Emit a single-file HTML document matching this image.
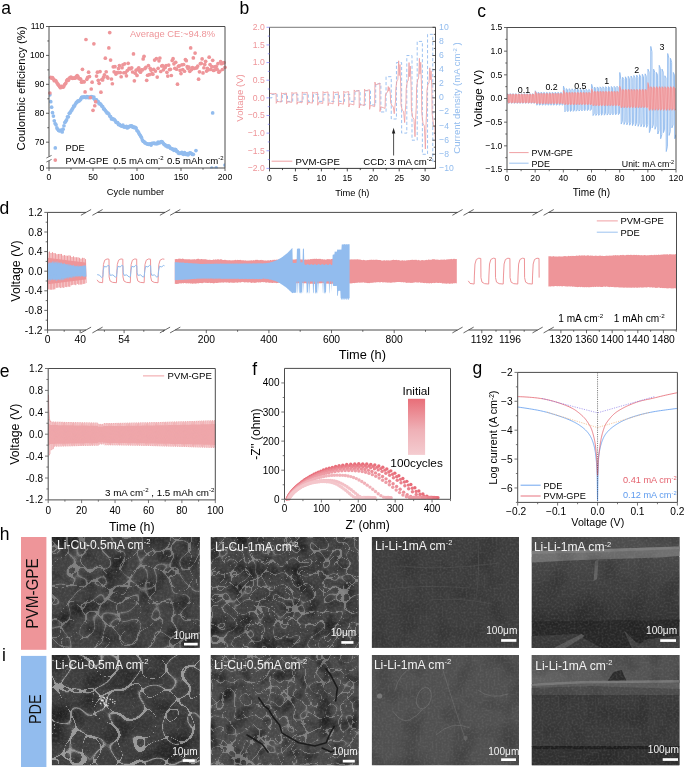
<!DOCTYPE html>
<html lang="en"><head><meta charset="utf-8"><title>Figure</title>
<style>
html,body{margin:0;padding:0;background:#fff;}
body{width:685px;height:767px;overflow:hidden;}
svg{display:block;font-family:"Liberation Sans",Arial,Helvetica,sans-serif;}
</style></head><body>
<svg width="685" height="767" viewBox="0 0 685 767">
<rect width="685" height="767" fill="#fff"/>
<defs></defs>
<clipPath id="ca"><rect x="49.0" y="26.5" width="176.0" height="142.0"/></clipPath>
<g fill="#92bcee" clip-path="url(#ca)">
<circle cx="49.88" cy="94.82" r="1.85"/>
<circle cx="50.76" cy="101.68" r="1.85"/>
<circle cx="51.64" cy="107.17" r="1.85"/>
<circle cx="52.52" cy="112.68" r="1.85"/>
<circle cx="53.4" cy="116.08" r="1.85"/>
<circle cx="54.28" cy="120.76" r="1.85"/>
<circle cx="55.16" cy="123.55" r="1.85"/>
<circle cx="56.04" cy="124.81" r="1.85"/>
<circle cx="56.92" cy="127.93" r="1.85"/>
<circle cx="57.8" cy="129.3" r="1.85"/>
<circle cx="58.68" cy="130.44" r="1.85"/>
<circle cx="59.56" cy="130.8" r="1.85"/>
<circle cx="60.44" cy="130.53" r="1.85"/>
<circle cx="61.32" cy="130.12" r="1.85"/>
<circle cx="62.2" cy="131.95" r="1.85"/>
<circle cx="63.08" cy="129.15" r="1.85"/>
<circle cx="63.96" cy="125.73" r="1.85"/>
<circle cx="64.84" cy="122.48" r="1.85"/>
<circle cx="65.72" cy="121.37" r="1.85"/>
<circle cx="66.6" cy="119.87" r="1.85"/>
<circle cx="67.48" cy="116.84" r="1.85"/>
<circle cx="68.36" cy="116.86" r="1.85"/>
<circle cx="69.24" cy="113.36" r="1.85"/>
<circle cx="70.12" cy="112.65" r="1.85"/>
<circle cx="71" cy="111.09" r="1.85"/>
<circle cx="71.88" cy="109.9" r="1.85"/>
<circle cx="72.76" cy="108.28" r="1.85"/>
<circle cx="73.64" cy="106.01" r="1.85"/>
<circle cx="74.52" cy="106.06" r="1.85"/>
<circle cx="75.4" cy="104.01" r="1.85"/>
<circle cx="76.28" cy="102.65" r="1.85"/>
<circle cx="77.16" cy="101.95" r="1.85"/>
<circle cx="78.04" cy="100.82" r="1.85"/>
<circle cx="78.92" cy="101.03" r="1.85"/>
<circle cx="79.8" cy="100.27" r="1.85"/>
<circle cx="80.68" cy="99.2" r="1.85"/>
<circle cx="81.56" cy="97.47" r="1.85"/>
<circle cx="82.44" cy="97.21" r="1.85"/>
<circle cx="83.32" cy="97.47" r="1.85"/>
<circle cx="84.2" cy="96.94" r="1.85"/>
<circle cx="85.08" cy="97.23" r="1.85"/>
<circle cx="85.96" cy="97.57" r="1.85"/>
<circle cx="86.84" cy="96.59" r="1.85"/>
<circle cx="87.72" cy="96.81" r="1.85"/>
<circle cx="88.6" cy="97.75" r="1.85"/>
<circle cx="89.48" cy="97.11" r="1.85"/>
<circle cx="90.36" cy="97.23" r="1.85"/>
<circle cx="91.24" cy="96.55" r="1.85"/>
<circle cx="92.12" cy="96.87" r="1.85"/>
<circle cx="93" cy="97.78" r="1.85"/>
<circle cx="93.88" cy="97.1" r="1.85"/>
<circle cx="94.76" cy="99.57" r="1.85"/>
<circle cx="95.64" cy="99.69" r="1.85"/>
<circle cx="96.52" cy="99.73" r="1.85"/>
<circle cx="97.4" cy="101.67" r="1.85"/>
<circle cx="98.28" cy="101.71" r="1.85"/>
<circle cx="99.16" cy="103.75" r="1.85"/>
<circle cx="100.04" cy="103.6" r="1.85"/>
<circle cx="100.92" cy="104.53" r="1.85"/>
<circle cx="101.8" cy="106.04" r="1.85"/>
<circle cx="102.68" cy="106.56" r="1.85"/>
<circle cx="103.56" cy="108.82" r="1.85"/>
<circle cx="104.44" cy="109.17" r="1.85"/>
<circle cx="105.32" cy="110.5" r="1.85"/>
<circle cx="106.2" cy="111.65" r="1.85"/>
<circle cx="107.08" cy="112.94" r="1.85"/>
<circle cx="107.96" cy="113.19" r="1.85"/>
<circle cx="108.84" cy="114.01" r="1.85"/>
<circle cx="109.72" cy="116" r="1.85"/>
<circle cx="110.6" cy="116.65" r="1.85"/>
<circle cx="111.48" cy="118.9" r="1.85"/>
<circle cx="112.36" cy="118.64" r="1.85"/>
<circle cx="113.24" cy="119.4" r="1.85"/>
<circle cx="114.12" cy="119.35" r="1.85"/>
<circle cx="115" cy="120.34" r="1.85"/>
<circle cx="115.88" cy="122.08" r="1.85"/>
<circle cx="116.76" cy="122.53" r="1.85"/>
<circle cx="117.64" cy="122.61" r="1.85"/>
<circle cx="118.52" cy="124.57" r="1.85"/>
<circle cx="119.4" cy="124.33" r="1.85"/>
<circle cx="120.28" cy="125.28" r="1.85"/>
<circle cx="121.16" cy="125.75" r="1.85"/>
<circle cx="122.04" cy="126.23" r="1.85"/>
<circle cx="122.92" cy="125.15" r="1.85"/>
<circle cx="123.8" cy="126.81" r="1.85"/>
<circle cx="124.68" cy="126.93" r="1.85"/>
<circle cx="125.56" cy="127" r="1.85"/>
<circle cx="126.44" cy="126.39" r="1.85"/>
<circle cx="127.32" cy="127.92" r="1.85"/>
<circle cx="128.2" cy="127.1" r="1.85"/>
<circle cx="129.08" cy="126.82" r="1.85"/>
<circle cx="129.96" cy="126.08" r="1.85"/>
<circle cx="130.84" cy="126.13" r="1.85"/>
<circle cx="131.72" cy="125.97" r="1.85"/>
<circle cx="132.6" cy="127.08" r="1.85"/>
<circle cx="133.48" cy="126.73" r="1.85"/>
<circle cx="134.36" cy="127.66" r="1.85"/>
<circle cx="135.24" cy="127.4" r="1.85"/>
<circle cx="136.12" cy="128.07" r="1.85"/>
<circle cx="137" cy="130.51" r="1.85"/>
<circle cx="137.88" cy="131.27" r="1.85"/>
<circle cx="138.76" cy="132.89" r="1.85"/>
<circle cx="139.64" cy="134.62" r="1.85"/>
<circle cx="140.52" cy="135.85" r="1.85"/>
<circle cx="141.4" cy="137.37" r="1.85"/>
<circle cx="142.28" cy="139.77" r="1.85"/>
<circle cx="143.16" cy="141.33" r="1.85"/>
<circle cx="144.04" cy="141.53" r="1.85"/>
<circle cx="144.92" cy="142.68" r="1.85"/>
<circle cx="145.8" cy="143.32" r="1.85"/>
<circle cx="146.68" cy="143.58" r="1.85"/>
<circle cx="147.56" cy="144.04" r="1.85"/>
<circle cx="148.44" cy="144.33" r="1.85"/>
<circle cx="149.32" cy="144.06" r="1.85"/>
<circle cx="150.2" cy="143.88" r="1.85"/>
<circle cx="151.08" cy="145.08" r="1.85"/>
<circle cx="151.96" cy="143.3" r="1.85"/>
<circle cx="152.84" cy="143.48" r="1.85"/>
<circle cx="153.72" cy="143.22" r="1.85"/>
<circle cx="154.6" cy="143.31" r="1.85"/>
<circle cx="155.48" cy="143.77" r="1.85"/>
<circle cx="156.36" cy="143.4" r="1.85"/>
<circle cx="157.24" cy="143.63" r="1.85"/>
<circle cx="158.12" cy="142.2" r="1.85"/>
<circle cx="159" cy="142.99" r="1.85"/>
<circle cx="159.88" cy="142.62" r="1.85"/>
<circle cx="160.76" cy="141.97" r="1.85"/>
<circle cx="161.64" cy="141.71" r="1.85"/>
<circle cx="162.52" cy="142.16" r="1.85"/>
<circle cx="163.4" cy="143.55" r="1.85"/>
<circle cx="164.28" cy="144.46" r="1.85"/>
<circle cx="165.16" cy="144.97" r="1.85"/>
<circle cx="166.04" cy="145.88" r="1.85"/>
<circle cx="166.92" cy="145.84" r="1.85"/>
<circle cx="167.8" cy="147.02" r="1.85"/>
<circle cx="168.68" cy="145.8" r="1.85"/>
<circle cx="169.56" cy="146.82" r="1.85"/>
<circle cx="170.44" cy="148.26" r="1.85"/>
<circle cx="171.32" cy="148.55" r="1.85"/>
<circle cx="172.2" cy="148.85" r="1.85"/>
<circle cx="173.08" cy="149.32" r="1.85"/>
<circle cx="173.96" cy="150.32" r="1.85"/>
<circle cx="174.84" cy="149.35" r="1.85"/>
<circle cx="175.72" cy="149.57" r="1.85"/>
<circle cx="176.6" cy="151.14" r="1.85"/>
<circle cx="177.48" cy="151.61" r="1.85"/>
<circle cx="178.36" cy="152.92" r="1.85"/>
<circle cx="179.24" cy="153.4" r="1.85"/>
<circle cx="180.12" cy="153.05" r="1.85"/>
<circle cx="181" cy="153.36" r="1.85"/>
<circle cx="181.88" cy="152.36" r="1.85"/>
<circle cx="182.76" cy="153.85" r="1.85"/>
<circle cx="183.64" cy="154.28" r="1.85"/>
<circle cx="184.52" cy="152.55" r="1.85"/>
<circle cx="185.4" cy="153.55" r="1.85"/>
<circle cx="186.28" cy="154.46" r="1.85"/>
<circle cx="187.16" cy="153.7" r="1.85"/>
<circle cx="188.04" cy="154.78" r="1.85"/>
<circle cx="188.92" cy="153.8" r="1.85"/>
<circle cx="189.8" cy="152.92" r="1.85"/>
<circle cx="190.68" cy="153.19" r="1.85"/>
<circle cx="191.56" cy="153.57" r="1.85"/>
<circle cx="192.44" cy="154.48" r="1.85"/>
<circle cx="193.32" cy="154.31" r="1.85"/>
<circle cx="195.96" cy="150.57" r="1.85"/>
<circle cx="212.68" cy="112.97" r="1.85"/>
<circle cx="211.8" cy="168" r="1.85"/>
<circle cx="216.2" cy="167.9" r="1.85"/>
<circle cx="225" cy="165" r="1.85"/>
</g>
<g fill="#ee9599">
<circle cx="49.88" cy="93.02" r="1.85"/>
<circle cx="50.76" cy="77.34" r="1.85"/>
<circle cx="51.64" cy="78.17" r="1.85"/>
<circle cx="52.52" cy="77.6" r="1.85"/>
<circle cx="53.4" cy="79.05" r="1.85"/>
<circle cx="54.28" cy="80.66" r="1.85"/>
<circle cx="55.16" cy="80.26" r="1.85"/>
<circle cx="56.04" cy="81.06" r="1.85"/>
<circle cx="56.92" cy="82.74" r="1.85"/>
<circle cx="57.8" cy="84.03" r="1.85"/>
<circle cx="58.68" cy="85.15" r="1.85"/>
<circle cx="59.56" cy="86.54" r="1.85"/>
<circle cx="60.44" cy="87.66" r="1.85"/>
<circle cx="61.32" cy="86.46" r="1.85"/>
<circle cx="62.2" cy="86.57" r="1.85"/>
<circle cx="63.08" cy="87.15" r="1.85"/>
<circle cx="63.96" cy="86.07" r="1.85"/>
<circle cx="64.84" cy="84.25" r="1.85"/>
<circle cx="65.72" cy="83.23" r="1.85"/>
<circle cx="66.6" cy="80.89" r="1.85"/>
<circle cx="67.48" cy="79.5" r="1.85"/>
<circle cx="68.36" cy="80.35" r="1.85"/>
<circle cx="69.24" cy="78.3" r="1.85"/>
<circle cx="70.12" cy="77.53" r="1.85"/>
<circle cx="71" cy="77" r="1.85"/>
<circle cx="71.88" cy="78.08" r="1.85"/>
<circle cx="72.76" cy="78.35" r="1.85"/>
<circle cx="73.64" cy="78.19" r="1.85"/>
<circle cx="74.52" cy="78.13" r="1.85"/>
<circle cx="75.4" cy="77.96" r="1.85"/>
<circle cx="76.28" cy="76.61" r="1.85"/>
<circle cx="77.16" cy="75.66" r="1.85"/>
<circle cx="78.04" cy="76.63" r="1.85"/>
<circle cx="78.92" cy="78.47" r="1.85"/>
<circle cx="79.8" cy="78.76" r="1.85"/>
<circle cx="80.68" cy="79.14" r="1.85"/>
<circle cx="81.56" cy="82.14" r="1.85"/>
<circle cx="82.44" cy="69.3" r="1.85"/>
<circle cx="83.32" cy="81.64" r="1.85"/>
<circle cx="84.2" cy="81.82" r="1.85"/>
<circle cx="85.08" cy="91.9" r="1.85"/>
<circle cx="85.96" cy="39.51" r="1.85"/>
<circle cx="86.84" cy="79.36" r="1.85"/>
<circle cx="87.72" cy="77.29" r="1.85"/>
<circle cx="88.6" cy="72.19" r="1.85"/>
<circle cx="89.48" cy="76.6" r="1.85"/>
<circle cx="90.36" cy="97.55" r="1.85"/>
<circle cx="91.24" cy="88.99" r="1.85"/>
<circle cx="92.12" cy="82.22" r="1.85"/>
<circle cx="93" cy="110.37" r="1.85"/>
<circle cx="93.88" cy="43.85" r="1.85"/>
<circle cx="94.76" cy="105.74" r="1.85"/>
<circle cx="95.64" cy="101.69" r="1.85"/>
<circle cx="96.52" cy="76.08" r="1.85"/>
<circle cx="97.4" cy="72.21" r="1.85"/>
<circle cx="98.28" cy="80.32" r="1.85"/>
<circle cx="99.16" cy="83.29" r="1.85"/>
<circle cx="100.04" cy="71.54" r="1.85"/>
<circle cx="100.92" cy="92.21" r="1.85"/>
<circle cx="101.8" cy="79.58" r="1.85"/>
<circle cx="102.68" cy="79.91" r="1.85"/>
<circle cx="103.56" cy="77.14" r="1.85"/>
<circle cx="104.44" cy="74.78" r="1.85"/>
<circle cx="105.32" cy="58.17" r="1.85"/>
<circle cx="106.2" cy="71.76" r="1.85"/>
<circle cx="107.08" cy="76.94" r="1.85"/>
<circle cx="107.96" cy="78.12" r="1.85"/>
<circle cx="108.84" cy="47.9" r="1.85"/>
<circle cx="109.72" cy="32.57" r="1.85"/>
<circle cx="110.6" cy="60.05" r="1.85"/>
<circle cx="111.48" cy="78.99" r="1.85"/>
<circle cx="112.36" cy="83.76" r="1.85"/>
<circle cx="113.24" cy="66.83" r="1.85"/>
<circle cx="114.12" cy="71.83" r="1.85"/>
<circle cx="115" cy="66.67" r="1.85"/>
<circle cx="115.88" cy="74.1" r="1.85"/>
<circle cx="116.76" cy="72.51" r="1.85"/>
<circle cx="117.64" cy="72.71" r="1.85"/>
<circle cx="118.52" cy="68.61" r="1.85"/>
<circle cx="119.4" cy="65.54" r="1.85"/>
<circle cx="120.28" cy="72.56" r="1.85"/>
<circle cx="121.16" cy="76.76" r="1.85"/>
<circle cx="122.04" cy="67.77" r="1.85"/>
<circle cx="122.92" cy="64.86" r="1.85"/>
<circle cx="123.8" cy="72.77" r="1.85"/>
<circle cx="124.68" cy="63.81" r="1.85"/>
<circle cx="125.56" cy="72.58" r="1.85"/>
<circle cx="126.44" cy="75.86" r="1.85"/>
<circle cx="127.32" cy="70.56" r="1.85"/>
<circle cx="128.2" cy="63.28" r="1.85"/>
<circle cx="129.08" cy="68.39" r="1.85"/>
<circle cx="129.96" cy="68.81" r="1.85"/>
<circle cx="130.84" cy="68.49" r="1.85"/>
<circle cx="131.72" cy="67.84" r="1.85"/>
<circle cx="132.6" cy="72.02" r="1.85"/>
<circle cx="133.48" cy="53.97" r="1.85"/>
<circle cx="134.36" cy="80.87" r="1.85"/>
<circle cx="135.24" cy="73.16" r="1.85"/>
<circle cx="136.12" cy="70.2" r="1.85"/>
<circle cx="137" cy="75.38" r="1.85"/>
<circle cx="137.88" cy="69.22" r="1.85"/>
<circle cx="138.76" cy="67.83" r="1.85"/>
<circle cx="139.64" cy="70.91" r="1.85"/>
<circle cx="140.52" cy="72.21" r="1.85"/>
<circle cx="141.4" cy="69.86" r="1.85"/>
<circle cx="142.28" cy="69.89" r="1.85"/>
<circle cx="143.16" cy="58.96" r="1.85"/>
<circle cx="144.04" cy="56.29" r="1.85"/>
<circle cx="144.92" cy="68.58" r="1.85"/>
<circle cx="145.8" cy="67.46" r="1.85"/>
<circle cx="146.68" cy="80.3" r="1.85"/>
<circle cx="147.56" cy="75.26" r="1.85"/>
<circle cx="148.44" cy="65.51" r="1.85"/>
<circle cx="149.32" cy="74.71" r="1.85"/>
<circle cx="150.2" cy="68.34" r="1.85"/>
<circle cx="151.08" cy="70.21" r="1.85"/>
<circle cx="151.96" cy="73.71" r="1.85"/>
<circle cx="152.84" cy="74.17" r="1.85"/>
<circle cx="153.72" cy="69.32" r="1.85"/>
<circle cx="154.6" cy="60.05" r="1.85"/>
<circle cx="155.48" cy="71.04" r="1.85"/>
<circle cx="156.36" cy="58.59" r="1.85"/>
<circle cx="157.24" cy="77.12" r="1.85"/>
<circle cx="158.12" cy="68.34" r="1.85"/>
<circle cx="159" cy="60.87" r="1.85"/>
<circle cx="159.88" cy="58.01" r="1.85"/>
<circle cx="160.76" cy="71.52" r="1.85"/>
<circle cx="161.64" cy="66" r="1.85"/>
<circle cx="162.52" cy="65.68" r="1.85"/>
<circle cx="163.4" cy="69.78" r="1.85"/>
<circle cx="164.28" cy="67" r="1.85"/>
<circle cx="165.16" cy="67.61" r="1.85"/>
<circle cx="166.04" cy="65.58" r="1.85"/>
<circle cx="166.92" cy="72.36" r="1.85"/>
<circle cx="167.8" cy="76.09" r="1.85"/>
<circle cx="168.68" cy="65.11" r="1.85"/>
<circle cx="169.56" cy="69.55" r="1.85"/>
<circle cx="170.44" cy="69.32" r="1.85"/>
<circle cx="171.32" cy="75.48" r="1.85"/>
<circle cx="172.2" cy="60.48" r="1.85"/>
<circle cx="173.08" cy="58.66" r="1.85"/>
<circle cx="173.96" cy="63.78" r="1.85"/>
<circle cx="174.84" cy="68.35" r="1.85"/>
<circle cx="175.72" cy="62.27" r="1.85"/>
<circle cx="176.6" cy="69.19" r="1.85"/>
<circle cx="177.48" cy="84.17" r="1.85"/>
<circle cx="178.36" cy="66.23" r="1.85"/>
<circle cx="179.24" cy="65.95" r="1.85"/>
<circle cx="180.12" cy="70.4" r="1.85"/>
<circle cx="181" cy="73.58" r="1.85"/>
<circle cx="181.88" cy="64.81" r="1.85"/>
<circle cx="182.76" cy="69.49" r="1.85"/>
<circle cx="183.64" cy="64.49" r="1.85"/>
<circle cx="184.52" cy="71.24" r="1.85"/>
<circle cx="185.4" cy="59.58" r="1.85"/>
<circle cx="186.28" cy="60.64" r="1.85"/>
<circle cx="187.16" cy="66.71" r="1.85"/>
<circle cx="188.04" cy="68.54" r="1.85"/>
<circle cx="188.92" cy="67.18" r="1.85"/>
<circle cx="189.8" cy="71.33" r="1.85"/>
<circle cx="190.68" cy="47.9" r="1.85"/>
<circle cx="191.56" cy="69.56" r="1.85"/>
<circle cx="192.44" cy="67.72" r="1.85"/>
<circle cx="193.32" cy="57.93" r="1.85"/>
<circle cx="194.2" cy="68.47" r="1.85"/>
<circle cx="195.08" cy="53.11" r="1.85"/>
<circle cx="195.96" cy="68.02" r="1.85"/>
<circle cx="196.84" cy="67.72" r="1.85"/>
<circle cx="197.72" cy="66.01" r="1.85"/>
<circle cx="198.6" cy="79.13" r="1.85"/>
<circle cx="199.48" cy="71.86" r="1.85"/>
<circle cx="200.36" cy="63.61" r="1.85"/>
<circle cx="201.24" cy="63.38" r="1.85"/>
<circle cx="202.12" cy="58.94" r="1.85"/>
<circle cx="203" cy="72.93" r="1.85"/>
<circle cx="203.88" cy="67.74" r="1.85"/>
<circle cx="204.76" cy="64.45" r="1.85"/>
<circle cx="205.64" cy="61.32" r="1.85"/>
<circle cx="206.52" cy="71.04" r="1.85"/>
<circle cx="207.4" cy="68.3" r="1.85"/>
<circle cx="208.28" cy="69.83" r="1.85"/>
<circle cx="209.16" cy="57.16" r="1.85"/>
<circle cx="210.04" cy="64.6" r="1.85"/>
<circle cx="210.92" cy="69.47" r="1.85"/>
<circle cx="211.8" cy="66.6" r="1.85"/>
<circle cx="212.68" cy="60.35" r="1.85"/>
<circle cx="213.56" cy="70.51" r="1.85"/>
<circle cx="214.44" cy="66.83" r="1.85"/>
<circle cx="215.32" cy="69.74" r="1.85"/>
<circle cx="216.2" cy="66.3" r="1.85"/>
<circle cx="217.08" cy="69.17" r="1.85"/>
<circle cx="217.96" cy="63.63" r="1.85"/>
<circle cx="218.84" cy="72.15" r="1.85"/>
<circle cx="219.72" cy="71.27" r="1.85"/>
<circle cx="220.6" cy="61.66" r="1.85"/>
<circle cx="221.48" cy="63.68" r="1.85"/>
<circle cx="222.36" cy="69.5" r="1.85"/>
<circle cx="223.24" cy="62.94" r="1.85"/>
<circle cx="224.12" cy="62.69" r="1.85"/>
<circle cx="225" cy="67.37" r="1.85"/>
</g>
<line x1="49" y1="26.5" x2="225" y2="26.5" stroke="#4c4c4c" stroke-width="1.0" />
<line x1="225" y1="26.5" x2="225" y2="168" stroke="#4c4c4c" stroke-width="1.0" />
<line x1="49" y1="26.5" x2="49" y2="156.6" stroke="#4c4c4c" stroke-width="1.0" />
<line x1="49" y1="160.8" x2="49" y2="168" stroke="#4c4c4c" stroke-width="1.0" />
<line x1="49" y1="168" x2="225" y2="168" stroke="#4c4c4c" stroke-width="1.0" />
<line x1="46.4" y1="158" x2="51.6" y2="155.4" stroke="#3a3a3a" stroke-width="0.7" />
<line x1="46.4" y1="162" x2="51.6" y2="159.4" stroke="#3a3a3a" stroke-width="0.7" />
<line x1="46" y1="142.18" x2="49" y2="142.18" stroke="#3a3a3a" stroke-width="0.8" />
<text transform="translate(44.4 145.08) scale(0.92 1)" font-size="9.4" text-anchor="end" fill="#000" >70</text>
<line x1="46" y1="113.26" x2="49" y2="113.26" stroke="#3a3a3a" stroke-width="0.8" />
<text transform="translate(44.4 116.16) scale(0.92 1)" font-size="9.4" text-anchor="end" fill="#000" >80</text>
<line x1="46" y1="84.34" x2="49" y2="84.34" stroke="#3a3a3a" stroke-width="0.8" />
<text transform="translate(44.4 87.24) scale(0.92 1)" font-size="9.4" text-anchor="end" fill="#000" >90</text>
<line x1="46" y1="55.42" x2="49" y2="55.42" stroke="#3a3a3a" stroke-width="0.8" />
<text transform="translate(44.4 58.32) scale(0.92 1)" font-size="9.4" text-anchor="end" fill="#000" >100</text>
<line x1="46" y1="26.5" x2="49" y2="26.5" stroke="#3a3a3a" stroke-width="0.8" />
<text transform="translate(44.4 29.4) scale(0.92 1)" font-size="9.4" text-anchor="end" fill="#000" >110</text>
<line x1="47.3" y1="127.72" x2="49" y2="127.72" stroke="#3a3a3a" stroke-width="0.8" />
<line x1="47.3" y1="98.8" x2="49" y2="98.8" stroke="#3a3a3a" stroke-width="0.8" />
<line x1="47.3" y1="69.88" x2="49" y2="69.88" stroke="#3a3a3a" stroke-width="0.8" />
<line x1="47.3" y1="40.96" x2="49" y2="40.96" stroke="#3a3a3a" stroke-width="0.8" />
<line x1="46" y1="168" x2="49" y2="168" stroke="#3a3a3a" stroke-width="0.8" />
<text transform="translate(44.4 170.9) scale(0.92 1)" font-size="9.4" text-anchor="end" fill="#000" >0</text>
<line x1="49" y1="168" x2="49" y2="171" stroke="#3a3a3a" stroke-width="0.8" />
<text transform="translate(49 180) scale(0.92 1)" font-size="9.4" text-anchor="middle" fill="#000" >0</text>
<line x1="93" y1="168" x2="93" y2="171" stroke="#3a3a3a" stroke-width="0.8" />
<text transform="translate(93 180) scale(0.92 1)" font-size="9.4" text-anchor="middle" fill="#000" >50</text>
<line x1="137" y1="168" x2="137" y2="171" stroke="#3a3a3a" stroke-width="0.8" />
<text transform="translate(137 180) scale(0.92 1)" font-size="9.4" text-anchor="middle" fill="#000" >100</text>
<line x1="181" y1="168" x2="181" y2="171" stroke="#3a3a3a" stroke-width="0.8" />
<text transform="translate(181 180) scale(0.92 1)" font-size="9.4" text-anchor="middle" fill="#000" >150</text>
<line x1="225" y1="168" x2="225" y2="171" stroke="#3a3a3a" stroke-width="0.8" />
<text transform="translate(225 180) scale(0.92 1)" font-size="9.4" text-anchor="middle" fill="#000" >200</text>
<line x1="71" y1="168" x2="71" y2="169.7" stroke="#3a3a3a" stroke-width="0.8" />
<line x1="115" y1="168" x2="115" y2="169.7" stroke="#3a3a3a" stroke-width="0.8" />
<line x1="159" y1="168" x2="159" y2="169.7" stroke="#3a3a3a" stroke-width="0.8" />
<line x1="203" y1="168" x2="203" y2="169.7" stroke="#3a3a3a" stroke-width="0.8" />
<text x="135.5" y="194.6" font-size="9.3" text-anchor="middle" fill="#000" >Cycle number</text>
<text x="25" y="88.4" font-size="11.3" text-anchor="middle" fill="#000" transform="rotate(-90 25 88.4)" >Coulombic efficiency (%)</text>
<circle cx="55.3" cy="147.9" r="1.85" fill="#92bcee"/>
<circle cx="55.3" cy="160.1" r="1.85" fill="#ee9599"/>
<text transform="translate(65.5 151.3) scale(0.95 1)" font-size="9.8" text-anchor="start" fill="#000" >PDE</text>
<text transform="translate(65.5 163.6) scale(0.95 1)" font-size="9.8" text-anchor="start" fill="#000" >PVM-GPE</text>
<text x="113" y="163.6" font-size="9.6" text-anchor="start" fill="#000" >0.5 mA cm<tspan dy="-3.46" font-size="5.95">-2</tspan><tspan dy="3.46" font-size="9.6">​</tspan></text>
<text x="167" y="163.6" font-size="9.6" text-anchor="start" fill="#000" >0.5 mAh cm<tspan dy="-3.46" font-size="5.95">-2</tspan><tspan dy="3.46" font-size="9.6">​</tspan></text>
<text x="130" y="37.2" font-size="9.4" text-anchor="start" fill="#ee9599" >Average CE:~94.8%</text>
<text x="1.3" y="13.8" font-size="17.5" text-anchor="start" fill="#000" >a</text>
<clipPath id="cb"><rect x="269.5" y="27.3" width="166.0" height="141.1"/></clipPath>
<polyline points="269.5,97.85 271.94,97.85 271.94,94.32 277.13,94.32 277.13,101.38 282.31,101.38 282.31,94.32 287.5,94.32 287.5,101.38 292.69,101.38 292.69,94.32 297.88,94.32 297.88,101.38 303.06,101.38 303.06,94.32 308.25,94.32 308.25,101.38 313.44,101.38 313.44,94.32 318.63,94.32 318.63,101.38 323.81,101.38 323.81,94.32 329,94.32 329,101.38 334.19,101.38 334.19,94.32 339.38,94.32 339.38,101.38 344.56,101.38 344.56,94.32 349.75,94.32 349.75,101.38 354.94,101.38 354.94,90.79 360.13,90.79 360.13,104.91 365.31,104.91 365.31,90.79 370.5,90.79 370.5,104.91 375.69,104.91 375.69,83.74 380.88,83.74 380.88,111.96 386.06,111.96 386.06,76.69 391.25,76.69 391.25,119.01 396.44,119.01 396.44,62.57 401.63,62.57 401.63,133.12 406.81,133.12 406.81,55.52 412,55.52 412,140.18 417.19,140.18 417.19,41.41 422.38,41.41 422.38,154.29 427.56,154.29 427.56,34.35 432.75,34.35 432.75,161.34 437.94,161.34" fill="none" stroke="#8bb7ee" stroke-width="0.85" stroke-linejoin="round" stroke-dasharray="3.2 2.1" clip-path="url(#cb)"/>
<polyline points="269.5,93.97 271.16,93.11 271.99,93.96 274.17,93.74 276.09,93.4 276.24,103.35 276.97,101.45 279.36,101.74 281.28,102.08 281.54,92.71 282.37,93.63 284.54,93.4 286.46,93.03 286.62,103.81 287.35,101.75 289.73,102.07 291.65,102.44 291.91,92.32 292.74,93.31 294.92,93.06 296.84,92.66 296.99,104.27 297.72,102.05 300.11,102.39 302.03,102.79 302.28,91.92 303.12,92.98 305.29,92.72 307.21,92.29 307.37,104.73 308.1,102.35 310.48,102.72 312.4,103.14 312.66,91.92 313.49,92.98 315.67,92.72 317.59,92.29 317.74,105.19 318.47,102.65 320.86,103.04 322.78,103.49 323.04,91.53 323.87,92.66 326.04,92.37 327.96,91.92 328.12,105.65 328.85,102.95 331.23,103.37 333.15,103.85 333.41,91.53 334.24,92.66 336.42,92.37 338.34,91.92 338.49,106.11 339.22,103.25 341.61,103.69 343.53,104.2 343.78,91.13 344.62,92.33 346.79,92.03 348.71,91.55 348.87,107.02 349.6,103.85 351.98,104.34 353.9,104.91 354.16,89.95 354.99,91.36 357.17,91.01 359.09,90.44 359.24,107.94 359.97,104.45 362.36,104.99 364.28,105.61 364.53,89.16 365.37,90.71 367.54,90.32 369.46,89.7 369.62,109.32 370.35,105.35 372.73,105.96 374.65,106.67 374.91,82.04 375.74,84.87 377.92,84.16 379.84,83.03 379.99,111.61 380.72,106.85 383.11,107.59 385.03,108.43 385.44,95.03 386.48,92.77 387.52,92.21 388.29,86.56 388.81,91.08 389.59,87.69 390.37,94.46 390.63,102.61 391.93,105.79 393.22,106.58 394.26,113.73 394.78,107.38 395.56,101.03 395.82,88.59 396.85,81.18 397.89,79.33 398.67,60.81 399.19,75.62 399.97,64.51 400.74,86.74 401,105.26 402.3,110.2 403.6,111.43 404.63,122.55 405.15,112.67 405.93,102.79 406.19,89.03 407.23,81.97 408.27,80.21 409.04,62.57 409.56,76.68 410.34,66.1 411.12,87.27 411.38,109.49 412.68,117.25 413.97,119.19 415.01,136.66 415.53,121.13 416.31,105.61 416.57,87.97 417.6,80.07 418.64,78.09 419.42,58.34 419.94,74.14 420.72,62.29 421.49,86 421.75,113.2 423.05,123.43 424.35,125.99 425.38,149.01 425.9,128.54 426.68,108.08 426.94,90.35 427.98,84.36 429.02,82.86 429.79,67.86 430.31,79.86 431.09,70.86 431.87,88.85 432.13,113.73 433.43,124.31 434.72,126.96 435.76,150.77 436.28,129.6 437.06,108.43" fill="none" stroke="#efa0a4" stroke-width="0.85" stroke-linejoin="round" clip-path="url(#cb)"/>
<line x1="269.5" y1="27.3" x2="435.5" y2="27.3" stroke="#555" stroke-width="0.8" />
<line x1="269.5" y1="27.3" x2="269.5" y2="168.4" stroke="#222" stroke-width="0.9" />
<line x1="269.5" y1="168.4" x2="435.5" y2="168.4" stroke="#222" stroke-width="0.9" />
<line x1="435.5" y1="27.3" x2="435.5" y2="168.4" stroke="#333" stroke-width="0.9" />
<line x1="266.5" y1="27.29" x2="269.5" y2="27.29" stroke="#8a8aff" stroke-width="0.8" />
<text transform="translate(264.7 30.09) scale(0.92 1)" font-size="9.4" text-anchor="end" fill="#ee9599" >2.0</text>
<line x1="266.5" y1="44.93" x2="269.5" y2="44.93" stroke="#8a8aff" stroke-width="0.8" />
<text transform="translate(264.7 47.73) scale(0.92 1)" font-size="9.4" text-anchor="end" fill="#ee9599" >1.5</text>
<line x1="266.5" y1="62.57" x2="269.5" y2="62.57" stroke="#8a8aff" stroke-width="0.8" />
<text transform="translate(264.7 65.37) scale(0.92 1)" font-size="9.4" text-anchor="end" fill="#ee9599" >1.0</text>
<line x1="266.5" y1="80.21" x2="269.5" y2="80.21" stroke="#8a8aff" stroke-width="0.8" />
<text transform="translate(264.7 83.01) scale(0.92 1)" font-size="9.4" text-anchor="end" fill="#ee9599" >0.5</text>
<line x1="266.5" y1="97.85" x2="269.5" y2="97.85" stroke="#8a8aff" stroke-width="0.8" />
<text transform="translate(264.7 100.65) scale(0.92 1)" font-size="9.4" text-anchor="end" fill="#ee9599" >0.0</text>
<line x1="266.5" y1="115.49" x2="269.5" y2="115.49" stroke="#8a8aff" stroke-width="0.8" />
<text transform="translate(264.7 118.29) scale(0.92 1)" font-size="9.4" text-anchor="end" fill="#ee9599" >−0.5</text>
<line x1="266.5" y1="133.13" x2="269.5" y2="133.13" stroke="#8a8aff" stroke-width="0.8" />
<text transform="translate(264.7 135.93) scale(0.92 1)" font-size="9.4" text-anchor="end" fill="#ee9599" >−1.0</text>
<line x1="266.5" y1="150.77" x2="269.5" y2="150.77" stroke="#8a8aff" stroke-width="0.8" />
<text transform="translate(264.7 153.57) scale(0.92 1)" font-size="9.4" text-anchor="end" fill="#ee9599" >−1.5</text>
<line x1="266.5" y1="168.41" x2="269.5" y2="168.41" stroke="#8a8aff" stroke-width="0.8" />
<text transform="translate(264.7 171.21) scale(0.92 1)" font-size="9.4" text-anchor="end" fill="#ee9599" >−2.0</text>
<line x1="267.8" y1="36.11" x2="269.5" y2="36.11" stroke="#8a8aff" stroke-width="0.8" />
<line x1="267.8" y1="53.75" x2="269.5" y2="53.75" stroke="#8a8aff" stroke-width="0.8" />
<line x1="267.8" y1="71.39" x2="269.5" y2="71.39" stroke="#8a8aff" stroke-width="0.8" />
<line x1="267.8" y1="89.03" x2="269.5" y2="89.03" stroke="#8a8aff" stroke-width="0.8" />
<line x1="267.8" y1="106.67" x2="269.5" y2="106.67" stroke="#8a8aff" stroke-width="0.8" />
<line x1="267.8" y1="124.31" x2="269.5" y2="124.31" stroke="#8a8aff" stroke-width="0.8" />
<line x1="267.8" y1="141.95" x2="269.5" y2="141.95" stroke="#8a8aff" stroke-width="0.8" />
<line x1="267.8" y1="159.59" x2="269.5" y2="159.59" stroke="#8a8aff" stroke-width="0.8" />
<line x1="432.5" y1="27.3" x2="435.5" y2="27.3" stroke="#333" stroke-width="0.8" />
<text transform="translate(439.1 29.8) scale(0.92 1)" font-size="9.4" text-anchor="start" fill="#92bcee" >10</text>
<line x1="432.5" y1="41.41" x2="435.5" y2="41.41" stroke="#333" stroke-width="0.8" />
<text transform="translate(439.1 43.91) scale(0.92 1)" font-size="9.4" text-anchor="start" fill="#92bcee" >8</text>
<line x1="432.5" y1="55.52" x2="435.5" y2="55.52" stroke="#333" stroke-width="0.8" />
<text transform="translate(439.1 58.02) scale(0.92 1)" font-size="9.4" text-anchor="start" fill="#92bcee" >6</text>
<line x1="432.5" y1="69.63" x2="435.5" y2="69.63" stroke="#333" stroke-width="0.8" />
<text transform="translate(439.1 72.13) scale(0.92 1)" font-size="9.4" text-anchor="start" fill="#92bcee" >4</text>
<line x1="432.5" y1="83.74" x2="435.5" y2="83.74" stroke="#333" stroke-width="0.8" />
<text transform="translate(439.1 86.24) scale(0.92 1)" font-size="9.4" text-anchor="start" fill="#92bcee" >2</text>
<line x1="432.5" y1="97.85" x2="435.5" y2="97.85" stroke="#333" stroke-width="0.8" />
<text transform="translate(439.1 100.35) scale(0.92 1)" font-size="9.4" text-anchor="start" fill="#92bcee" >0</text>
<line x1="432.5" y1="111.96" x2="435.5" y2="111.96" stroke="#333" stroke-width="0.8" />
<text transform="translate(439.1 114.46) scale(0.92 1)" font-size="9.4" text-anchor="start" fill="#92bcee" >−2</text>
<line x1="432.5" y1="126.07" x2="435.5" y2="126.07" stroke="#333" stroke-width="0.8" />
<text transform="translate(439.1 128.57) scale(0.92 1)" font-size="9.4" text-anchor="start" fill="#92bcee" >−4</text>
<line x1="432.5" y1="140.18" x2="435.5" y2="140.18" stroke="#333" stroke-width="0.8" />
<text transform="translate(439.1 142.68) scale(0.92 1)" font-size="9.4" text-anchor="start" fill="#92bcee" >−6</text>
<line x1="432.5" y1="154.29" x2="435.5" y2="154.29" stroke="#333" stroke-width="0.8" />
<text transform="translate(439.1 156.79) scale(0.92 1)" font-size="9.4" text-anchor="start" fill="#92bcee" >−8</text>
<line x1="432.5" y1="168.4" x2="435.5" y2="168.4" stroke="#333" stroke-width="0.8" />
<text transform="translate(439.1 170.9) scale(0.92 1)" font-size="9.4" text-anchor="start" fill="#92bcee" >−10</text>
<line x1="433.8" y1="34.35" x2="435.5" y2="34.35" stroke="#333" stroke-width="0.8" />
<line x1="433.8" y1="48.46" x2="435.5" y2="48.46" stroke="#333" stroke-width="0.8" />
<line x1="433.8" y1="62.57" x2="435.5" y2="62.57" stroke="#333" stroke-width="0.8" />
<line x1="433.8" y1="76.69" x2="435.5" y2="76.69" stroke="#333" stroke-width="0.8" />
<line x1="433.8" y1="90.79" x2="435.5" y2="90.79" stroke="#333" stroke-width="0.8" />
<line x1="433.8" y1="104.91" x2="435.5" y2="104.91" stroke="#333" stroke-width="0.8" />
<line x1="433.8" y1="119.01" x2="435.5" y2="119.01" stroke="#333" stroke-width="0.8" />
<line x1="433.8" y1="133.12" x2="435.5" y2="133.12" stroke="#333" stroke-width="0.8" />
<line x1="433.8" y1="147.23" x2="435.5" y2="147.23" stroke="#333" stroke-width="0.8" />
<line x1="433.8" y1="161.34" x2="435.5" y2="161.34" stroke="#333" stroke-width="0.8" />
<line x1="269.5" y1="168.4" x2="269.5" y2="171.4" stroke="#222" stroke-width="0.8" />
<text transform="translate(269.5 180.7) scale(0.92 1)" font-size="9.4" text-anchor="middle" fill="#000" >0</text>
<line x1="295.44" y1="168.4" x2="295.44" y2="171.4" stroke="#222" stroke-width="0.8" />
<text transform="translate(295.44 180.7) scale(0.92 1)" font-size="9.4" text-anchor="middle" fill="#000" >5</text>
<line x1="321.38" y1="168.4" x2="321.38" y2="171.4" stroke="#222" stroke-width="0.8" />
<text transform="translate(321.38 180.7) scale(0.92 1)" font-size="9.4" text-anchor="middle" fill="#000" >10</text>
<line x1="347.31" y1="168.4" x2="347.31" y2="171.4" stroke="#222" stroke-width="0.8" />
<text transform="translate(347.31 180.7) scale(0.92 1)" font-size="9.4" text-anchor="middle" fill="#000" >15</text>
<line x1="373.25" y1="168.4" x2="373.25" y2="171.4" stroke="#222" stroke-width="0.8" />
<text transform="translate(373.25 180.7) scale(0.92 1)" font-size="9.4" text-anchor="middle" fill="#000" >20</text>
<line x1="399.19" y1="168.4" x2="399.19" y2="171.4" stroke="#222" stroke-width="0.8" />
<text transform="translate(399.19 180.7) scale(0.92 1)" font-size="9.4" text-anchor="middle" fill="#000" >25</text>
<line x1="425.12" y1="168.4" x2="425.12" y2="171.4" stroke="#222" stroke-width="0.8" />
<text transform="translate(425.12 180.7) scale(0.92 1)" font-size="9.4" text-anchor="middle" fill="#000" >30</text>
<line x1="282.47" y1="168.4" x2="282.47" y2="170.1" stroke="#222" stroke-width="0.8" />
<line x1="308.41" y1="168.4" x2="308.41" y2="170.1" stroke="#222" stroke-width="0.8" />
<line x1="334.34" y1="168.4" x2="334.34" y2="170.1" stroke="#222" stroke-width="0.8" />
<line x1="360.28" y1="168.4" x2="360.28" y2="170.1" stroke="#222" stroke-width="0.8" />
<line x1="386.22" y1="168.4" x2="386.22" y2="170.1" stroke="#222" stroke-width="0.8" />
<line x1="412.16" y1="168.4" x2="412.16" y2="170.1" stroke="#222" stroke-width="0.8" />
<text x="352.3" y="195.5" font-size="9.3" text-anchor="middle" fill="#000" >Time (h)</text>
<text x="242.8" y="98" font-size="9.6" text-anchor="middle" fill="#ee9599" transform="rotate(-90 242.8 98)" >Voltage (V)</text>
<text x="460.2" y="98" font-size="9.6" text-anchor="middle" fill="#92bcee" transform="rotate(-90 460.2 98)" >Current density (mA cm<tspan dy="-3.46" font-size="5.95">-2</tspan><tspan dy="3.46" font-size="9.6">​</tspan> )</text>
<line x1="271.6" y1="161.2" x2="292.3" y2="161.2" stroke="#ee9599" stroke-width="0.9" />
<text x="295.6" y="164.6" font-size="9.6" text-anchor="start" fill="#000" >PVM-GPE</text>
<text x="363.3" y="164.6" font-size="9.6" text-anchor="start" fill="#000" >CCD: 3 mA cm<tspan dy="-3.46" font-size="5.95">-2</tspan><tspan dy="3.46" font-size="9.6">​</tspan></text>
<line x1="393.6" y1="155.5" x2="393.6" y2="132" stroke="#222" stroke-width="0.8" />
<polygon points="393.6,127.8 391.9,133.6 395.3,133.6" fill="#222" />
<text x="239.4" y="13.8" font-size="17.5" text-anchor="start" fill="#000" >b</text>
<clipPath id="cc"><rect x="507.0" y="27.5" width="169.0" height="142.0"/></clipPath>
<polyline points="507.14,93.77 508.27,94.24 508.55,103.23 509.68,102.76 509.96,93.77 511.08,94.24 511.37,103.23 512.49,102.76 512.77,93.77 513.9,94.24 514.18,103.23 515.31,102.76 515.59,93.77 516.72,94.24 517,103.23 518.13,102.76 518.41,93.77 519.53,94.24 519.82,103.23 520.94,102.76 521.22,93.77 522.35,94.24 522.63,103.23 523.76,102.76 524.04,93.77 525.17,94.24 525.45,103.23 526.58,102.76 526.86,93.77 527.98,94.24 528.27,103.23 529.39,102.76 529.67,93.77 530.8,94.24 531.08,103.23 532.21,102.76 532.49,93.77 533.62,94.24 533.9,103.23 535.03,102.76 535.31,90.81 536.43,92.96 536.72,105.13 537.84,104.46 538.12,92.35 539.25,92.96 539.53,105.13 540.66,104.46 540.94,92.35 542.07,92.96 542.35,105.13 543.48,104.46 543.76,92.35 544.88,92.96 545.17,105.13 546.29,104.46 546.57,92.35 547.7,92.96 547.98,105.13 549.11,104.46 549.39,92.35 550.52,92.96 550.8,105.13 551.93,104.46 552.21,92.35 553.33,92.96 553.62,105.13 554.74,104.46 555.02,92.35 556.15,92.96 556.43,105.13 557.56,104.46 557.84,92.35 558.97,92.96 559.25,105.13 560.38,104.46 560.66,92.35 561.78,92.96 562.07,105.13 563.19,104.46 563.47,86.08 564.6,89.55 564.88,111.75 566.01,110.43 566.29,88.66 567.42,89.64 567.7,111.61 568.83,110.3 569.11,88.75 570.23,89.73 570.52,111.47 571.64,110.17 571.92,88.84 573.05,89.81 573.33,111.33 574.46,110.04 574.74,88.94 575.87,89.9 576.15,111.18 577.28,109.92 577.56,89.03 578.68,89.98 578.97,111.04 580.09,109.79 580.37,89.13 581.5,90.07 581.78,110.9 582.91,109.66 583.19,89.22 584.32,90.15 584.6,110.76 585.73,109.53 586.01,89.32 587.13,90.24 587.42,110.62 588.54,109.4 588.82,89.41 589.95,90.32 590.23,110.47 591.36,109.28 591.64,84.3 592.77,88.28 593.05,115.54 594.18,113.83 594.46,87.05 595.58,88.19 595.87,115.44 596.99,113.75 597.27,86.95 598.4,88.11 598.68,115.35 599.81,113.66 600.09,86.86 601.22,88.02 601.5,115.25 602.63,113.58 602.91,86.76 604.03,87.94 604.32,115.16 605.44,113.49 605.72,86.67 606.85,87.85 607.13,115.07 608.26,113.41 608.54,86.57 609.67,87.77 609.95,114.97 611.08,113.32 611.36,86.48 612.48,87.68 612.77,114.88 613.89,113.24 614.17,86.38 615.3,87.6 615.58,114.78 616.71,113.15 616.99,86.29 618.12,87.51 618.4,114.69 619.53,113.07 619.81,72.47 620.93,79.76 621.22,124.06 622.34,121.5 622.62,77.25 623.75,79.37 624.03,124.44 625.16,121.84 625.44,76.82 626.57,78.99 626.85,124.82 627.98,122.18 628.26,76.4 629.38,78.61 629.67,125.19 630.79,122.52 631.07,75.97 632.2,78.22 632.48,125.57 633.61,122.87 633.89,75.54 635.02,77.84 635.3,125.95 636.43,123.21 636.71,75.12 637.83,77.46 638.12,126.33 639.24,123.55 639.52,74.69 640.65,77.07 640.93,126.71 642.06,123.89 642.34,74.27 643.47,76.69 643.75,127.09 644.88,124.23 645.16,73.84 646.28,76.31 646.57,127.47 647.69,124.57 647.97,69.16 649.1,72.09 649.38,132.58 650.51,129.17 650.79,46.44 651.92,51.64 652.2,127.84 653.33,124.91 653.61,69.16 654.73,72.09 655.02,129.26 656.14,126.19 656.42,72.47 657.55,75.07 657.83,134 658.96,130.45 659.24,65.37 660.37,68.68 660.65,138.73 661.78,134.71 662.06,69.16 663.18,72.09 663.47,132.58 664.59,129.17 664.87,75.78 666,78.05 666.28,151.51 667.41,146.21 667.69,53.54 668.82,58.03 669.1,135.42 670.23,131.73 670.51,58.27 671.63,62.29 671.92,127.84 673.04,124.91 673.32,72.47 674.45,75.07 674.73,138.73 675.86,134.71" fill="none" stroke="#92bcee" stroke-width="0.95" stroke-linejoin="round" clip-path="url(#cc)"/>
<polygon points="507,94.75 507.7,94.75 508.41,94.75 509.11,94.75 509.82,94.75 510.52,94.75 511.23,94.75 511.93,94.75 512.63,94.75 513.34,94.75 514.04,94.75 514.75,94.75 515.45,94.75 516.15,94.75 516.86,94.75 517.56,94.75 518.27,94.75 518.97,94.75 519.67,94.75 520.38,94.75 521.08,94.75 521.79,94.75 522.49,94.75 523.2,94.75 523.9,94.75 524.6,94.75 525.31,94.75 526.01,94.75 526.72,94.75 527.42,94.75 528.12,94.75 528.83,94.75 529.53,94.75 530.24,94.75 530.94,94.75 531.65,94.75 532.35,94.75 533.05,94.75 533.76,94.75 534.46,94.75 535.17,94.13 535.87,94.13 536.58,94.13 537.28,94.13 537.98,94.13 538.69,94.13 539.39,94.13 540.1,94.13 540.8,94.13 541.5,94.13 542.21,94.13 542.91,94.13 543.62,94.13 544.32,94.13 545.02,94.13 545.73,94.13 546.43,94.13 547.14,94.13 547.84,94.13 548.55,94.13 549.25,94.13 549.95,94.13 550.66,94.13 551.36,94.13 552.07,94.13 552.77,94.13 553.48,94.13 554.18,94.13 554.88,94.13 555.59,94.13 556.29,94.13 557,94.13 557.7,94.13 558.4,94.13 559.11,94.13 559.81,94.13 560.52,94.13 561.22,94.13 561.92,94.13 562.63,94.13 563.33,93.29 564.04,93.29 564.74,93.29 565.45,93.29 566.15,93.29 566.85,93.29 567.56,93.29 568.26,93.29 568.97,93.29 569.67,93.29 570.38,93.29 571.08,93.29 571.78,93.29 572.49,93.29 573.19,93.29 573.9,93.29 574.6,93.29 575.3,93.29 576.01,93.29 576.71,93.29 577.42,93.29 578.12,93.29 578.83,93.29 579.53,93.29 580.23,93.29 580.94,93.29 581.64,93.29 582.35,93.29 583.05,93.29 583.75,93.29 584.46,93.29 585.16,93.29 585.87,93.29 586.57,93.29 587.27,93.29 587.98,93.29 588.68,93.29 589.39,93.29 590.09,93.29 590.8,93.29 591.5,92.25 592.2,92.25 592.91,92.25 593.61,92.25 594.32,92.25 595.02,92.25 595.73,92.25 596.43,92.25 597.13,92.25 597.84,92.25 598.54,92.25 599.25,92.25 599.95,92.25 600.65,92.25 601.36,92.25 602.06,92.25 602.77,92.25 603.47,92.25 604.17,92.25 604.88,92.25 605.58,92.25 606.29,92.25 606.99,92.25 607.7,92.25 608.4,92.25 609.1,92.25 609.81,92.25 610.51,92.25 611.22,92.25 611.92,92.25 612.62,92.25 613.33,92.25 614.03,92.25 614.74,92.25 615.44,92.25 616.15,92.25 616.85,92.25 617.55,92.25 618.26,92.25 618.96,92.25 619.67,90.59 620.37,90.59 621.08,90.59 621.78,90.59 622.48,90.59 623.19,90.59 623.89,90.59 624.6,90.59 625.3,90.59 626,90.59 626.71,90.59 627.41,90.59 628.12,90.59 628.82,90.59 629.52,90.59 630.23,90.59 630.93,90.59 631.64,90.59 632.34,90.59 633.05,90.59 633.75,90.59 634.45,90.59 635.16,90.59 635.86,90.59 636.57,90.59 637.27,90.59 637.98,90.59 638.68,90.59 639.38,90.59 640.09,90.59 640.79,90.59 641.5,90.59 642.2,90.59 642.9,90.59 643.61,90.59 644.31,90.59 645.02,90.59 645.72,90.59 646.42,90.59 647.13,90.59 647.83,88.3 648.54,88.3 649.24,88.3 649.95,88.3 650.65,88.3 651.35,88.3 652.06,88.3 652.76,88.3 653.47,88.3 654.17,88.3 654.88,88.3 655.58,88.3 656.28,88.3 656.99,88.3 657.69,88.3 658.4,88.3 659.1,88.3 659.8,88.3 660.51,88.3 661.21,88.3 661.92,88.3 662.62,88.3 663.33,88.3 664.03,88.3 664.73,88.3 665.44,88.3 666.14,88.3 666.85,88.3 667.55,88.3 668.25,88.3 668.96,88.3 669.66,88.3 670.37,88.3 671.07,88.3 671.77,88.3 672.48,88.3 673.18,88.3 673.89,88.3 674.59,88.3 675.3,88.3 676,88.3 676,108.7 675.3,108.7 674.59,108.7 673.89,108.7 673.18,108.7 672.48,108.7 671.77,108.7 671.07,108.7 670.37,108.7 669.66,108.7 668.96,108.7 668.25,108.7 667.55,108.7 666.85,108.7 666.14,108.7 665.44,108.7 664.73,108.7 664.03,108.7 663.33,108.7 662.62,108.7 661.92,108.7 661.21,108.7 660.51,108.7 659.8,108.7 659.1,108.7 658.4,108.7 657.69,108.7 656.99,108.7 656.28,108.7 655.58,108.7 654.88,108.7 654.17,108.7 653.47,108.7 652.76,108.7 652.06,108.7 651.35,108.7 650.65,108.7 649.95,108.7 649.24,108.7 648.54,108.7 647.83,108.7 647.13,106.41 646.42,106.41 645.72,106.41 645.02,106.41 644.31,106.41 643.61,106.41 642.9,106.41 642.2,106.41 641.5,106.41 640.79,106.41 640.09,106.41 639.38,106.41 638.68,106.41 637.98,106.41 637.27,106.41 636.57,106.41 635.86,106.41 635.16,106.41 634.45,106.41 633.75,106.41 633.05,106.41 632.34,106.41 631.64,106.41 630.93,106.41 630.23,106.41 629.52,106.41 628.82,106.41 628.12,106.41 627.41,106.41 626.71,106.41 626,106.41 625.3,106.41 624.6,106.41 623.89,106.41 623.19,106.41 622.48,106.41 621.78,106.41 621.08,106.41 620.37,106.41 619.67,106.41 618.96,104.75 618.26,104.75 617.55,104.75 616.85,104.75 616.15,104.75 615.44,104.75 614.74,104.75 614.03,104.75 613.33,104.75 612.62,104.75 611.92,104.75 611.22,104.75 610.51,104.75 609.81,104.75 609.1,104.75 608.4,104.75 607.7,104.75 606.99,104.75 606.29,104.75 605.58,104.75 604.88,104.75 604.17,104.75 603.47,104.75 602.77,104.75 602.06,104.75 601.36,104.75 600.65,104.75 599.95,104.75 599.25,104.75 598.54,104.75 597.84,104.75 597.13,104.75 596.43,104.75 595.73,104.75 595.02,104.75 594.32,104.75 593.61,104.75 592.91,104.75 592.2,104.75 591.5,104.75 590.8,103.71 590.09,103.71 589.39,103.71 588.68,103.71 587.98,103.71 587.27,103.71 586.57,103.71 585.87,103.71 585.16,103.71 584.46,103.71 583.75,103.71 583.05,103.71 582.35,103.71 581.64,103.71 580.94,103.71 580.23,103.71 579.53,103.71 578.83,103.71 578.12,103.71 577.42,103.71 576.71,103.71 576.01,103.71 575.3,103.71 574.6,103.71 573.9,103.71 573.19,103.71 572.49,103.71 571.78,103.71 571.08,103.71 570.38,103.71 569.67,103.71 568.97,103.71 568.26,103.71 567.56,103.71 566.85,103.71 566.15,103.71 565.45,103.71 564.74,103.71 564.04,103.71 563.33,103.71 562.63,102.87 561.92,102.87 561.22,102.87 560.52,102.87 559.81,102.87 559.11,102.87 558.4,102.87 557.7,102.87 557,102.87 556.29,102.87 555.59,102.87 554.88,102.87 554.18,102.87 553.48,102.87 552.77,102.87 552.07,102.87 551.36,102.87 550.66,102.87 549.95,102.87 549.25,102.87 548.55,102.87 547.84,102.87 547.14,102.87 546.43,102.87 545.73,102.87 545.02,102.87 544.32,102.87 543.62,102.87 542.91,102.87 542.21,102.87 541.5,102.87 540.8,102.87 540.1,102.87 539.39,102.87 538.69,102.87 537.98,102.87 537.28,102.87 536.58,102.87 535.87,102.87 535.17,102.87 534.46,102.25 533.76,102.25 533.05,102.25 532.35,102.25 531.65,102.25 530.94,102.25 530.24,102.25 529.53,102.25 528.83,102.25 528.12,102.25 527.42,102.25 526.72,102.25 526.01,102.25 525.31,102.25 524.6,102.25 523.9,102.25 523.2,102.25 522.49,102.25 521.79,102.25 521.08,102.25 520.38,102.25 519.67,102.25 518.97,102.25 518.27,102.25 517.56,102.25 516.86,102.25 516.15,102.25 515.45,102.25 514.75,102.25 514.04,102.25 513.34,102.25 512.63,102.25 511.93,102.25 511.23,102.25 510.52,102.25 509.82,102.25 509.11,102.25 508.41,102.25 507.7,102.25 507,102.25" fill="#f6c6c9" clip-path="url(#cc)"/>
<polyline points="507.14,94.24 508.27,94.67 508.55,102.76 509.68,102.33 509.96,94.24 511.08,94.67 511.37,102.76 512.49,102.33 512.77,94.24 513.9,94.67 514.18,102.76 515.31,102.33 515.59,94.24 516.72,94.67 517,102.76 518.13,102.33 518.41,94.24 519.53,94.67 519.82,102.76 520.94,102.33 521.22,94.24 522.35,94.67 522.63,102.76 523.76,102.33 524.04,94.24 525.17,94.67 525.45,102.76 526.58,102.33 526.86,94.24 527.98,94.67 528.27,102.76 529.39,102.33 529.67,94.24 530.8,94.67 531.08,102.76 532.21,102.33 532.49,94.24 533.62,94.67 533.9,102.76 535.03,102.33 535.31,91.79 536.43,94.03 536.72,103.47 537.84,102.97 538.12,93.53 539.25,94.03 539.53,103.47 540.66,102.97 540.94,93.53 542.07,94.03 542.35,103.47 543.48,102.97 543.76,93.53 544.88,94.03 545.17,103.47 546.29,102.97 546.57,93.53 547.7,94.03 547.98,103.47 549.11,102.97 549.39,93.53 550.52,94.03 550.8,103.47 551.93,102.97 552.21,93.53 553.33,94.03 553.62,103.47 554.74,102.97 555.02,93.53 556.15,94.03 556.43,103.47 557.56,102.97 557.84,93.53 558.97,94.03 559.25,103.47 560.38,102.97 560.66,93.53 561.78,94.03 562.07,103.47 563.19,102.97 563.47,90.51 564.6,93.18 564.88,104.42 566.01,103.82 566.29,92.58 567.42,93.18 567.7,104.42 568.83,103.82 569.11,92.58 570.23,93.18 570.52,104.42 571.64,103.82 571.92,92.58 573.05,93.18 573.33,104.42 574.46,103.82 574.74,92.58 575.87,93.18 576.15,104.42 577.28,103.82 577.56,92.58 578.68,93.18 578.97,104.42 580.09,103.82 580.37,92.58 581.5,93.18 581.78,104.42 582.91,103.82 583.19,92.58 584.32,93.18 584.6,104.42 585.73,103.82 586.01,92.58 587.13,93.18 587.42,104.42 588.54,103.82 588.82,92.58 589.95,93.18 590.23,104.42 591.36,103.82 591.64,88.92 592.77,92.11 593.05,105.6 594.18,104.89 594.46,91.4 595.58,92.11 595.87,105.6 596.99,104.89 597.27,91.4 598.4,92.11 598.68,105.6 599.81,104.89 600.09,91.4 601.22,92.11 601.5,105.6 602.63,104.89 602.91,91.4 604.03,92.11 604.32,105.6 605.44,104.89 605.72,91.4 606.85,92.11 607.13,105.6 608.26,104.89 608.54,91.4 609.67,92.11 609.95,105.6 611.08,104.89 611.36,91.4 612.48,92.11 612.77,105.6 613.89,104.89 614.17,91.4 615.3,92.11 615.58,105.6 616.71,104.89 616.99,91.4 618.12,92.11 618.4,105.6 619.53,104.89 619.81,86.36 620.93,90.41 621.22,107.49 622.34,106.59 622.62,89.51 623.75,90.41 624.03,107.49 625.16,106.59 625.44,89.51 626.57,90.41 626.85,107.49 627.98,106.59 628.26,89.51 629.38,90.41 629.67,107.49 630.79,106.59 631.07,89.51 632.2,90.41 632.48,107.49 633.61,106.59 633.89,89.51 635.02,90.41 635.3,107.49 636.43,106.59 636.71,89.51 637.83,90.41 638.12,107.49 639.24,106.59 639.52,89.51 640.65,90.41 640.93,107.49 642.06,106.59 642.34,89.51 643.47,90.41 643.75,107.49 644.88,106.59 645.16,89.51 646.28,90.41 646.57,107.49 647.69,106.59 647.97,82.85 649.1,88.06 649.38,110.1 650.51,108.94 650.79,86.9 651.92,88.06 652.2,110.1 653.33,108.94 653.61,86.9 654.73,88.06 655.02,110.1 656.14,108.94 656.42,86.9 657.55,88.06 657.83,110.1 658.96,108.94 659.24,86.9 660.37,88.06 660.65,110.1 661.78,108.94 662.06,86.9 663.18,88.06 663.47,110.1 664.59,108.94 664.87,86.9 666,88.06 666.28,110.1 667.41,108.94 667.69,86.9 668.82,88.06 669.1,110.1 670.23,108.94 670.51,86.9 671.63,88.06 671.92,110.1 673.04,108.94 673.32,86.9 674.45,88.06 674.73,110.1 675.86,108.94" fill="none" stroke="#ee9599" stroke-width="1.05" stroke-linejoin="round" clip-path="url(#cc)"/>
<line x1="507" y1="27.5" x2="676" y2="27.5" stroke="#4c4c4c" stroke-width="1.0" />
<line x1="676" y1="27.5" x2="676" y2="169.5" stroke="#4c4c4c" stroke-width="1.0" />
<line x1="507" y1="27.5" x2="507" y2="169.5" stroke="#4c4c4c" stroke-width="1.0" />
<line x1="507" y1="169.5" x2="676" y2="169.5" stroke="#4c4c4c" stroke-width="1.0" />
<line x1="504" y1="27.5" x2="507" y2="27.5" stroke="#444" stroke-width="0.8" />
<text transform="translate(502.4 30.2) scale(0.93 1)" font-size="9.3" text-anchor="end" fill="#000" >1.5</text>
<line x1="504" y1="51.17" x2="507" y2="51.17" stroke="#444" stroke-width="0.8" />
<text transform="translate(502.4 53.87) scale(0.93 1)" font-size="9.3" text-anchor="end" fill="#000" >1.0</text>
<line x1="504" y1="74.84" x2="507" y2="74.84" stroke="#444" stroke-width="0.8" />
<text transform="translate(502.4 77.54) scale(0.93 1)" font-size="9.3" text-anchor="end" fill="#000" >0.5</text>
<line x1="504" y1="98.5" x2="507" y2="98.5" stroke="#444" stroke-width="0.8" />
<text transform="translate(502.4 101.2) scale(0.93 1)" font-size="9.3" text-anchor="end" fill="#000" >0.0</text>
<line x1="504" y1="122.16" x2="507" y2="122.16" stroke="#444" stroke-width="0.8" />
<text transform="translate(502.4 124.86) scale(0.93 1)" font-size="9.3" text-anchor="end" fill="#000" >−0.5</text>
<line x1="504" y1="145.83" x2="507" y2="145.83" stroke="#444" stroke-width="0.8" />
<text transform="translate(502.4 148.53) scale(0.93 1)" font-size="9.3" text-anchor="end" fill="#000" >−1.0</text>
<line x1="504" y1="169.5" x2="507" y2="169.5" stroke="#444" stroke-width="0.8" />
<text transform="translate(502.4 172.19) scale(0.93 1)" font-size="9.3" text-anchor="end" fill="#000" >−1.5</text>
<line x1="505.3" y1="39.34" x2="507" y2="39.34" stroke="#444" stroke-width="0.8" />
<line x1="505.3" y1="63" x2="507" y2="63" stroke="#444" stroke-width="0.8" />
<line x1="505.3" y1="86.67" x2="507" y2="86.67" stroke="#444" stroke-width="0.8" />
<line x1="505.3" y1="110.33" x2="507" y2="110.33" stroke="#444" stroke-width="0.8" />
<line x1="505.3" y1="134" x2="507" y2="134" stroke="#444" stroke-width="0.8" />
<line x1="505.3" y1="157.66" x2="507" y2="157.66" stroke="#444" stroke-width="0.8" />
<line x1="507" y1="169.5" x2="507" y2="172.5" stroke="#444" stroke-width="0.8" />
<text transform="translate(507 181) scale(0.93 1)" font-size="9.3" text-anchor="middle" fill="#000" >0</text>
<line x1="535.17" y1="169.5" x2="535.17" y2="172.5" stroke="#444" stroke-width="0.8" />
<text transform="translate(535.17 181) scale(0.93 1)" font-size="9.3" text-anchor="middle" fill="#000" >20</text>
<line x1="563.33" y1="169.5" x2="563.33" y2="172.5" stroke="#444" stroke-width="0.8" />
<text transform="translate(563.33 181) scale(0.93 1)" font-size="9.3" text-anchor="middle" fill="#000" >40</text>
<line x1="591.5" y1="169.5" x2="591.5" y2="172.5" stroke="#444" stroke-width="0.8" />
<text transform="translate(591.5 181) scale(0.93 1)" font-size="9.3" text-anchor="middle" fill="#000" >60</text>
<line x1="619.67" y1="169.5" x2="619.67" y2="172.5" stroke="#444" stroke-width="0.8" />
<text transform="translate(619.67 181) scale(0.93 1)" font-size="9.3" text-anchor="middle" fill="#000" >80</text>
<line x1="647.83" y1="169.5" x2="647.83" y2="172.5" stroke="#444" stroke-width="0.8" />
<text transform="translate(647.83 181) scale(0.93 1)" font-size="9.3" text-anchor="middle" fill="#000" >100</text>
<line x1="676" y1="169.5" x2="676" y2="172.5" stroke="#444" stroke-width="0.8" />
<text transform="translate(676 181) scale(0.93 1)" font-size="9.3" text-anchor="middle" fill="#000" >120</text>
<line x1="521.08" y1="169.5" x2="521.08" y2="171.2" stroke="#444" stroke-width="0.8" />
<line x1="549.25" y1="169.5" x2="549.25" y2="171.2" stroke="#444" stroke-width="0.8" />
<line x1="577.42" y1="169.5" x2="577.42" y2="171.2" stroke="#444" stroke-width="0.8" />
<line x1="605.58" y1="169.5" x2="605.58" y2="171.2" stroke="#444" stroke-width="0.8" />
<line x1="633.75" y1="169.5" x2="633.75" y2="171.2" stroke="#444" stroke-width="0.8" />
<line x1="661.92" y1="169.5" x2="661.92" y2="171.2" stroke="#444" stroke-width="0.8" />
<text x="591.4" y="195.9" font-size="10.1" text-anchor="middle" fill="#000" >Time (h)</text>
<text x="482.4" y="98.2" font-size="11.5" text-anchor="middle" fill="#000" transform="rotate(-90 482.4 98.2)" >Voltage (V)</text>
<text x="524" y="92.8" font-size="8.9" text-anchor="middle" fill="#000" >0.1</text>
<text x="551.6" y="90.2" font-size="8.9" text-anchor="middle" fill="#000" >0.2</text>
<text x="580.3" y="89" font-size="8.9" text-anchor="middle" fill="#000" >0.5</text>
<text x="606.7" y="83.8" font-size="8.9" text-anchor="middle" fill="#000" >1</text>
<text x="636.8" y="73" font-size="8.9" text-anchor="middle" fill="#000" >2</text>
<text x="662" y="49.6" font-size="8.9" text-anchor="middle" fill="#000" >3</text>
<line x1="509.2" y1="152.6" x2="528.6" y2="152.6" stroke="#ee9599" stroke-width="0.9" />
<line x1="509.2" y1="163.2" x2="528.6" y2="163.2" stroke="#92bcee" stroke-width="0.9" />
<text transform="translate(531.6 155.9) scale(0.94 1)" font-size="9.5" text-anchor="start" fill="#000" >PVM-GPE</text>
<text transform="translate(531.6 166.6) scale(0.94 1)" font-size="9.5" text-anchor="start" fill="#000" >PDE</text>
<text x="621.8" y="166.8" font-size="8.8" text-anchor="start" fill="#000" >Unit: mA cm<tspan dy="-3.17" font-size="5.46">-2</tspan><tspan dy="3.17" font-size="8.8">​</tspan></text>
<text x="477.3" y="17.1" font-size="17.5" text-anchor="start" fill="#000" >c</text>
<clipPath id="cd"><rect x="47.5" y="212.4" width="629.0" height="117.6"/></clipPath>
<polygon points="48,257.82 48.5,257.89 49,257.95 49.5,258.01 50,258.08 50.5,258.14 51,258.2 51.5,258.27 52,258.33 52.5,258.39 53,258.45 53.5,258.52 54,258.58 54.5,258.64 55,258.71 55.5,258.77 56,258.83 56.5,258.9 57,258.96 57.5,259.02 58,259.09 58.5,259.15 59,259.21 59.5,259.28 60,259.34 60.5,259.4 61,259.47 61.5,259.53 62,259.59 62.5,259.66 63,259.72 63.5,259.78 64,259.84 64.5,259.91 65,259.97 65.5,260.03 66,260.1 66.5,260.16 67,260.22 67.5,260.29 68,260.35 68.5,260.41 69,260.48 69.5,260.54 70,260.6 70.5,260.67 71,260.73 71.5,260.79 72,260.86 72.5,260.92 73,260.98 73.5,261.05 74,261.11 74.5,261.17 75,261.23 75.5,261.3 76,261.36 76.5,261.42 77,261.49 77.5,261.55 78,261.61 78.5,261.68 79,261.74 79.5,261.8 80,261.87 80.5,261.93 81,261.99 81.5,262.06 82,262.12 82.5,262.18 83,262.25 83.5,262.31 84,262.37 84.5,262.44 85,262.5 85.5,262.56 86,262.62 86,279.43 85.5,279.5 85,279.56 84.5,279.62 84,279.68 83.5,279.75 83,279.81 82.5,279.87 82,279.94 81.5,280 81,280.06 80.5,280.13 80,280.19 79.5,280.25 79,280.32 78.5,280.38 78,280.44 77.5,280.51 77,280.57 76.5,280.63 76,280.7 75.5,280.76 75,280.82 74.5,280.89 74,280.95 73.5,281.01 73,281.07 72.5,281.14 72,281.2 71.5,281.26 71,281.33 70.5,281.39 70,281.45 69.5,281.52 69,281.58 68.5,281.64 68,281.71 67.5,281.77 67,281.83 66.5,281.9 66,281.96 65.5,282.02 65,282.09 64.5,282.15 64,282.21 63.5,282.28 63,282.34 62.5,282.4 62,282.46 61.5,282.53 61,282.59 60.5,282.65 60,282.72 59.5,282.78 59,282.84 58.5,282.91 58,282.97 57.5,283.03 57,283.1 56.5,283.16 56,283.22 55.5,283.29 55,283.35 54.5,283.41 54,283.48 53.5,283.54 53,283.6 52.5,283.67 52,283.73 51.5,283.79 51,283.85 50.5,283.92 50,283.98 49.5,284.04 49,284.11 48.5,284.17 48,284.23" fill="#ee9599" />
<polyline points="48,252.15 48.75,289.35 49.5,251.67 50.25,289.62 51,252.97 51.75,289.7 52.5,252.25 53.25,289.43 54,253.05 54.75,289.26 55.5,253.41 56.25,287.8 57,254.25 57.75,287.72 58.5,253.97 59.25,287.36 60,253.96 60.75,288.05 61.5,253.94 62.25,287.4 63,255.5 63.75,287.84 64.5,255.08 65.25,286.91 66,255.63 66.75,287.1 67.5,255.84 68.25,286.57 69,255.38 69.75,286.76 70.5,255.78 71.25,285.26 72,256.98 72.75,284.86 73.5,256.38 74.25,284.63 75,257.27 75.75,285.13 76.5,257.39 77.25,283.94 78,257.37 78.75,284.61 79.5,257.88 80.25,284.46 81,258.71 81.75,284.45 82.5,257.83 83.25,283.91 84,257.95 84.75,283.69 85.5,259.2 86.25,283.03" fill="none" stroke="#ee9599" stroke-width="0.75" stroke-linejoin="round" />
<polygon points="48,263.85 48.5,263.65 49,263.15 49.5,263.16 50,263.17 50.5,263.27 51,263 51.5,262.95 52,263.22 52.5,263.05 53,263.56 53.5,263 54,263.21 54.5,262.96 55,263.04 55.5,263.33 56,263.52 56.5,262.85 57,263.5 57.5,263.26 58,263.4 58.5,263.48 59,263.18 59.5,263.05 60,263.68 60.5,263.43 61,263.79 61.5,263.67 62,263.88 62.5,264.15 63,264.25 63.5,264.31 64,263.87 64.5,264.3 65,264.62 65.5,264.2 66,264.24 66.5,264.78 67,265.14 67.5,265.21 68,265.4 68.5,265.32 69,265.62 69.5,265.61 70,265.7 70.5,265.56 71,265.41 71.5,265.61 72,265.96 72.5,266.04 73,266.04 73.5,266.22 74,266.32 74.5,266.59 75,266.48 75.5,265.98 76,266.68 76.5,266.42 77,266.35 77.5,266.18 78,266.7 78.5,266.66 79,266.68 79.5,266.56 80,266.51 80.5,266.09 81,266.15 81.5,266.1 82,266.74 82.5,266.69 83,266.12 83.5,265.93 84,266.22 84.5,266.08 85,266.5 85.5,266.14 86,265.67 86,276.14 85.5,276.07 85,275.93 84.5,276.44 84,276.51 83.5,276.43 83,276.09 82.5,275.93 82,275.69 81.5,275.83 81,275.86 80.5,275.75 80,275.97 79.5,275.88 79,276.28 78.5,275.69 78,276.13 77.5,275.6 77,275.84 76.5,276.13 76,276.3 75.5,276.24 75,275.99 74.5,275.99 74,276.51 73.5,276.61 73,276.33 72.5,276.36 72,276.59 71.5,276.81 71,276.61 70.5,277.17 70,277.04 69.5,277.02 69,276.74 68.5,277.09 68,277.02 67.5,277.45 67,277.75 66.5,277.86 66,277.41 65.5,277.72 65,278.15 64.5,278.48 64,278.21 63.5,278.18 63,278.48 62.5,278.7 62,278.47 61.5,278.35 61,278.98 60.5,279.21 60,279.04 59.5,279.04 59,278.89 58.5,279.32 58,278.89 57.5,278.97 57,279.19 56.5,279.45 56,278.86 55.5,279.39 55,278.99 54.5,279.45 54,279.45 53.5,279.01 53,279.36 52.5,278.82 52,279.15 51.5,279.35 51,279.29 50.5,279.1 50,278.86 49.5,278.59 49,279.17 48.5,278.93 48,279.02" fill="#92bcee" />
<polyline points="48,262 48.75,280.29 49.5,262.74 50.25,280.53 51,262.25 51.75,279.86 52.5,261.66 53.25,280.14 54,261.47 54.75,280.01 55.5,262.12 56.25,280.76 57,261.58 57.75,280.15 58.5,262.59 59.25,280.1 60,262.45 60.75,280.19 61.5,262.75 62.25,280.13 63,263.39 63.75,279.71 64.5,263.4 65.25,278.69 66,264.01 66.75,278.3 67.5,264.32 68.25,278.51 69,264.1 69.75,277.67 70.5,264.84 71.25,278.06 72,265.12 72.75,277.43 73.5,264.95 74.25,277.34 75,265.7 75.75,276.44 76.5,266.17 77.25,276.78 78,265.47 78.75,276.37 79.5,266.22 80.25,277.09 81,266.14 81.75,276.28 82.5,265.83 83.25,276.56 84,265.06 84.75,277.11 85.5,265.51 86.25,276.67" fill="none" stroke="#92bcee" stroke-width="0.6" stroke-linejoin="round" />
<polyline points="97.08,279.84 98.75,282.14 102.62,282.71 102.9,274.65 103.45,264.46 104.7,260.18 107.06,258.95 108.99,259.19 109.13,276.96 110.1,280.99 112.59,282.37 116.47,282.71 116.75,274.65 117.3,264.46 118.55,260.18 120.91,258.95 122.84,259.19 122.98,276.96 123.95,280.99 126.44,282.37 130.32,282.71 130.6,274.65 131.15,264.46 132.4,260.18 134.75,258.95 136.69,259.19 136.83,276.96 137.8,280.99 140.29,282.37 144.17,282.71 144.45,274.65 145,264.46 146.25,260.18 148.6,258.95 150.54,259.19 150.68,276.96 151.65,280.99 154.14,282.37 158.02,282.71 158.3,274.65 158.85,264.46 160.1,260.18 162.46,258.95 164.39,259.19" fill="none" stroke="#ee9599" stroke-width="1.0" stroke-linejoin="round" />
<polyline points="97.2,274.63 99.5,275.12 101.6,277.57 102.9,276.59 103.3,270.22 104.1,266.3 106.4,267.03 107.9,265.32 109.1,265.81 109.4,272.67 110.2,275.37 112.9,274.88 115.3,277.08 116.5,276.59 117.15,270.22 117.95,266.3 120.25,267.03 121.75,265.32 122.95,265.81 123.25,272.67 124.05,275.37 126.75,274.88 129.15,277.08 130.35,276.59 131,270.22 131.8,266.3 134.1,267.03 135.6,265.32 136.8,265.81 137.1,272.67 137.9,275.37 140.6,274.88 143,277.08 144.2,276.59 144.85,270.22 145.65,266.3 147.95,267.03 149.45,265.32 150.65,265.81 150.95,272.67 151.75,275.37 154.45,274.88 156.85,277.08 158.05,276.59 158.7,270.22 159.5,266.3 161.8,267.03 163.3,265.32 164.5,265.81" fill="none" stroke="#92bcee" stroke-width="1.0" stroke-linejoin="round" />
<polygon points="174.8,259.09 175.4,259.24 176,258.92 176.6,259.09 177.2,259.07 177.8,259.18 178.4,258.7 179,258.58 179.6,258.73 180.2,258.54 180.8,259.09 181.4,258.98 182,258.87 182.6,258.62 183.2,258.67 183.8,259.05 184.4,259.19 185,259.14 185.6,259.17 186.2,258.97 186.8,259.46 187.4,259.15 188,259.23 188.6,259.21 189.2,259.26 189.8,259.37 190.4,259.54 191,259.54 191.6,259.5 192.2,259.22 192.8,259.6 193.4,259.49 194,259.12 194.6,259.37 195.2,259.43 195.8,259.4 196.4,259.05 197,259.15 197.6,258.74 198.2,258.77 198.8,258.7 199.4,259.13 200,259.25 200.6,259.26 201.2,259.06 201.8,258.98 202.4,259.19 203,259.37 203.6,259.33 204.2,259.28 204.8,259.32 205.4,259.34 206,259.35 206.6,259.52 207.2,259.89 207.8,259.52 208.4,259.88 209,259.74 209.6,259.87 210.2,259.66 210.8,259.97 211.4,259.93 212,259.91 212.6,259.93 213.2,259.47 213.8,259.61 214.4,259.71 215,259.63 215.6,259.24 216.2,259.49 216.8,259.63 217.4,259.27 218,259.35 218.6,259.15 219.2,259.69 219.8,259.49 220.4,259.32 221,259.35 221.6,259.36 222.2,259.93 222.8,259.85 223.4,260.02 224,260.05 224.6,259.66 225.2,259.96 225.8,259.82 226.4,260.21 227,259.97 227.6,260.25 228.2,260.39 228.8,260.11 229.4,260.02 230,260.51 230.6,260.21 231.2,260.17 231.8,260.38 232.4,260.25 233,260.35 233.6,260.26 234.2,260.19 234.8,259.94 235.4,259.87 236,260.1 236.6,260.18 237.2,259.98 237.8,259.76 238.4,260.05 239,259.99 239.6,260.07 240.2,259.76 240.8,259.94 241.4,260.28 242,260.31 242.6,260.19 243.2,260.17 243.8,260.18 244.4,260.56 245,260.58 245.6,260.31 246.2,260.53 246.8,260.64 247.4,260.65 248,260.29 248.6,260.67 249.2,260.51 249.8,260.61 250.4,260.55 251,260.25 251.6,260.13 252.2,260.45 252.8,260.49 253.4,260.12 254,260.37 254.6,260.43 255.2,259.86 255.8,260.1 256.4,259.83 257,260.04 257.6,259.75 258.2,259.99 258.8,260.17 259.4,260.27 260,259.98 260.6,259.96 261.2,259.84 261.8,260.36 262.4,260.1 263,260.3 263.6,260.27 264.2,260.53 264.8,260.49 265.4,260.38 266,260.17 266.6,260.67 267.2,260.46 267.8,260.27 268.4,260.16 269,260.59 269.6,260.59 270.2,260.07 270.8,259.99 271.4,260.22 272,260.41 272.6,259.83 273.2,260.08 273.8,259.71 274.4,259.81 275,259.63 275.6,259.97 276.2,259.56 276.8,259.86 277.4,259.73 278,259.46 278.6,259.47 279.2,259.86 279.8,259.86 280.4,259.78 281,259.74 281.6,259.86 282.2,260.06 282.8,260.03 283.4,259.79 284,259.72 284.6,260.26 285.2,259.97 285.8,259.88 286.4,260.31 287,259.83 287.6,260.24 288.2,259.93 288.8,259.92 289.4,259.83 290,259.96 290.6,259.83 291.2,259.67 291.8,259.69 292.4,259.48 293,259.54 293.6,259.47 294.2,259.65 294.8,259.25 295.4,259.28 296,259.39 296.6,259.05 297.2,259.02 297.8,259.21 298.4,259.37 299,259.22 299.6,259.46 300.2,259.48 300.8,259.34 301.4,259.58 302,259.41 302.6,259.42 303.2,259.73 303.8,259.42 304.4,259.78 305,259.42 305.6,259.41 306.2,259.57 306.8,259.83 307.4,259.55 308,259.6 308.6,259.22 309.2,259.66 309.8,259.18 310.4,259.04 311,259.13 311.6,259.02 312.2,259.32 312.8,258.79 313.4,259.02 314,258.69 314.6,258.67 315.2,259.08 315.8,258.69 316.4,258.59 317,259.1 317.6,258.94 318.2,258.72 318.8,259.1 319.4,258.71 320,259.12 320.6,258.85 321.2,259.3 321.8,259.14 322.4,258.95 323,259.42 323.6,259.43 324.2,259.33 324.8,259.47 325.4,259.65 326,259.58 326.6,259.59 327.2,259.12 327.8,259.25 328.4,259.1 329,259.49 329.6,259.08 330.2,259.42 330.8,259.13 331.4,259.01 332,259.12 332.6,258.77 333.2,258.92 333.8,258.87 334.4,258.66 335,259.1 335.6,258.58 336.2,258.79 336.8,258.95 337.4,258.74 338,259.09 338.6,258.71 339.2,259.01 339.8,259.2 340.4,259.02 341,259.28 341.6,259.5 342.2,259.23 342.8,259.7 343.4,259.3 344,259.68 344.6,259.49 345.2,259.31 345.8,259.56 346.4,259.52 347,259.72 347.6,259.89 348.2,259.85 348.8,259.75 349.4,259.44 350,259.5 350.6,259.41 351.2,259.15 351.8,259.55 352.4,259.46 353,259.18 353.6,259.53 354.2,259.53 354.8,259.32 355.4,259.47 356,259.35 356.6,259.45 357.2,259.28 357.8,259.33 358.4,259.61 359,259.43 359.6,259.59 360.2,259.86 360.8,259.46 361.4,259.94 362,260.06 362.6,260.15 363.2,259.89 363.8,259.8 364.4,259.88 365,260.13 365.6,260.23 366.2,260.38 366.8,260 367.4,260.03 368,260.13 368.6,259.92 369.2,260 369.8,259.67 370.4,259.74 371,259.99 371.6,259.56 372.2,260.04 372.8,259.72 373.4,259.78 374,259.87 374.6,259.97 375.2,259.56 375.8,260.04 376.4,259.75 377,259.57 377.6,260.09 378.2,260.11 378.8,259.93 379.4,260.06 380,260.05 380.6,260.01 381.2,260.45 381.8,260.43 382.4,260.49 383,260.68 383.6,260.22 384.2,260.3 384.8,260.35 385.4,260.77 386,260.27 386.6,260.3 387.2,260.44 387.8,260.24 388.4,260.36 389,260.45 389.6,260.47 390.2,260.34 390.8,260.41 391.4,260.19 392,259.9 392.6,259.9 393.2,259.79 393.8,259.85 394.4,260.11 395,259.95 395.6,260.04 396.2,259.86 396.8,260.05 397.4,260.24 398,260.07 398.6,259.93 399.2,260.43 399.8,260.09 400.4,260.66 401,260.56 401.6,260.62 402.2,260.35 402.8,260.26 403.4,260.39 404,260.64 404.6,260.31 405.2,260.62 405.8,260.64 406.4,260.21 407,260.33 407.6,260.23 408.2,260.19 408.8,259.94 409.4,260.18 410,259.9 410.6,259.92 411.2,259.77 411.8,259.97 412.4,259.76 413,259.82 413.6,259.95 414.2,260 414.8,259.76 415.4,260.09 416,259.62 416.6,260.1 417.2,260.2 417.8,260.2 418.4,259.76 419,260.15 419.6,260.31 420.2,260.41 420.8,260.44 421.4,260.09 422,260.14 422.6,260.12 423.2,260.09 423.8,260.48 424.4,260.14 425,260.24 425.6,259.93 426.2,259.88 426.8,259.78 427.4,260.2 428,259.66 428.6,259.56 429.2,259.47 429.8,259.89 430.4,259.77 431,259.77 431.6,259.76 432.2,259.24 432.8,259.23 433.4,259.32 434,259.19 434.6,259.31 435.2,259.52 435.8,259.65 436.4,259.68 437,259.33 437.6,259.69 438.2,259.67 438.8,259.65 439.4,259.92 440,259.82 440.6,259.84 441.2,259.61 441.8,259.82 442.4,259.86 443,259.47 443.6,259.72 444.2,259.49 444.8,259.59 445.4,259.89 446,259.61 446.6,259.53 447.2,259.27 447.8,259.45 448.4,259.17 449,259.2 449.6,259.33 450.2,258.89 450.8,259.29 451.4,258.82 452,259.17 452.6,259.25 453.2,259.12 453.8,258.8 454.4,258.68 455,259.28 455.6,259.02 456.2,259.06 456.8,258.93 456.8,283.42 456.2,283.25 455.6,283.36 455,283.11 454.4,283.48 453.8,283.12 453.2,283.56 452.6,283.65 452,283.41 451.4,283.58 450.8,283.85 450.2,283.57 449.6,283.92 449,283.52 448.4,283.58 447.8,283.52 447.2,283.6 446.6,283.73 446,283.67 445.4,283.62 444.8,283.27 444.2,283.69 443.6,283.15 443,283.59 442.4,283.41 441.8,283.31 441.2,282.87 440.6,283.05 440,283.07 439.4,282.73 438.8,283.08 438.2,282.93 437.6,282.88 437,282.75 436.4,282.76 435.8,282.84 435.2,283.04 434.6,283.09 434,283.23 433.4,282.87 432.8,283.02 432.2,283.01 431.6,283.38 431,283.25 430.4,283.08 429.8,283.21 429.2,283.48 428.6,283.28 428,283.01 427.4,283.36 426.8,283.35 426.2,283.24 425.6,282.95 425,282.8 424.4,283.14 423.8,283.07 423.2,282.94 422.6,282.83 422,282.64 421.4,282.79 420.8,282.64 420.2,282.68 419.6,282.18 419,282.3 418.4,282.65 417.8,282.14 417.2,282.65 416.6,282.5 416,282.18 415.4,282.32 414.8,282.4 414.2,282.61 413.6,282.8 413,282.58 412.4,282.94 411.8,282.92 411.2,282.84 410.6,283.07 410,282.87 409.4,282.64 408.8,282.7 408.2,282.79 407.6,282.69 407,282.75 406.4,282.89 405.8,282.57 405.2,282.62 404.6,282.36 404,282.2 403.4,282.42 402.8,282.27 402.2,282.11 401.6,282.26 401,282.33 400.4,282.01 399.8,281.89 399.2,281.94 398.6,281.99 398,281.91 397.4,282.03 396.8,282.09 396.2,282.24 395.6,282.37 395,282.23 394.4,282.6 393.8,282.47 393.2,282.31 392.6,282.4 392,282.49 391.4,282.76 390.8,282.68 390.2,282.69 389.6,282.6 389,282.72 388.4,282.56 387.8,282.39 387.2,282.79 386.6,282.48 386,282.36 385.4,282.54 384.8,282.43 384.2,282.1 383.6,282.6 383,282.25 382.4,282.44 381.8,282.04 381.2,281.92 380.6,282.16 380,282.4 379.4,282.13 378.8,282.17 378.2,282.09 377.6,282.25 377,282.23 376.4,282.17 375.8,282.41 375.2,282.55 374.6,282.3 374,282.8 373.4,282.58 372.8,282.81 372.2,282.65 371.6,283.07 371,282.6 370.4,283 369.8,283.19 369.2,283.07 368.6,282.99 368,283.2 367.4,282.93 366.8,282.9 366.2,282.7 365.6,282.86 365,282.87 364.4,282.85 363.8,282.51 363.2,282.36 362.6,282.57 362,282.73 361.4,282.38 360.8,282.62 360.2,282.74 359.6,282.81 359,282.46 358.4,282.48 357.8,282.63 357.2,282.79 356.6,282.8 356,283.07 355.4,282.7 354.8,283.14 354.2,283.04 353.6,283 353,283.06 352.4,283.32 351.8,283.46 351.2,283.35 350.6,283.62 350,283.21 349.4,283.5 348.8,283.19 348.2,283.52 347.6,283.43 347,283.46 346.4,283.32 345.8,283.42 345.2,283.49 344.6,283.02 344,283.24 343.4,283.23 342.8,283.17 342.2,283.05 341.6,283.07 341,282.95 340.4,282.95 339.8,283.15 339.2,282.85 338.6,282.93 338,283.45 337.4,283.06 336.8,283.07 336.2,283.21 335.6,283.66 335,283.32 334.4,283.49 333.8,283.91 333.2,283.97 332.6,283.45 332,283.66 331.4,283.92 330.8,284.01 330.2,283.99 329.6,283.92 329,283.58 328.4,283.8 327.8,283.87 327.2,283.38 326.6,283.4 326,283.71 325.4,283.23 324.8,283.35 324.2,283.2 323.6,283.23 323,283.06 322.4,283.1 321.8,283.06 321.2,283.43 320.6,283.15 320,283.26 319.4,283.16 318.8,283.38 318.2,283.16 317.6,283.4 317,283.62 316.4,283.7 315.8,283.8 315.2,283.65 314.6,283.95 314,283.75 313.4,283.97 312.8,283.79 312.2,283.8 311.6,283.78 311,283.58 310.4,284.06 309.8,283.54 309.2,283.72 308.6,283.61 308,283.49 307.4,283.33 306.8,283.54 306.2,283.45 305.6,283.07 305,283.53 304.4,283.14 303.8,283.09 303.2,283.41 302.6,283.04 302,282.97 301.4,282.82 300.8,283.17 300.2,282.8 299.6,283.1 299,283.14 298.4,282.93 297.8,283.48 297.2,283.12 296.6,283.22 296,283.43 295.4,283.16 294.8,283.49 294.2,283.45 293.6,283.44 293,283.3 292.4,283.63 291.8,283.49 291.2,283.47 290.6,283.36 290,283.15 289.4,283.41 288.8,283.04 288.2,283.22 287.6,283.09 287,283.15 286.4,282.94 285.8,282.6 285.2,282.72 284.6,282.59 284,282.81 283.4,282.78 282.8,282.76 282.2,282.57 281.6,282.53 281,282.45 280.4,282.9 279.8,282.52 279.2,282.45 278.6,282.69 278,283.02 277.4,282.91 276.8,283.13 276.2,283.06 275.6,282.67 275,282.88 274.4,282.87 273.8,282.81 273.2,282.74 272.6,282.91 272,282.89 271.4,282.85 270.8,282.77 270.2,282.78 269.6,282.68 269,282.89 268.4,282.56 267.8,282.61 267.2,282.37 266.6,282.69 266,282.58 265.4,282.61 264.8,282.13 264.2,282 263.6,282.13 263,282.28 262.4,282 261.8,282.03 261.2,282.18 260.6,282.38 260,282.39 259.4,282.36 258.8,282.46 258.2,282.45 257.6,282.37 257,282.25 256.4,282.81 255.8,282.55 255.2,282.9 254.6,282.88 254,282.49 253.4,282.64 252.8,282.43 252.2,282.7 251.6,282.93 251,282.67 250.4,282.51 249.8,282.26 249.2,282.18 248.6,282.42 248,282.4 247.4,282.53 246.8,282.16 246.2,282.37 245.6,282.36 245,282.41 244.4,282.39 243.8,281.98 243.2,282.31 242.6,281.83 242,282.37 241.4,281.94 240.8,282.42 240.2,282.53 239.6,282.18 239,282.52 238.4,282.29 237.8,282.67 237.2,282.82 236.6,282.45 236,282.53 235.4,282.49 234.8,282.6 234.2,283.01 233.6,282.7 233,282.66 232.4,282.8 231.8,282.5 231.2,282.87 230.6,282.42 230,282.53 229.4,282.9 228.8,282.85 228.2,282.44 227.6,282.29 227,282.69 226.4,282.52 225.8,282.25 225.2,282.57 224.6,282.15 224,282.38 223.4,282.64 222.8,282.49 222.2,282.41 221.6,282.53 221,282.45 220.4,282.82 219.8,282.51 219.2,282.83 218.6,282.74 218,282.82 217.4,283.01 216.8,283.09 216.2,282.91 215.6,282.86 215,282.99 214.4,283.15 213.8,283.32 213.2,283.46 212.6,282.92 212,283.06 211.4,282.96 210.8,283.22 210.2,283.03 209.6,282.77 209,282.81 208.4,282.91 207.8,283.04 207.2,282.94 206.6,282.64 206,282.92 205.4,282.73 204.8,282.78 204.2,282.62 203.6,282.7 203,283.04 202.4,283.25 201.8,283.15 201.2,283.11 200.6,283.08 200,283.02 199.4,283.04 198.8,283.61 198.2,283.21 197.6,283.29 197,283.31 196.4,283.53 195.8,283.74 195.2,283.43 194.6,283.47 194,283.55 193.4,283.41 192.8,283.73 192.2,283.85 191.6,283.54 191,283.36 190.4,283.67 189.8,283.29 189.2,283.14 188.6,283.5 188,283.24 187.4,283.16 186.8,283.26 186.2,283.39 185.6,283.35 185,283.06 184.4,283.04 183.8,283.26 183.2,283.51 182.6,283.12 182,283.19 181.4,283.56 180.8,283.42 180.2,283.29 179.6,283.35 179,283.63 178.4,283.71 177.8,283.69 177.2,283.96 176.6,283.99 176,284.02 175.4,283.72 174.8,283.92" fill="#ee9599" />
<polygon points="174.8,262.11 175.15,262.2 175.5,262.18 175.85,262.34 176.2,262.41 176.55,262.06 176.9,262.33 177.25,262.46 177.6,262.27 177.95,262.24 178.3,262.51 178.65,262.36 179,262.48 179.35,262.44 179.7,262.66 180.05,262.68 180.4,262.32 180.75,262.4 181.1,262.57 181.45,262.56 181.8,262.7 182.15,262.53 182.5,262.69 182.85,262.51 183.2,262.6 183.55,262.61 183.9,262.57 184.25,262.87 184.6,262.98 184.95,262.94 185.3,262.97 185.65,263.04 186,263.07 186.35,262.9 186.7,262.8 187.05,262.99 187.4,262.82 187.75,262.86 188.1,263.21 188.45,263.03 188.8,263.13 189.15,263.26 189.5,262.96 189.85,263.25 190.2,263.16 190.55,263.15 190.9,263.05 191.25,263.19 191.6,263.32 191.95,263.32 192.3,263.46 192.65,263.17 193,263.18 193.35,263.51 193.7,263.6 194.05,263.54 194.4,263.53 194.75,263.33 195.1,263.36 195.45,263.41 195.8,263.74 196.15,263.48 196.5,263.53 196.85,263.58 197.2,263.47 197.55,263.86 197.9,263.85 198.25,263.63 198.6,263.58 198.95,263.71 199.3,263.88 199.65,263.79 200,263.75 200.35,264 200.7,263.91 201.05,263.94 201.4,263.99 201.75,263.84 202.1,263.96 202.45,263.93 202.8,263.97 203.15,263.76 203.5,264.01 203.85,263.73 204.2,263.94 204.55,264 204.9,263.64 205.25,263.92 205.6,263.64 205.95,263.66 206.3,263.65 206.65,263.94 207,263.82 207.35,263.95 207.7,263.62 208.05,263.65 208.4,263.73 208.75,263.8 209.1,263.84 209.45,263.65 209.8,263.78 210.15,263.72 210.5,263.91 210.85,263.87 211.2,263.94 211.55,263.67 211.9,263.74 212.25,263.89 212.6,263.61 212.95,263.84 213.3,263.78 213.65,263.88 214,263.83 214.35,263.6 214.7,263.8 215.05,263.86 215.4,263.73 215.75,263.8 216.1,263.56 216.45,263.87 216.8,263.53 217.15,263.89 217.5,263.56 217.85,263.64 218.2,263.82 218.55,263.71 218.9,263.78 219.25,263.79 219.6,263.81 219.95,263.75 220.3,263.5 220.65,263.49 221,263.52 221.35,263.84 221.7,263.76 222.05,263.52 222.4,263.85 222.75,263.58 223.1,263.75 223.45,263.48 223.8,263.85 224.15,263.54 224.5,263.72 224.85,263.79 225.2,263.85 225.55,263.52 225.9,263.63 226.25,263.77 226.6,263.67 226.95,263.48 227.3,263.74 227.65,263.6 228,263.77 228.35,263.75 228.7,263.52 229.05,263.54 229.4,263.74 229.75,263.78 230.1,263.77 230.45,263.57 230.8,263.61 231.15,263.69 231.5,263.72 231.85,263.55 232.2,263.51 232.55,263.47 232.9,263.56 233.25,263.7 233.6,263.75 233.95,263.49 234.3,263.61 234.65,263.49 235,263.75 235.35,263.45 235.7,263.63 236.05,263.43 236.4,263.42 236.75,263.56 237.1,263.75 237.45,263.39 237.8,263.56 238.15,263.4 238.5,263.64 238.85,263.67 239.2,263.41 239.55,263.59 239.9,263.67 240.25,263.58 240.6,263.49 240.95,263.72 241.3,263.52 241.65,263.54 242,263.51 242.35,263.66 242.7,263.43 243.05,263.39 243.4,263.36 243.75,263.57 244.1,263.42 244.45,263.55 244.8,263.4 245.15,263.67 245.5,263.34 245.85,263.31 246.2,263.49 246.55,263.48 246.9,263.47 247.25,263.46 247.6,263.66 247.95,263.29 248.3,263.58 248.65,263.59 249,263.62 249.35,263.56 249.7,263.33 250.05,263.64 250.4,263.61 250.75,263.37 251.1,263.57 251.45,263.63 251.8,263.4 252.15,263.41 252.5,263.43 252.85,263.35 253.2,263.59 253.55,263.28 253.9,263.34 254.25,263.6 254.6,263.57 254.95,263.42 255.3,263.41 255.65,263.5 256,263.56 256.35,263.44 256.7,263.54 257.05,263.36 257.4,263.25 257.75,263.53 258.1,263.36 258.45,263.29 258.8,263.52 259.15,263.25 259.5,263.21 259.85,263.42 260.2,263.41 260.55,263.24 260.9,263.36 261.25,263.41 261.6,263.19 261.95,263.25 262.3,263.42 262.65,263.46 263,263.42 263.35,263.37 263.7,263.14 264.05,263.2 264.4,263.14 264.75,263.16 265.1,263.12 265.45,263.41 265.8,263.19 266.15,262.99 266.5,262.96 266.85,263.18 267.2,263.07 267.55,262.94 267.9,262.99 268.25,262.87 268.6,262.99 268.95,262.78 269.3,262.68 269.65,262.8 270,262.68 270.35,262.27 270.7,262.26 271.05,262.11 271.4,262.13 271.75,261.96 272.1,261.83 272.45,261.72 272.8,261.95 273.15,261.59 273.5,261.62 273.85,261.33 274.2,261.36 274.55,261.12 274.9,260.83 275.25,260.81 275.6,260.81 275.95,260.55 276.3,260.42 276.65,260.06 277,260.15 277.35,259.97 277.7,259.66 278.05,259.69 278.4,259.32 278.75,258.99 279.1,258.96 279.45,258.86 279.8,258.58 280.15,258.34 280.5,258.28 280.85,258.07 281.2,257.84 281.55,257.55 281.9,257.27 282.25,257.07 282.6,256.85 282.95,256.66 283.3,256.22 283.65,255.85 284,255.67 284.35,255.42 284.7,255.11 285.05,255.01 285.4,254.52 285.75,254.33 286.1,254 286.45,253.68 286.8,253.43 287.15,253.18 287.5,252.89 287.85,252.57 288.2,252.13 288.55,251.85 288.9,251.43 289.25,251.31 289.6,250.83 289.95,250.28 290.3,250.16 290.65,249.67 291,249.33 291.35,249.04 291.7,248.38 292.05,248.26 292.4,247.69 292.75,263 293.1,263.04 293.45,262.72 293.8,262.89 294.15,263.04 294.5,262.91 294.85,262.89 295.2,262.78 295.55,263.02 295.9,262.98 296.25,262.69 296.6,262.78 296.95,248.8 297.3,248.72 297.65,248.72 298,248.59 298.35,248.61 298.7,248.52 299.05,248.53 299.4,248.65 299.75,248.57 300.1,248.56 300.45,262.28 300.8,262.39 301.15,262.27 301.5,262.3 301.85,262.22 302.2,262.53 302.55,262.23 302.9,248.85 303.25,248.56 303.6,248.63 303.95,248.66 304.3,263.98 304.65,264.34 305,264.68 305.35,264.8 305.7,264.91 306.05,265 306.4,264.92 306.75,264.62 307.1,264.34 307.45,264.05 307.8,264.18 308.15,264.28 308.5,264.47 308.85,264.82 309.2,265.07 309.55,264.96 309.9,264.85 310.25,264.76 310.6,264.49 310.95,264.35 311.3,264.18 311.65,264.28 312,264.31 312.35,264.59 312.7,265.05 313.05,264.89 313.4,265.12 313.75,264.76 314.1,264.5 314.45,264.17 314.8,264.27 315.15,264.13 315.5,264.05 315.85,264.65 316.2,264.92 316.55,264.95 316.9,265.08 317.25,264.84 317.6,264.68 317.95,264.49 318.3,264.05 318.65,264.1 319,264.12 319.35,264.24 319.7,264.63 320.05,264.91 320.4,265 320.75,265.12 321.1,264.75 321.45,264.6 321.8,264.37 322.15,264.33 322.5,264.14 322.85,264.23 323.2,264.4 323.55,264.68 323.9,264.8 324.25,264.89 324.6,265.03 324.95,264.85 325.3,264.49 325.65,264.08 326,264.18 326.35,264.11 326.7,264.16 327.05,264.68 327.4,264.9 327.75,264.84 328.1,264.94 328.45,264.94 328.8,264.86 329.15,264.26 329.5,264.11 329.85,263.97 330.2,263.98 330.55,264.24 330.9,264.71 331.25,265.06 331.6,265.15 331.95,265.03 332.3,264.85 332.65,254.66 333,254.66 333.35,254.49 333.7,254.5 334.05,254.6 334.4,254.35 334.75,251.55 335.1,251.78 335.45,251.63 335.8,251.49 336.15,251.68 336.5,251.53 336.85,251.79 337.2,249.72 337.55,249.51 337.9,249.61 338.25,249.57 338.6,249.76 338.95,249.64 339.3,249.62 339.65,249.73 340,249.58 340.35,249.63 340.7,249.45 341.05,249.61 341.4,249.67 341.75,244.4 342.1,244.38 342.45,244.15 342.8,244.4 343.15,244.41 343.5,244.38 343.85,244.24 344.2,244.12 344.55,244.21 344.9,244.13 345.25,244.42 345.6,244.44 345.95,244.14 346.3,244.32 346.65,244.17 347,244.31 347.35,244.38 347.7,244.34 348.05,244.41 348.4,244.09 348.75,244.22 349.1,244.31 349.45,244.27 349.6,244.29 349.6,298.84 349.45,298.18 349.1,298.2 348.75,298.85 348.4,299.95 348.05,299.97 347.7,299.32 347.35,298.51 347,298.07 346.65,298.91 346.3,300.01 345.95,299.86 345.6,299.08 345.25,298.4 344.9,298.21 344.55,298.89 344.2,299.95 343.85,299.83 343.5,299.29 343.15,298.35 342.8,298.17 342.45,299.19 342.1,300.03 341.75,299.85 341.4,299.18 341.05,298.19 340.7,298.37 340.35,290.93 340,290.86 339.65,290.92 339.3,290.62 338.95,290.88 338.6,290.78 338.25,290.95 337.9,295.69 337.55,295.74 337.2,295.74 336.85,286.07 336.5,286.05 336.15,285.77 335.8,285.96 335.45,286 335.1,286.02 334.75,285.98 334.4,286 334.05,286.08 333.7,285.84 333.35,285.96 333,286.03 332.65,281.41 332.3,281.65 331.95,281.58 331.6,281.36 331.25,292.33 330.9,281.51 330.55,281.36 330.2,281.37 329.85,281.62 329.5,293.76 329.15,292.25 328.8,281.54 328.45,281.31 328.1,281.6 327.75,281.31 327.4,281.49 327.05,281.6 326.7,281.51 326.35,281.63 326,293.14 325.65,293.62 325.3,291.87 324.95,292.22 324.6,293.73 324.25,293.04 323.9,281.45 323.55,281.6 323.2,293.53 322.85,292.41 322.5,281.48 322.15,281.47 321.8,281.58 321.45,281.38 321.1,281.54 320.75,281.43 320.4,281.46 320.05,281.56 319.7,281.53 319.35,281.65 319,281.62 318.65,292.19 318.3,281.56 317.95,281.43 317.6,281.64 317.25,292.98 316.9,293.7 316.55,292.2 316.2,292.15 315.85,293.74 315.5,293.23 315.15,291.92 314.8,281.64 314.45,281.41 314.1,281.58 313.75,291.93 313.4,293.2 313.05,293.31 312.7,281.34 312.35,281.35 312,281.63 311.65,281.58 311.3,281.67 310.95,281.42 310.6,281.43 310.25,281.55 309.9,281.52 309.55,293.55 309.2,293.01 308.85,281.59 308.5,281.35 308.15,293.78 307.8,292.35 307.45,292.05 307.1,293.57 306.75,293.19 306.4,281.4 306.05,281.41 305.7,281.67 305.35,281.67 305,281.62 304.65,281.61 304.3,281.57 303.95,281.54 303.6,281.67 303.25,293.72 302.9,281.44 302.55,281.62 302.2,292.73 301.85,293.67 301.5,292.24 301.15,292.07 300.8,293.5 300.45,293.22 300.1,291.91 299.75,292.75 299.4,293.61 299.05,281.38 298.7,281.57 298.35,281.67 298,293.38 297.65,291.97 297.3,281.67 296.95,281.59 296.6,281.64 296.25,292.65 295.9,292.87 295.55,292.6 295.2,292.66 294.85,292.92 294.5,292.68 294.15,292.8 293.8,292.66 293.45,292.63 293.1,292.85 292.75,292.92 292.4,293.26 292.05,293.09 291.7,292.53 291.35,292.26 291,291.89 290.65,291.5 290.3,291.23 289.95,290.96 289.6,290.78 289.25,290.2 288.9,289.98 288.55,289.62 288.2,289.14 287.85,289.15 287.5,288.59 287.15,288.57 286.8,288.02 286.45,287.69 286.1,287.61 285.75,287.22 285.4,286.78 285.05,286.64 284.7,286.41 284.35,286.26 284,286.08 283.65,285.71 283.3,285.44 282.95,285.28 282.6,285 282.25,284.84 281.9,284.39 281.55,284.18 281.2,284.13 280.85,283.92 280.5,283.6 280.15,283.42 279.8,283.03 279.45,283.07 279.1,282.9 278.75,282.48 278.4,282.59 278.05,282.25 277.7,282.17 277.35,281.81 277,281.76 276.65,281.51 276.3,281.59 275.95,281.25 275.6,281.13 275.25,281.04 274.9,280.79 274.55,280.63 274.2,280.78 273.85,280.59 273.5,280.45 273.15,280.39 272.8,280.34 272.45,280.15 272.1,280.08 271.75,279.78 271.4,279.79 271.05,279.83 270.7,279.66 270.35,279.52 270,279.49 269.65,279.49 269.3,279.46 268.95,279.42 268.6,278.97 268.25,279.01 267.9,279.21 267.55,278.91 267.2,278.76 266.85,278.88 266.5,279.02 266.15,278.84 265.8,278.83 265.45,278.89 265.1,278.73 264.75,278.92 264.4,278.54 264.05,278.63 263.7,278.62 263.35,278.49 263,278.6 262.65,278.75 262.3,278.75 261.95,279.18 261.6,279.22 261.25,278.93 260.9,278.9 260.55,279.11 260.2,279.15 259.85,278.97 259.5,278.88 259.15,278.85 258.8,279.14 258.45,278.9 258.1,278.88 257.75,278.91 257.4,279.07 257.05,279.12 256.7,278.87 256.35,279.07 256,279.04 255.65,278.97 255.3,279.04 254.95,278.85 254.6,279.08 254.25,279.16 253.9,278.95 253.55,278.92 253.2,278.85 252.85,278.89 252.5,278.81 252.15,278.79 251.8,278.96 251.45,278.96 251.1,279.09 250.75,279.03 250.4,278.92 250.05,279.11 249.7,278.87 249.35,279.07 249,278.96 248.65,278.75 248.3,279.09 247.95,279.11 247.6,278.95 247.25,279.04 246.9,278.83 246.55,279.11 246.2,278.78 245.85,278.77 245.5,278.8 245.15,278.94 244.8,278.99 244.45,278.84 244.1,278.89 243.75,278.93 243.4,278.96 243.05,278.91 242.7,278.82 242.35,278.76 242,278.72 241.65,279.01 241.3,278.96 240.95,278.9 240.6,278.85 240.25,278.93 239.9,278.98 239.55,279.03 239.2,278.93 238.85,278.87 238.5,278.67 238.15,278.69 237.8,278.71 237.45,278.66 237.1,278.66 236.75,278.79 236.4,278.72 236.05,279.01 235.7,278.76 235.35,278.79 235,278.91 234.65,278.8 234.3,278.64 233.95,278.83 233.6,278.76 233.25,278.89 232.9,278.87 232.55,278.66 232.2,278.99 231.85,278.92 231.5,278.73 231.15,278.82 230.8,278.96 230.45,278.73 230.1,278.84 229.75,278.75 229.4,278.82 229.05,278.77 228.7,278.75 228.35,278.81 228,278.92 227.65,278.89 227.3,278.61 226.95,278.74 226.6,278.91 226.25,278.62 225.9,278.85 225.55,278.91 225.2,278.74 224.85,278.84 224.5,278.75 224.15,278.72 223.8,278.85 223.45,278.71 223.1,278.88 222.75,278.72 222.4,278.69 222.05,278.89 221.7,278.76 221.35,278.89 221,278.74 220.65,278.57 220.3,278.69 219.95,278.62 219.6,278.6 219.25,278.85 218.9,278.51 218.55,278.61 218.2,278.85 217.85,278.56 217.5,278.73 217.15,278.81 216.8,278.5 216.45,278.66 216.1,278.57 215.75,278.82 215.4,278.56 215.05,278.84 214.7,278.77 214.35,278.71 214,278.85 213.65,278.62 213.3,278.77 212.95,278.73 212.6,278.57 212.25,278.68 211.9,278.49 211.55,278.59 211.2,278.49 210.85,278.61 210.5,278.47 210.15,278.48 209.8,278.76 209.45,278.53 209.1,278.68 208.75,278.52 208.4,278.55 208.05,278.49 207.7,278.76 207.35,278.66 207,278.51 206.65,278.43 206.3,278.51 205.95,278.78 205.6,278.55 205.25,278.75 204.9,278.57 204.55,278.47 204.2,278.73 203.85,278.41 203.5,278.51 203.15,278.67 202.8,278.69 202.45,278.59 202.1,278.43 201.75,278.53 201.4,278.71 201.05,278.75 200.7,278.71 200.35,278.43 200,278.67 199.65,278.55 199.3,278.68 198.95,278.55 198.6,278.69 198.25,278.81 197.9,278.55 197.55,278.7 197.2,278.67 196.85,278.64 196.5,278.61 196.15,279 195.8,278.9 195.45,279 195.1,278.88 194.75,278.76 194.4,278.81 194.05,279.14 193.7,279.1 193.35,278.88 193,278.96 192.65,279.09 192.3,279.08 191.95,279.23 191.6,278.99 191.25,279.19 190.9,279.02 190.55,279.15 190.2,279.38 189.85,279.31 189.5,279.38 189.15,279.13 188.8,279.28 188.45,279.51 188.1,279.49 187.75,279.44 187.4,279.42 187.05,279.4 186.7,279.5 186.35,279.54 186,279.7 185.65,279.5 185.3,279.62 184.95,279.76 184.6,279.61 184.25,279.43 183.9,279.82 183.55,279.81 183.2,279.63 182.85,279.81 182.5,279.83 182.15,279.76 181.8,279.88 181.45,279.79 181.1,279.83 180.75,279.68 180.4,279.69 180.05,280.09 179.7,279.91 179.35,279.85 179,279.83 178.65,279.9 178.3,279.97 177.95,280 177.6,280.13 177.25,280.18 176.9,280.01 176.55,280 176.2,280 175.85,280.12 175.5,280.29 175.15,280.14 174.8,280.17" fill="#92bcee" />
<polyline points="468.29,280.83 470.03,283.4 474.11,284.04 474.4,275.05 474.98,264.06 476.29,259.51 478.76,258.21 480.8,258.47 480.95,277.62 481.97,282.11 484.58,283.65 488.66,284.04 488.95,275.05 489.53,264.06 490.84,259.51 493.31,258.21 495.35,258.47 495.5,277.62 496.52,282.11 499.13,283.65 503.21,284.04 503.5,275.05 504.08,264.06 505.39,259.51 507.87,258.21 509.9,258.47 510.05,277.62 511.07,282.11 513.68,283.65 517.76,284.04 518.05,275.05 518.63,264.06 519.94,259.51 522.41,258.21 524.45,258.47 524.6,277.62 525.62,282.11 528.23,283.65 532.31,284.04 532.6,275.05 533.18,264.06 534.49,259.51 536.97,258.21 539,258.47 539.15,277.62" fill="none" stroke="#ee9599" stroke-width="1.0" stroke-linejoin="round" />
<polygon points="548.4,256.19 549,256.13 549.6,256.32 550.2,256.22 550.8,256.32 551.4,256.54 552,256.39 552.6,256.42 553.2,256.04 553.8,256.35 554.4,256.43 555,256.52 555.6,256.53 556.2,256.47 556.8,256.6 557.4,256.68 558,256.18 558.6,256.43 559.2,256.43 559.8,256.35 560.4,256.5 561,256.57 561.6,256.62 562.2,256.47 562.8,256.46 563.4,256.19 564,256.28 564.6,256.03 565.2,256.36 565.8,256 566.4,256.17 567,256.44 567.6,256.35 568.2,256.09 568.8,255.82 569.4,256.16 570,255.88 570.6,256.05 571.2,255.76 571.8,256.19 572.4,255.92 573,255.64 573.6,255.97 574.2,255.95 574.8,256.06 575.4,255.94 576,255.85 576.6,255.57 577.2,255.83 577.8,255.7 578.4,255.79 579,255.53 579.6,255.36 580.2,255.47 580.8,255.72 581.4,255.39 582,255.24 582.6,255.44 583.2,255.74 583.8,255.31 584.4,255.27 585,255.58 585.6,255.7 586.2,255.67 586.8,255.47 587.4,255.28 588,255.43 588.6,255.27 589.2,255.7 589.8,255.64 590.4,255.41 591,255.48 591.6,255.64 592.2,255.5 592.8,255.71 593.4,255.9 594,255.7 594.6,255.94 595.2,255.61 595.8,255.8 596.4,255.72 597,255.68 597.6,255.89 598.2,255.78 598.8,256.06 599.4,255.53 600,255.75 600.6,255.51 601.2,256.06 601.8,255.74 602.4,255.68 603,255.91 603.6,256.04 604.2,256 604.8,256 605.4,255.63 606,256.01 606.6,255.57 607.2,255.79 607.8,255.7 608.4,255.65 609,255.65 609.6,255.57 610.2,255.58 610.8,255.71 611.4,255.44 612,255.69 612.6,255.4 613.2,255.34 613.8,255.3 614.4,255.54 615,255.23 615.6,255.08 616.2,255.35 616.8,255.42 617.4,255.25 618,254.97 618.6,255.41 619.2,255.46 619.8,255.15 620.4,255.02 621,254.92 621.6,255.14 622.2,254.74 622.8,255.17 623.4,254.84 624,255.21 624.6,255.23 625.2,255.15 625.8,255.18 626.4,254.91 627,254.87 627.6,255.09 628.2,254.64 628.8,254.97 629.4,255.1 630,255.09 630.6,254.76 631.2,254.66 631.8,255.11 632.4,255.2 633,254.77 633.6,255.1 634.2,254.68 634.8,254.98 635.4,254.91 636,255.1 636.6,254.85 637.2,255.06 637.8,255.16 638.4,254.84 639,255.32 639.6,254.97 640.2,255.38 640.8,255.05 641.4,255.21 642,254.95 642.6,255.44 643.2,255.15 643.8,255.25 644.4,254.96 645,254.95 645.6,255.14 646.2,255.38 646.8,255.36 647.4,255.36 648,255.25 648.6,255.36 649.2,255.37 649.8,255.03 650.4,255.09 651,255.28 651.6,254.85 652.2,255.29 652.8,255.06 653.4,255.28 654,254.84 654.6,254.81 655.2,255.14 655.8,254.82 656.4,254.75 657,255.04 657.6,254.98 658.2,254.86 658.8,254.58 659.4,254.98 660,254.64 660.6,254.66 661.2,254.71 661.8,254.6 662.4,254.39 663,254.76 663.6,254.33 664.2,254.61 664.8,254.34 665.4,254.26 666,254.64 666.6,254.21 667.2,254.11 667.8,254.5 668.4,254.65 669,254.58 669.6,254.06 670.2,254.62 670.8,254.08 671.4,254.52 672,254.17 672.6,254.54 673.2,254.5 673.8,254.2 674.4,254.55 675,254.41 675.6,254.08 676.2,254.21 676.3,254.11 676.3,287.98 676.2,288.54 675.6,288.43 675,288.11 674.4,288.17 673.8,288.56 673.2,288.29 672.6,288.45 672,288.33 671.4,288.52 670.8,288.56 670.2,287.98 669.6,288.36 669,288.02 668.4,288.45 667.8,288.22 667.2,288.41 666.6,288.21 666,288.34 665.4,288.01 664.8,288.3 664.2,287.93 663.6,288.04 663,288.24 662.4,288.06 661.8,287.95 661.2,287.67 660.6,287.97 660,288.02 659.4,287.54 658.8,287.56 658.2,287.61 657.6,287.85 657,287.88 656.4,287.79 655.8,287.88 655.2,287.86 654.6,287.56 654,287.6 653.4,287.48 652.8,287.58 652.2,287.76 651.6,287.34 651,287.35 650.4,287.4 649.8,287.38 649.2,287.29 648.6,287.11 648,287.16 647.4,287.25 646.8,287.44 646.2,287.48 645.6,287.43 645,287.11 644.4,287.46 643.8,287.46 643.2,287.46 642.6,287.63 642,287.14 641.4,287.73 640.8,287.39 640.2,287.22 639.6,287.63 639,287.44 638.4,287.59 637.8,287.69 637.2,287.73 636.6,287.8 636,287.39 635.4,287.44 634.8,287.38 634.2,287.9 633.6,287.53 633,287.76 632.4,287.58 631.8,287.65 631.2,287.8 630.6,287.42 630,287.99 629.4,287.56 628.8,287.49 628.2,287.69 627.6,287.64 627,287.4 626.4,287.84 625.8,287.59 625.2,287.51 624.6,287.71 624,287.5 623.4,287.67 622.8,287.57 622.2,287.5 621.6,287.44 621,287.62 620.4,287.41 619.8,287.43 619.2,287.59 618.6,287.33 618,287.51 617.4,287.09 616.8,287.32 616.2,287.14 615.6,287.22 615,287.22 614.4,287.33 613.8,287.35 613.2,286.85 612.6,287.06 612,287.03 611.4,287 610.8,286.8 610.2,287.11 609.6,287.13 609,286.72 608.4,286.91 607.8,286.79 607.2,286.66 606.6,286.61 606,286.61 605.4,287.08 604.8,286.87 604.2,286.6 603.6,286.6 603,287.01 602.4,286.99 601.8,286.94 601.2,287.03 600.6,286.88 600,286.63 599.4,286.8 598.8,286.85 598.2,287.08 597.6,286.91 597,286.57 596.4,286.76 595.8,286.92 595.2,286.92 594.6,286.75 594,286.79 593.4,287.17 592.8,286.87 592.2,287.07 591.6,287 591,287.18 590.4,287.12 589.8,287.15 589.2,287.14 588.6,287.36 588,287.26 587.4,287.05 586.8,287.36 586.2,287.3 585.6,286.98 585,287.24 584.4,287.21 583.8,287.26 583.2,286.9 582.6,287.33 582,287 581.4,286.86 580.8,287.23 580.2,287.09 579.6,286.85 579,286.93 578.4,287.06 577.8,287.23 577.2,286.97 576.6,286.98 576,286.75 575.4,286.97 574.8,286.87 574.2,286.7 573.6,286.57 573,286.81 572.4,286.76 571.8,286.61 571.2,286.37 570.6,286.77 570,286.28 569.4,286.4 568.8,286.57 568.2,286.37 567.6,286.53 567,286.66 566.4,286.23 565.8,286.42 565.2,286.31 564.6,286.31 564,286.05 563.4,286.12 562.8,286.53 562.2,286.18 561.6,286.25 561,286.24 560.4,286.01 559.8,286.25 559.2,286.21 558.6,285.97 558,286.23 557.4,286.21 556.8,286.2 556.2,286.02 555.6,286.12 555,286.09 554.4,286.3 553.8,286.52 553.2,286.16 552.6,286.25 552,286.14 551.4,286.16 550.8,286.55 550.2,286.51 549.6,286.61 549,286.2 548.4,286.63" fill="#ee9599" />
<line x1="47.5" y1="212.4" x2="86" y2="212.4" stroke="#4c4c4c" stroke-width="1.0" />
<line x1="47.5" y1="330" x2="86" y2="330" stroke="#4c4c4c" stroke-width="1.0" />
<line x1="97.5" y1="212.4" x2="165" y2="212.4" stroke="#4c4c4c" stroke-width="1.0" />
<line x1="97.5" y1="330" x2="165" y2="330" stroke="#4c4c4c" stroke-width="1.0" />
<line x1="175.2" y1="212.4" x2="457.5" y2="212.4" stroke="#4c4c4c" stroke-width="1.0" />
<line x1="175.2" y1="330" x2="457.5" y2="330" stroke="#4c4c4c" stroke-width="1.0" />
<line x1="468.6" y1="212.4" x2="537.6" y2="212.4" stroke="#4c4c4c" stroke-width="1.0" />
<line x1="468.6" y1="330" x2="537.6" y2="330" stroke="#4c4c4c" stroke-width="1.0" />
<line x1="548.7" y1="212.4" x2="676.5" y2="212.4" stroke="#4c4c4c" stroke-width="1.0" />
<line x1="548.7" y1="330" x2="676.5" y2="330" stroke="#4c4c4c" stroke-width="1.0" />
<line x1="80.9" y1="215.3" x2="91.1" y2="209.5" stroke="#333" stroke-width="0.75" />
<line x1="80.9" y1="332.9" x2="91.1" y2="327.1" stroke="#333" stroke-width="0.75" />
<line x1="92.4" y1="215.3" x2="102.6" y2="209.5" stroke="#333" stroke-width="0.75" />
<line x1="92.4" y1="332.9" x2="102.6" y2="327.1" stroke="#333" stroke-width="0.75" />
<line x1="159.9" y1="215.3" x2="170.1" y2="209.5" stroke="#333" stroke-width="0.75" />
<line x1="159.9" y1="332.9" x2="170.1" y2="327.1" stroke="#333" stroke-width="0.75" />
<line x1="170.1" y1="215.3" x2="180.3" y2="209.5" stroke="#333" stroke-width="0.75" />
<line x1="170.1" y1="332.9" x2="180.3" y2="327.1" stroke="#333" stroke-width="0.75" />
<line x1="452.4" y1="215.3" x2="462.6" y2="209.5" stroke="#333" stroke-width="0.75" />
<line x1="452.4" y1="332.9" x2="462.6" y2="327.1" stroke="#333" stroke-width="0.75" />
<line x1="463.5" y1="215.3" x2="473.7" y2="209.5" stroke="#333" stroke-width="0.75" />
<line x1="463.5" y1="332.9" x2="473.7" y2="327.1" stroke="#333" stroke-width="0.75" />
<line x1="532.5" y1="215.3" x2="542.7" y2="209.5" stroke="#333" stroke-width="0.75" />
<line x1="532.5" y1="332.9" x2="542.7" y2="327.1" stroke="#333" stroke-width="0.75" />
<line x1="543.6" y1="215.3" x2="553.8" y2="209.5" stroke="#333" stroke-width="0.75" />
<line x1="543.6" y1="332.9" x2="553.8" y2="327.1" stroke="#333" stroke-width="0.75" />
<line x1="47.5" y1="212.4" x2="47.5" y2="330" stroke="#4c4c4c" stroke-width="1.0" />
<line x1="676.5" y1="212.4" x2="676.5" y2="330" stroke="#4c4c4c" stroke-width="1.0" />
<line x1="44.3" y1="212.4" x2="47.5" y2="212.4" stroke="#444" stroke-width="0.8" />
<text x="42.5" y="216" font-size="10.3" text-anchor="end" fill="#000" >1.2</text>
<line x1="44.3" y1="232" x2="47.5" y2="232" stroke="#444" stroke-width="0.8" />
<text x="42.5" y="235.6" font-size="10.3" text-anchor="end" fill="#000" >0.8</text>
<line x1="44.3" y1="251.6" x2="47.5" y2="251.6" stroke="#444" stroke-width="0.8" />
<text x="42.5" y="255.2" font-size="10.3" text-anchor="end" fill="#000" >0.4</text>
<line x1="44.3" y1="271.2" x2="47.5" y2="271.2" stroke="#444" stroke-width="0.8" />
<text x="42.5" y="274.8" font-size="10.3" text-anchor="end" fill="#000" >0.0</text>
<line x1="44.3" y1="290.8" x2="47.5" y2="290.8" stroke="#444" stroke-width="0.8" />
<text x="42.5" y="294.4" font-size="10.3" text-anchor="end" fill="#000" >-0.4</text>
<line x1="44.3" y1="310.4" x2="47.5" y2="310.4" stroke="#444" stroke-width="0.8" />
<text x="42.5" y="314" font-size="10.3" text-anchor="end" fill="#000" >-0.8</text>
<line x1="44.3" y1="330" x2="47.5" y2="330" stroke="#444" stroke-width="0.8" />
<text x="42.5" y="333.6" font-size="10.3" text-anchor="end" fill="#000" >-1.2</text>
<line x1="45.7" y1="222.2" x2="47.5" y2="222.2" stroke="#444" stroke-width="0.8" />
<line x1="45.7" y1="241.8" x2="47.5" y2="241.8" stroke="#444" stroke-width="0.8" />
<line x1="45.7" y1="261.4" x2="47.5" y2="261.4" stroke="#444" stroke-width="0.8" />
<line x1="45.7" y1="281" x2="47.5" y2="281" stroke="#444" stroke-width="0.8" />
<line x1="45.7" y1="300.6" x2="47.5" y2="300.6" stroke="#444" stroke-width="0.8" />
<line x1="45.7" y1="320.2" x2="47.5" y2="320.2" stroke="#444" stroke-width="0.8" />
<line x1="47.6" y1="330" x2="47.6" y2="333.2" stroke="#444" stroke-width="0.8" />
<text x="47.6" y="343.2" font-size="10.3" text-anchor="middle" fill="#000" >0</text>
<line x1="80.2" y1="330" x2="80.2" y2="333.2" stroke="#444" stroke-width="0.8" />
<text x="80.2" y="343.2" font-size="10.3" text-anchor="middle" fill="#000" >40</text>
<line x1="124.1" y1="330" x2="124.1" y2="333.2" stroke="#444" stroke-width="0.8" />
<text x="124.1" y="343.2" font-size="10.3" text-anchor="middle" fill="#000" >54</text>
<line x1="206.3" y1="330" x2="206.3" y2="333.2" stroke="#444" stroke-width="0.8" />
<text x="206.3" y="343.2" font-size="10.3" text-anchor="middle" fill="#000" >200</text>
<line x1="268.9" y1="330" x2="268.9" y2="333.2" stroke="#444" stroke-width="0.8" />
<text x="268.9" y="343.2" font-size="10.3" text-anchor="middle" fill="#000" >400</text>
<line x1="331.5" y1="330" x2="331.5" y2="333.2" stroke="#444" stroke-width="0.8" />
<text x="331.5" y="343.2" font-size="10.3" text-anchor="middle" fill="#000" >600</text>
<line x1="394.2" y1="330" x2="394.2" y2="333.2" stroke="#444" stroke-width="0.8" />
<text x="394.2" y="343.2" font-size="10.3" text-anchor="middle" fill="#000" >800</text>
<line x1="481.8" y1="330" x2="481.8" y2="333.2" stroke="#444" stroke-width="0.8" />
<text x="481.8" y="343.2" font-size="10.3" text-anchor="middle" fill="#000" >1192</text>
<line x1="510" y1="330" x2="510" y2="333.2" stroke="#444" stroke-width="0.8" />
<text x="510" y="343.2" font-size="10.3" text-anchor="middle" fill="#000" >1196</text>
<line x1="560.9" y1="330" x2="560.9" y2="333.2" stroke="#444" stroke-width="0.8" />
<text x="560.9" y="343.2" font-size="10.3" text-anchor="middle" fill="#000" >1320</text>
<line x1="586.5" y1="330" x2="586.5" y2="333.2" stroke="#444" stroke-width="0.8" />
<text x="586.5" y="343.2" font-size="10.3" text-anchor="middle" fill="#000" >1360</text>
<line x1="612.2" y1="330" x2="612.2" y2="333.2" stroke="#444" stroke-width="0.8" />
<text x="612.2" y="343.2" font-size="10.3" text-anchor="middle" fill="#000" >1400</text>
<line x1="637.8" y1="330" x2="637.8" y2="333.2" stroke="#444" stroke-width="0.8" />
<text x="637.8" y="343.2" font-size="10.3" text-anchor="middle" fill="#000" >1440</text>
<line x1="663.4" y1="330" x2="663.4" y2="333.2" stroke="#444" stroke-width="0.8" />
<text x="663.4" y="343.2" font-size="10.3" text-anchor="middle" fill="#000" >1480</text>
<line x1="64.2" y1="330" x2="64.2" y2="331.8" stroke="#444" stroke-width="0.8" />
<line x1="104.4" y1="330" x2="104.4" y2="331.8" stroke="#444" stroke-width="0.8" />
<line x1="143.8" y1="330" x2="143.8" y2="331.8" stroke="#444" stroke-width="0.8" />
<line x1="163.4" y1="330" x2="163.4" y2="331.8" stroke="#444" stroke-width="0.8" />
<line x1="237.6" y1="330" x2="237.6" y2="331.8" stroke="#444" stroke-width="0.8" />
<line x1="300.2" y1="330" x2="300.2" y2="331.8" stroke="#444" stroke-width="0.8" />
<line x1="362.8" y1="330" x2="362.8" y2="331.8" stroke="#444" stroke-width="0.8" />
<line x1="425.5" y1="330" x2="425.5" y2="331.8" stroke="#444" stroke-width="0.8" />
<line x1="496" y1="330" x2="496" y2="331.8" stroke="#444" stroke-width="0.8" />
<line x1="524.2" y1="330" x2="524.2" y2="331.8" stroke="#444" stroke-width="0.8" />
<line x1="573.7" y1="330" x2="573.7" y2="331.8" stroke="#444" stroke-width="0.8" />
<line x1="599.3" y1="330" x2="599.3" y2="331.8" stroke="#444" stroke-width="0.8" />
<line x1="625" y1="330" x2="625" y2="331.8" stroke="#444" stroke-width="0.8" />
<line x1="650.6" y1="330" x2="650.6" y2="331.8" stroke="#444" stroke-width="0.8" />
<line x1="676.3" y1="330" x2="676.3" y2="331.8" stroke="#444" stroke-width="0.8" />
<text x="362.4" y="358.9" font-size="12.8" text-anchor="middle" fill="#000" >Time (h)</text>
<text x="19.6" y="271" font-size="12.4" text-anchor="middle" fill="#000" transform="rotate(-90 19.6 271)" >Voltage (V)</text>
<line x1="596.8" y1="220.9" x2="617.8" y2="220.9" stroke="#ee9599" stroke-width="0.9" />
<line x1="596.8" y1="232.2" x2="617.8" y2="232.2" stroke="#92bcee" stroke-width="0.9" />
<text x="620.6" y="224.3" font-size="9.4" text-anchor="start" fill="#000" >PVM-GPE</text>
<text x="620.6" y="235.6" font-size="9.4" text-anchor="start" fill="#000" >PDE</text>
<text x="558.3" y="321.7" font-size="10.1" text-anchor="start" fill="#000" >1 mA cm<tspan dy="-3.64" font-size="6.26">-2</tspan><tspan dy="3.64" font-size="10.1">​</tspan></text>
<text x="613.8" y="321.7" font-size="10.1" text-anchor="start" fill="#000" >1 mAh cm<tspan dy="-3.64" font-size="6.26">-2</tspan><tspan dy="3.64" font-size="10.1">​</tspan></text>
<text x="-0.5" y="213.5" font-size="17.5" text-anchor="start" fill="#000" >d</text>
<clipPath id="ce"><rect x="48.2" y="368.5" width="167.10000000000002" height="131.39999999999998"/></clipPath>
<polygon points="48.2,423.13 48.62,423.44 49.04,423.76 49.45,424.07 49.87,424.38 50.29,425 50.71,425 51.12,425.01 51.54,425.02 51.96,425.02 52.38,425.03 52.8,425.04 53.21,425.05 53.63,425.05 54.05,425.06 54.47,425.07 54.88,425.07 55.3,425.08 55.72,425.09 56.14,425.09 56.56,425.1 56.97,425.11 57.39,425.12 57.81,425.12 58.23,425.13 58.64,425.14 59.06,425.14 59.48,425.15 59.9,425.16 60.31,425.16 60.73,425.17 61.15,425.18 61.57,425.18 61.99,425.19 62.4,425.2 62.82,425.21 63.24,425.21 63.66,425.22 64.07,425.23 64.49,425.23 64.91,425.24 65.33,425.25 65.75,425.25 66.16,425.26 66.58,425.27 67,425.27 67.42,425.28 67.83,425.29 68.25,425.3 68.67,425.3 69.09,425.31 69.51,425.32 69.92,425.32 70.34,425.33 70.76,425.34 71.18,425.34 71.59,425.35 72.01,425.36 72.43,425.36 72.85,425.37 73.27,425.38 73.68,425.39 74.1,425.39 74.52,425.4 74.94,425.41 75.35,425.41 75.77,425.42 76.19,425.43 76.61,425.43 77.02,425.44 77.44,425.45 77.86,425.45 78.28,425.46 78.7,425.47 79.11,425.48 79.53,425.48 79.95,425.49 80.37,425.5 80.78,425.5 81.2,425.51 81.62,425.52 82.04,425.52 82.46,425.53 82.87,425.54 83.29,425.55 83.71,425.55 84.13,425.56 84.54,425.57 84.96,425.57 85.38,425.58 85.8,425.59 86.22,425.59 86.63,425.6 87.05,425.61 87.47,425.61 87.89,425.62 88.3,425.63 88.72,425.64 89.14,425.64 89.56,425.65 89.98,425.66 90.39,425.66 90.81,425.67 91.23,425.68 91.65,425.68 92.06,425.69 92.48,425.7 92.9,425.7 93.32,425.71 93.73,425.72 94.15,425.73 94.57,425.73 94.99,425.74 95.41,425.75 95.82,425.75 96.24,425.76 96.66,425.77 97.08,425.77 97.49,425.78 97.91,425.79 98.33,426.71 98.75,426.71 99.17,426.71 99.58,426.71 100,426.71 100.42,426.71 100.84,426.71 101.25,426.71 101.67,426.71 102.09,426.71 102.51,426.71 102.93,426.71 103.34,426.09 103.76,426.09 104.18,426.08 104.6,426.08 105.01,426.08 105.43,426.08 105.85,426.08 106.27,426.07 106.69,426.07 107.1,426.07 107.52,426.07 107.94,426.06 108.36,426.06 108.77,426.06 109.19,426.05 109.61,426.05 110.03,426.05 110.44,426.04 110.86,426.04 111.28,426.03 111.7,426.03 112.12,426.03 112.53,426.02 112.95,426.02 113.37,426.02 113.79,426.01 114.2,426.01 114.62,426 115.04,426 115.46,425.99 115.88,425.99 116.29,425.98 116.71,425.98 117.13,425.98 117.55,425.97 117.96,425.97 118.38,425.96 118.8,425.96 119.22,425.95 119.64,425.95 120.05,425.94 120.47,425.94 120.89,425.93 121.31,425.93 121.72,425.92 122.14,425.91 122.56,425.91 122.98,425.9 123.4,425.9 123.81,425.89 124.23,425.89 124.65,425.88 125.07,425.88 125.48,425.87 125.9,425.87 126.32,425.86 126.74,425.85 127.15,425.85 127.57,425.84 127.99,425.84 128.41,425.83 128.83,425.82 129.24,425.82 129.66,425.81 130.08,425.81 130.5,425.8 130.91,425.79 131.33,425.79 131.75,425.78 132.17,425.77 132.59,425.77 133,425.76 133.42,425.76 133.84,425.75 134.26,425.74 134.67,425.74 135.09,425.73 135.51,425.72 135.93,425.72 136.35,425.71 136.76,425.7 137.18,425.7 137.6,425.69 138.02,425.68 138.43,425.68 138.85,425.67 139.27,425.66 139.69,425.66 140.11,425.65 140.52,425.64 140.94,425.63 141.36,425.63 141.78,425.62 142.19,425.61 142.61,425.61 143.03,425.6 143.45,425.59 143.86,425.58 144.28,425.58 144.7,425.57 145.12,425.56 145.54,425.56 145.95,425.55 146.37,425.54 146.79,425.53 147.21,425.53 147.62,425.52 148.04,425.51 148.46,425.5 148.88,425.5 149.3,425.49 149.71,425.48 150.13,425.47 150.55,425.47 150.97,425.46 151.38,425.45 151.8,425.44 152.22,425.43 152.64,425.43 153.06,425.42 153.47,425.41 153.89,425.4 154.31,425.39 154.73,425.39 155.14,425.38 155.56,425.37 155.98,425.36 156.4,425.35 156.82,425.35 157.23,425.34 157.65,425.33 158.07,425.32 158.49,425.31 158.9,425.31 159.32,425.3 159.74,425.29 160.16,425.28 160.57,425.27 160.99,425.26 161.41,425.26 161.83,425.25 162.25,425.24 162.66,425.23 163.08,425.22 163.5,425.21 163.92,425.21 164.33,425.2 164.75,425.19 165.17,425.18 165.59,425.17 166.01,425.16 166.42,425.15 166.84,425.15 167.26,425.14 167.68,425.13 168.09,425.12 168.51,425.11 168.93,425.1 169.35,425.09 169.77,425.08 170.18,425.08 170.6,425.07 171.02,425.06 171.44,425.05 171.85,425.04 172.27,425.03 172.69,425.02 173.11,425.01 173.53,425 173.94,425 174.36,424.99 174.78,424.98 175.2,424.97 175.61,424.96 176.03,424.95 176.45,424.94 176.87,424.93 177.28,424.92 177.7,424.91 178.12,424.9 178.54,424.89 178.96,424.89 179.37,424.88 179.79,424.87 180.21,424.86 180.63,424.85 181.04,424.84 181.46,424.83 181.88,424.82 182.3,424.81 182.72,424.8 183.13,424.79 183.55,424.78 183.97,424.77 184.39,424.76 184.8,424.75 185.22,424.74 185.64,424.73 186.06,424.72 186.48,424.71 186.89,424.7 187.31,424.7 187.73,424.69 188.15,424.68 188.56,424.67 188.98,424.66 189.4,424.65 189.82,424.64 190.24,424.63 190.65,424.62 191.07,424.61 191.49,424.6 191.91,424.59 192.32,424.58 192.74,424.57 193.16,424.56 193.58,424.55 193.99,424.54 194.41,424.53 194.83,424.52 195.25,424.51 195.67,424.5 196.08,424.49 196.5,424.48 196.92,424.47 197.34,424.46 197.75,424.45 198.17,424.44 198.59,424.43 199.01,424.42 199.43,424.41 199.84,424.4 200.26,424.39 200.68,424.38 201.1,424.37 201.51,424.36 201.93,424.34 202.35,424.33 202.77,424.32 203.19,424.31 203.6,424.3 204.02,424.29 204.44,424.28 204.86,424.27 205.27,424.26 205.69,424.25 206.11,424.24 206.53,424.23 206.94,424.22 207.36,424.21 207.78,424.2 208.2,424.19 208.62,424.18 209.03,424.17 209.45,424.16 209.87,424.15 210.29,424.13 210.7,424.12 211.12,424.11 211.54,424.1 211.96,424.09 212.38,424.08 212.79,424.07 213.21,424.06 213.63,424.05 214.05,424.04 214.46,424.03 214.88,424.02 215.3,424.01 215.3,444.94 214.88,444.93 214.46,444.92 214.05,444.91 213.63,444.9 213.21,444.89 212.79,444.88 212.38,444.87 211.96,444.86 211.54,444.84 211.12,444.83 210.7,444.82 210.29,444.81 209.87,444.8 209.45,444.79 209.03,444.78 208.62,444.77 208.2,444.76 207.78,444.75 207.36,444.74 206.94,444.73 206.53,444.72 206.11,444.71 205.69,444.7 205.27,444.69 204.86,444.68 204.44,444.66 204.02,444.65 203.6,444.64 203.19,444.63 202.77,444.62 202.35,444.61 201.93,444.6 201.51,444.59 201.1,444.58 200.68,444.57 200.26,444.56 199.84,444.55 199.43,444.54 199.01,444.53 198.59,444.52 198.17,444.51 197.75,444.5 197.34,444.49 196.92,444.48 196.5,444.47 196.08,444.46 195.67,444.45 195.25,444.44 194.83,444.43 194.41,444.42 193.99,444.41 193.58,444.4 193.16,444.39 192.74,444.38 192.32,444.37 191.91,444.36 191.49,444.35 191.07,444.34 190.65,444.33 190.24,444.32 189.82,444.31 189.4,444.3 188.98,444.29 188.56,444.28 188.15,444.27 187.73,444.26 187.31,444.25 186.89,444.24 186.48,444.23 186.06,444.22 185.64,444.21 185.22,444.2 184.8,444.19 184.39,444.18 183.97,444.18 183.55,444.17 183.13,444.16 182.72,444.15 182.3,444.14 181.88,444.13 181.46,444.12 181.04,444.11 180.63,444.1 180.21,444.09 179.79,444.08 179.37,444.07 178.96,444.06 178.54,444.05 178.12,444.04 177.7,444.03 177.28,444.03 176.87,444.02 176.45,444.01 176.03,444 175.61,443.99 175.2,443.98 174.78,443.97 174.36,443.96 173.94,443.95 173.53,443.94 173.11,443.93 172.69,443.93 172.27,443.92 171.85,443.91 171.44,443.9 171.02,443.89 170.6,443.88 170.18,443.87 169.77,443.86 169.35,443.85 168.93,443.85 168.51,443.84 168.09,443.83 167.68,443.82 167.26,443.81 166.84,443.8 166.42,443.79 166.01,443.78 165.59,443.78 165.17,443.77 164.75,443.76 164.33,443.75 163.92,443.74 163.5,443.73 163.08,443.72 162.66,443.72 162.25,443.71 161.83,443.7 161.41,443.69 160.99,443.68 160.57,443.67 160.16,443.67 159.74,443.66 159.32,443.65 158.9,443.64 158.49,443.63 158.07,443.63 157.65,443.62 157.23,443.61 156.82,443.6 156.4,443.59 155.98,443.58 155.56,443.58 155.14,443.57 154.73,443.56 154.31,443.55 153.89,443.54 153.47,443.54 153.06,443.53 152.64,443.52 152.22,443.51 151.8,443.51 151.38,443.5 150.97,443.49 150.55,443.48 150.13,443.47 149.71,443.47 149.3,443.46 148.88,443.45 148.46,443.44 148.04,443.44 147.62,443.43 147.21,443.42 146.79,443.41 146.37,443.41 145.95,443.4 145.54,443.39 145.12,443.38 144.7,443.38 144.28,443.37 143.86,443.36 143.45,443.36 143.03,443.35 142.61,443.34 142.19,443.33 141.78,443.33 141.36,443.32 140.94,443.31 140.52,443.31 140.11,443.3 139.69,443.29 139.27,443.29 138.85,443.28 138.43,443.27 138.02,443.26 137.6,443.26 137.18,443.25 136.76,443.24 136.35,443.24 135.93,443.23 135.51,443.22 135.09,443.22 134.67,443.21 134.26,443.2 133.84,443.2 133.42,443.19 133,443.19 132.59,443.18 132.17,443.17 131.75,443.17 131.33,443.16 130.91,443.15 130.5,443.15 130.08,443.14 129.66,443.14 129.24,443.13 128.83,443.12 128.41,443.12 127.99,443.11 127.57,443.11 127.15,443.1 126.74,443.09 126.32,443.09 125.9,443.08 125.48,443.08 125.07,443.07 124.65,443.07 124.23,443.06 123.81,443.05 123.4,443.05 122.98,443.04 122.56,443.04 122.14,443.03 121.72,443.03 121.31,443.02 120.89,443.02 120.47,443.01 120.05,443.01 119.64,443 119.22,443 118.8,442.99 118.38,442.99 117.96,442.98 117.55,442.98 117.13,442.97 116.71,442.97 116.29,442.96 115.88,442.96 115.46,442.95 115.04,442.95 114.62,442.95 114.2,442.94 113.79,442.94 113.37,442.93 112.95,442.93 112.53,442.92 112.12,442.92 111.7,442.92 111.28,442.91 110.86,442.91 110.44,442.91 110.03,442.9 109.61,442.9 109.19,442.89 108.77,442.89 108.36,442.89 107.94,442.89 107.52,442.88 107.1,442.88 106.69,442.88 106.27,442.87 105.85,442.87 105.43,442.87 105.01,442.87 104.6,442.87 104.18,442.86 103.76,442.86 103.34,442.86 102.93,442.24 102.51,442.24 102.09,442.24 101.67,442.24 101.25,442.24 100.84,442.24 100.42,442.24 100,442.24 99.58,442.24 99.17,442.24 98.75,442.24 98.33,442.24 97.91,443.16 97.49,443.17 97.08,443.17 96.66,443.18 96.24,443.19 95.82,443.19 95.41,443.2 94.99,443.21 94.57,443.22 94.15,443.22 93.73,443.23 93.32,443.24 92.9,443.24 92.48,443.25 92.06,443.26 91.65,443.26 91.23,443.27 90.81,443.28 90.39,443.28 89.98,443.29 89.56,443.3 89.14,443.31 88.72,443.31 88.3,443.32 87.89,443.33 87.47,443.33 87.05,443.34 86.63,443.35 86.22,443.35 85.8,443.36 85.38,443.37 84.96,443.37 84.54,443.38 84.13,443.39 83.71,443.4 83.29,443.4 82.87,443.41 82.46,443.42 82.04,443.42 81.62,443.43 81.2,443.44 80.78,443.44 80.37,443.45 79.95,443.46 79.53,443.46 79.11,443.47 78.7,443.48 78.28,443.49 77.86,443.49 77.44,443.5 77.02,443.51 76.61,443.51 76.19,443.52 75.77,443.53 75.35,443.53 74.94,443.54 74.52,443.55 74.1,443.55 73.68,443.56 73.27,443.57 72.85,443.58 72.43,443.58 72.01,443.59 71.59,443.6 71.18,443.6 70.76,443.61 70.34,443.62 69.92,443.62 69.51,443.63 69.09,443.64 68.67,443.65 68.25,443.65 67.83,443.66 67.42,443.67 67,443.67 66.58,443.68 66.16,443.69 65.75,443.69 65.33,443.7 64.91,443.71 64.49,443.71 64.07,443.72 63.66,443.73 63.24,443.74 62.82,443.74 62.4,443.75 61.99,443.76 61.57,443.76 61.15,443.77 60.73,443.78 60.31,443.78 59.9,443.79 59.48,443.8 59.06,443.8 58.64,443.81 58.23,443.82 57.81,443.83 57.39,443.83 56.97,443.84 56.56,443.85 56.14,443.85 55.72,443.86 55.3,443.87 54.88,443.87 54.47,443.88 54.05,443.89 53.63,443.89 53.21,443.9 52.8,443.91 52.38,443.92 51.96,443.92 51.54,443.93 51.12,443.94 50.71,443.94 50.29,443.95 49.87,444.57 49.45,444.88 49.04,445.19 48.62,445.5 48.2,445.82" fill="#efa6aa" />
<polyline points="48.27,419.05 49.04,420.36 49.17,455.32 49.94,453.63 50.07,420.9 50.84,422.05 50.97,450.19 51.74,448.91 51.88,421.64 52.64,422.73 52.78,449.29 53.55,448.09 53.68,421.68 54.45,422.77 54.58,446.6 55.35,445.61 55.49,421.72 56.25,422.8 56.39,446.56 57.16,445.57 57.29,421.76 58.06,422.84 58.19,446.52 58.96,445.53 59.09,421.81 59.86,422.88 60,446.48 60.77,445.49 60.9,421.85 61.67,422.92 61.8,446.43 62.57,445.46 62.7,421.89 63.47,422.95 63.61,446.39 64.38,445.42 64.51,421.93 65.28,422.99 65.41,446.35 66.18,445.38 66.31,421.97 67.08,423.03 67.22,446.31 67.98,445.34 68.12,422.01 68.89,423.07 69.02,446.27 69.79,445.31 69.92,422.05 70.69,423.1 70.83,446.23 71.59,445.27 71.73,422.09 72.5,423.14 72.63,446.19 73.4,445.23 73.53,422.13 74.3,423.18 74.43,446.15 75.2,445.19 75.34,422.17 76.11,423.21 76.24,446.11 77.01,445.16 77.14,422.22 77.91,423.25 78.04,446.07 78.81,445.12 78.95,422.26 79.72,423.29 79.85,446.03 80.62,445.08 80.75,422.3 81.52,423.33 81.65,445.99 82.42,445.05 82.56,422.34 83.32,423.36 83.46,445.95 84.23,445.01 84.36,422.38 85.13,423.4 85.26,445.91 86.03,444.97 86.17,422.42 86.93,423.44 87.07,445.87 87.84,444.93 87.97,422.46 88.74,423.48 88.87,445.83 89.64,444.9 89.77,422.5 90.54,423.51 90.68,445.79 91.45,444.86 91.58,422.54 92.35,423.55 92.48,445.74 93.25,444.82 93.38,422.58 94.15,423.59 94.29,445.7 95.05,444.78 95.19,422.63 95.96,423.63 96.09,445.66 96.86,444.75 96.99,422.67 97.76,423.66 97.9,445.62 98.66,444.71 98.8,423.95 99.57,424.84 99.7,444.35 100.47,443.54 100.6,423.95 101.37,424.84 101.5,444.35 102.27,443.54 102.41,423.95 103.18,424.84 103.31,444.35 104.08,443.54 104.21,423.09 104.98,424.05 105.11,445.2 105.88,444.32 106.02,423.08 106.79,424.04 106.92,445.21 107.69,444.33 107.82,423.07 108.59,424.03 108.72,445.23 109.49,444.34 109.63,423.05 110.39,424.01 110.53,445.25 111.3,444.36 111.43,423.03 112.2,423.99 112.33,445.27 113.1,444.38 113.24,423 114,423.97 114.14,445.29 114.91,444.4 115.04,422.98 115.81,423.95 115.94,445.31 116.71,444.43 116.84,422.95 117.61,423.92 117.75,445.34 118.52,444.45 118.65,422.92 119.42,423.9 119.55,445.37 120.32,444.48 120.45,422.89 121.22,423.87 121.36,445.4 122.13,444.5 122.26,422.86 123.03,423.84 123.16,445.43 123.93,444.53 124.06,422.83 124.83,423.81 124.97,445.46 125.73,444.56 125.87,422.8 126.64,423.78 126.77,445.49 127.54,444.59 127.67,422.76 128.44,423.75 128.58,445.53 129.34,444.62 129.48,422.73 130.25,423.72 130.38,445.56 131.15,444.65 131.28,422.69 132.05,423.69 132.18,445.6 132.95,444.69 133.09,422.65 133.86,423.65 133.99,445.64 134.76,444.72 134.89,422.61 135.66,423.62 135.79,445.67 136.56,444.76 136.7,422.58 137.46,423.58 137.6,445.71 138.37,444.79 138.5,422.54 139.27,423.55 139.4,445.75 140.17,444.83 140.31,422.49 141.07,423.51 141.21,445.79 141.98,444.87 142.11,422.45 142.88,423.47 143.01,445.83 143.78,444.9 143.91,422.41 144.68,423.43 144.82,445.88 145.59,444.94 145.72,422.37 146.49,423.39 146.62,445.92 147.39,444.98 147.52,422.32 148.29,423.35 148.43,445.96 149.2,445.02 149.33,422.28 150.1,423.31 150.23,446.01 151,445.06 151.13,422.23 151.9,423.27 152.04,446.05 152.8,445.1 152.94,422.19 153.71,423.23 153.84,446.1 154.61,445.14 154.74,422.14 155.51,423.18 155.65,446.14 156.41,445.19 156.55,422.09 157.32,423.14 157.45,446.19 158.22,445.23 158.35,422.05 159.12,423.1 159.25,446.24 160.02,445.27 160.16,422 160.93,423.05 161.06,446.29 161.83,445.32 161.96,421.95 162.73,423.01 162.86,446.33 163.63,445.36 163.77,421.9 164.54,422.96 164.67,446.38 165.44,445.41 165.57,421.85 166.34,422.92 166.47,446.43 167.24,445.46 167.38,421.8 168.14,422.87 168.28,446.48 169.05,445.5 169.18,421.74 169.95,422.82 170.08,446.54 170.85,445.55 170.99,421.69 171.75,422.77 171.89,446.59 172.66,445.6 172.79,421.64 173.56,422.73 173.69,446.64 174.46,445.64 174.59,421.59 175.36,422.68 175.5,446.69 176.27,445.69 176.4,421.53 177.17,422.63 177.3,446.75 178.07,445.74 178.2,421.48 178.97,422.58 179.11,446.8 179.87,445.79 180.01,421.42 180.78,422.53 180.91,446.85 181.68,445.84 181.81,421.37 182.58,422.48 182.72,446.91 183.48,445.89 183.62,421.31 184.39,422.43 184.52,446.96 185.29,445.94 185.42,421.26 186.19,422.38 186.32,447.02 187.09,445.99 187.23,421.2 188,422.32 188.13,447.08 188.9,446.05 189.03,421.14 189.8,422.27 189.93,447.13 190.7,446.1 190.84,421.08 191.61,422.22 191.74,447.19 192.51,446.15 192.64,421.02 193.41,422.16 193.54,447.25 194.31,446.2 194.45,420.97 195.21,422.11 195.35,447.31 196.12,446.26 196.25,420.91 197.02,422.06 197.15,447.37 197.92,446.31 198.06,420.85 198.82,422 198.96,447.43 199.73,446.37 199.86,420.79 200.63,421.95 200.76,447.48 201.53,446.42 201.66,420.73 202.43,421.89 202.57,447.55 203.34,446.48 203.47,420.66 204.24,421.84 204.37,447.61 205.14,446.53 205.27,420.6 206.04,421.78 206.18,447.67 206.94,446.59 207.08,420.54 207.85,421.72 207.98,447.73 208.75,446.65 208.88,420.48 209.65,421.67 209.79,447.79 210.55,446.7 210.69,420.41 211.46,421.61 211.59,447.85 212.36,446.76 212.49,420.35 213.26,421.55 213.4,447.92 214.16,446.82 214.3,420.29 215.07,421.49 215.2,447.98 215.97,446.88" fill="none" stroke="#efa6aa" stroke-width="0.85" stroke-linejoin="round" clip-path="url(#ce)"/>
<polyline points="48.5,394.78 48.8,409.56 49.4,418.87 50.2,421.61" fill="none" stroke="#ee9599" stroke-width="0.9" stroke-linejoin="round" />
<line x1="48.2" y1="368.5" x2="215.3" y2="368.5" stroke="#4c4c4c" stroke-width="1.0" />
<line x1="215.3" y1="368.5" x2="215.3" y2="499.9" stroke="#4c4c4c" stroke-width="1.0" />
<line x1="48.2" y1="368.5" x2="48.2" y2="499.9" stroke="#4c4c4c" stroke-width="1.0" />
<line x1="48.2" y1="499.9" x2="215.3" y2="499.9" stroke="#4c4c4c" stroke-width="1.0" />
<line x1="45" y1="368.5" x2="48.2" y2="368.5" stroke="#555" stroke-width="0.8" />
<text x="43" y="372" font-size="10.0" text-anchor="end" fill="#000" >1.2</text>
<line x1="45" y1="390.4" x2="48.2" y2="390.4" stroke="#555" stroke-width="0.8" />
<text x="43" y="393.9" font-size="10.0" text-anchor="end" fill="#000" >0.8</text>
<line x1="45" y1="412.3" x2="48.2" y2="412.3" stroke="#555" stroke-width="0.8" />
<text x="43" y="415.8" font-size="10.0" text-anchor="end" fill="#000" >0.4</text>
<line x1="45" y1="434.2" x2="48.2" y2="434.2" stroke="#555" stroke-width="0.8" />
<text x="43" y="437.7" font-size="10.0" text-anchor="end" fill="#000" >0.0</text>
<line x1="45" y1="456.1" x2="48.2" y2="456.1" stroke="#555" stroke-width="0.8" />
<text x="43" y="459.6" font-size="10.0" text-anchor="end" fill="#000" >-0.4</text>
<line x1="45" y1="478" x2="48.2" y2="478" stroke="#555" stroke-width="0.8" />
<text x="43" y="481.5" font-size="10.0" text-anchor="end" fill="#000" >-0.8</text>
<line x1="45" y1="499.9" x2="48.2" y2="499.9" stroke="#555" stroke-width="0.8" />
<text x="43" y="503.4" font-size="10.0" text-anchor="end" fill="#000" >-1.2</text>
<line x1="46.4" y1="379.45" x2="48.2" y2="379.45" stroke="#555" stroke-width="0.8" />
<line x1="46.4" y1="401.35" x2="48.2" y2="401.35" stroke="#555" stroke-width="0.8" />
<line x1="46.4" y1="423.25" x2="48.2" y2="423.25" stroke="#555" stroke-width="0.8" />
<line x1="46.4" y1="445.15" x2="48.2" y2="445.15" stroke="#555" stroke-width="0.8" />
<line x1="46.4" y1="467.05" x2="48.2" y2="467.05" stroke="#555" stroke-width="0.8" />
<line x1="46.4" y1="488.95" x2="48.2" y2="488.95" stroke="#555" stroke-width="0.8" />
<line x1="48.2" y1="499.9" x2="48.2" y2="503.1" stroke="#555" stroke-width="0.8" />
<text x="48.2" y="514.2" font-size="10.0" text-anchor="middle" fill="#000" >0</text>
<line x1="81.62" y1="499.9" x2="81.62" y2="503.1" stroke="#555" stroke-width="0.8" />
<text x="81.62" y="514.2" font-size="10.0" text-anchor="middle" fill="#000" >20</text>
<line x1="115.04" y1="499.9" x2="115.04" y2="503.1" stroke="#555" stroke-width="0.8" />
<text x="115.04" y="514.2" font-size="10.0" text-anchor="middle" fill="#000" >40</text>
<line x1="148.46" y1="499.9" x2="148.46" y2="503.1" stroke="#555" stroke-width="0.8" />
<text x="148.46" y="514.2" font-size="10.0" text-anchor="middle" fill="#000" >60</text>
<line x1="181.88" y1="499.9" x2="181.88" y2="503.1" stroke="#555" stroke-width="0.8" />
<text x="181.88" y="514.2" font-size="10.0" text-anchor="middle" fill="#000" >80</text>
<line x1="215.3" y1="499.9" x2="215.3" y2="503.1" stroke="#555" stroke-width="0.8" />
<text x="215.3" y="514.2" font-size="10.0" text-anchor="middle" fill="#000" >100</text>
<line x1="64.91" y1="499.9" x2="64.91" y2="501.7" stroke="#555" stroke-width="0.8" />
<line x1="98.33" y1="499.9" x2="98.33" y2="501.7" stroke="#555" stroke-width="0.8" />
<line x1="131.75" y1="499.9" x2="131.75" y2="501.7" stroke="#555" stroke-width="0.8" />
<line x1="165.17" y1="499.9" x2="165.17" y2="501.7" stroke="#555" stroke-width="0.8" />
<line x1="198.59" y1="499.9" x2="198.59" y2="501.7" stroke="#555" stroke-width="0.8" />
<text x="131.8" y="530.6" font-size="12.4" text-anchor="middle" fill="#000" >Time (h)</text>
<text x="19.4" y="434.2" font-size="12.4" text-anchor="middle" fill="#000" transform="rotate(-90 19.4 434.2)" >Voltage (V)</text>
<line x1="143" y1="375.9" x2="164.2" y2="375.9" stroke="#ee9599" stroke-width="0.9" />
<text x="167.6" y="379.4" font-size="9.6" text-anchor="start" fill="#000" >PVM-GPE</text>
<text x="105" y="495.8" font-size="9.8" text-anchor="start" fill="#000" >3 mA cm<tspan dy="-3.53" font-size="6.08">-2</tspan><tspan dy="3.53" font-size="9.8">​</tspan> , 1.5 mAh cm<tspan dy="-3.53" font-size="6.08">-2</tspan><tspan dy="3.53" font-size="9.8">​</tspan></text>
<text x="-0.3" y="376.5" font-size="17.5" text-anchor="start" fill="#000" >e</text>
<linearGradient id="gf" x1="0" y1="0" x2="0" y2="1"><stop offset="0" stop-color="#e86e78"/><stop offset="0.55" stop-color="#efb0b6"/><stop offset="1" stop-color="#f4ccd0"/></linearGradient>
<rect x="408" y="398.8" width="17.1" height="56.1" fill="url(#gf)"/>
<g fill="#e86d79">
<circle cx="287.08" cy="499.01" r="1.7"/>
<circle cx="287.65" cy="498" r="1.7"/>
<circle cx="288.26" cy="496.62" r="1.7"/>
<circle cx="288.91" cy="495.33" r="1.7"/>
<circle cx="289.59" cy="494.16" r="1.7"/>
<circle cx="290.31" cy="493.13" r="1.7"/>
<circle cx="291.08" cy="492.14" r="1.7"/>
<circle cx="291.89" cy="491.17" r="1.7"/>
<circle cx="292.75" cy="490.2" r="1.7"/>
<circle cx="293.66" cy="489.22" r="1.7"/>
<circle cx="294.63" cy="488.24" r="1.7"/>
<circle cx="295.65" cy="487.24" r="1.7"/>
<circle cx="296.74" cy="486.24" r="1.7"/>
<circle cx="297.89" cy="485.21" r="1.7"/>
<circle cx="299.11" cy="484.16" r="1.7"/>
<circle cx="300.41" cy="483.09" r="1.7"/>
<circle cx="301.78" cy="481.99" r="1.7"/>
<circle cx="303.24" cy="480.88" r="1.7"/>
<circle cx="304.78" cy="479.77" r="1.7"/>
<circle cx="306.41" cy="478.68" r="1.7"/>
<circle cx="308.14" cy="477.59" r="1.7"/>
<circle cx="309.98" cy="476.51" r="1.7"/>
<circle cx="311.93" cy="475.42" r="1.7"/>
<circle cx="313.99" cy="474.32" r="1.7"/>
<circle cx="316.18" cy="473.23" r="1.7"/>
<circle cx="318.49" cy="472.16" r="1.7"/>
<circle cx="320.95" cy="471.11" r="1.7"/>
<circle cx="323.56" cy="470.06" r="1.7"/>
<circle cx="326.32" cy="469.04" r="1.7"/>
<circle cx="329.24" cy="468.14" r="1.7"/>
<circle cx="332.35" cy="467.33" r="1.7"/>
<circle cx="335.63" cy="466.55" r="1.7"/>
<circle cx="339.12" cy="465.79" r="1.7"/>
<circle cx="342.81" cy="465.11" r="1.7"/>
<circle cx="346.73" cy="464.56" r="1.7"/>
<circle cx="350.74" cy="464.16" r="1.7"/>
<circle cx="354.75" cy="463.91" r="1.7"/>
<circle cx="358.75" cy="463.81" r="1.7"/>
<circle cx="362.76" cy="463.87" r="1.7"/>
<circle cx="366.77" cy="464.07" r="1.7"/>
<circle cx="370.78" cy="464.42" r="1.7"/>
<circle cx="374.79" cy="465" r="1.7"/>
<circle cx="378.79" cy="465.96" r="1.7"/>
<circle cx="382.8" cy="467.29" r="1.7"/>
<circle cx="386.81" cy="468.91" r="1.7"/>
<circle cx="390.82" cy="470.85" r="1.7"/>
<circle cx="394.82" cy="473.13" r="1.7"/>
<circle cx="398.83" cy="475.77" r="1.7"/>
<circle cx="402.84" cy="478.5" r="1.7"/>
<circle cx="406.85" cy="481.33" r="1.7"/>
<circle cx="410.85" cy="484.47" r="1.7"/>
<circle cx="414.86" cy="487.8" r="1.7"/>
<circle cx="418.87" cy="491.05" r="1.7"/>
<circle cx="422.88" cy="493.95" r="1.7"/>
<circle cx="426.89" cy="496.16" r="1.7"/>
<circle cx="430.22" cy="497.41" r="1.7"/>
<circle cx="431.51" cy="497.46" r="1.7"/>
<circle cx="432.8" cy="497.5" r="1.7"/>
<circle cx="434.09" cy="497.55" r="1.7"/>
<circle cx="435.38" cy="497.59" r="1.7"/>
<circle cx="436.67" cy="497.64" r="1.7"/>
<circle cx="437.96" cy="497.69" r="1.7"/>
</g>
<g fill="#e97783">
<circle cx="287.45" cy="499.01" r="1.7"/>
<circle cx="288.01" cy="498.05" r="1.7"/>
<circle cx="288.6" cy="496.73" r="1.7"/>
<circle cx="289.23" cy="495.49" r="1.7"/>
<circle cx="289.9" cy="494.37" r="1.7"/>
<circle cx="290.6" cy="493.38" r="1.7"/>
<circle cx="291.35" cy="492.44" r="1.7"/>
<circle cx="292.15" cy="491.5" r="1.7"/>
<circle cx="292.99" cy="490.57" r="1.7"/>
<circle cx="293.88" cy="489.63" r="1.7"/>
<circle cx="294.82" cy="488.69" r="1.7"/>
<circle cx="295.82" cy="487.74" r="1.7"/>
<circle cx="296.89" cy="486.77" r="1.7"/>
<circle cx="298.01" cy="485.79" r="1.7"/>
<circle cx="299.2" cy="484.78" r="1.7"/>
<circle cx="300.47" cy="483.75" r="1.7"/>
<circle cx="301.81" cy="482.7" r="1.7"/>
<circle cx="303.23" cy="481.64" r="1.7"/>
<circle cx="304.74" cy="480.57" r="1.7"/>
<circle cx="306.33" cy="479.52" r="1.7"/>
<circle cx="308.02" cy="478.48" r="1.7"/>
<circle cx="309.82" cy="477.45" r="1.7"/>
<circle cx="311.72" cy="476.4" r="1.7"/>
<circle cx="313.73" cy="475.34" r="1.7"/>
<circle cx="315.87" cy="474.3" r="1.7"/>
<circle cx="318.13" cy="473.27" r="1.7"/>
<circle cx="320.53" cy="472.26" r="1.7"/>
<circle cx="323.08" cy="471.25" r="1.7"/>
<circle cx="325.78" cy="470.28" r="1.7"/>
<circle cx="328.63" cy="469.42" r="1.7"/>
<circle cx="331.66" cy="468.64" r="1.7"/>
<circle cx="334.88" cy="467.89" r="1.7"/>
<circle cx="338.28" cy="467.17" r="1.7"/>
<circle cx="341.89" cy="466.51" r="1.7"/>
<circle cx="345.72" cy="465.99" r="1.7"/>
<circle cx="349.63" cy="465.6" r="1.7"/>
<circle cx="353.55" cy="465.36" r="1.7"/>
<circle cx="357.46" cy="465.26" r="1.7"/>
<circle cx="361.38" cy="465.32" r="1.7"/>
<circle cx="365.29" cy="465.51" r="1.7"/>
<circle cx="369.2" cy="465.85" r="1.7"/>
<circle cx="373.12" cy="466.41" r="1.7"/>
<circle cx="377.03" cy="467.33" r="1.7"/>
<circle cx="380.95" cy="468.61" r="1.7"/>
<circle cx="384.86" cy="470.15" r="1.7"/>
<circle cx="388.78" cy="472.02" r="1.7"/>
<circle cx="392.69" cy="474.2" r="1.7"/>
<circle cx="396.61" cy="476.73" r="1.7"/>
<circle cx="400.52" cy="479.35" r="1.7"/>
<circle cx="404.44" cy="482.07" r="1.7"/>
<circle cx="408.35" cy="485.08" r="1.7"/>
<circle cx="412.27" cy="488.27" r="1.7"/>
<circle cx="416.18" cy="491.39" r="1.7"/>
<circle cx="420.1" cy="494.17" r="1.7"/>
<circle cx="424.01" cy="496.29" r="1.7"/>
<circle cx="427.26" cy="497.41" r="1.7"/>
<circle cx="428.56" cy="497.46" r="1.7"/>
<circle cx="429.85" cy="497.5" r="1.7"/>
<circle cx="431.14" cy="497.55" r="1.7"/>
<circle cx="432.43" cy="497.59" r="1.7"/>
<circle cx="433.72" cy="497.64" r="1.7"/>
<circle cx="435.01" cy="497.69" r="1.7"/>
</g>
<g fill="#eb838e">
<circle cx="287.45" cy="499.01" r="1.7"/>
<circle cx="287.99" cy="498.1" r="1.7"/>
<circle cx="288.57" cy="496.84" r="1.7"/>
<circle cx="289.18" cy="495.65" r="1.7"/>
<circle cx="289.83" cy="494.58" r="1.7"/>
<circle cx="290.51" cy="493.63" r="1.7"/>
<circle cx="291.24" cy="492.73" r="1.7"/>
<circle cx="292.01" cy="491.83" r="1.7"/>
<circle cx="292.83" cy="490.94" r="1.7"/>
<circle cx="293.69" cy="490.05" r="1.7"/>
<circle cx="294.61" cy="489.15" r="1.7"/>
<circle cx="295.58" cy="488.23" r="1.7"/>
<circle cx="296.61" cy="487.31" r="1.7"/>
<circle cx="297.7" cy="486.36" r="1.7"/>
<circle cx="298.86" cy="485.4" r="1.7"/>
<circle cx="300.09" cy="484.41" r="1.7"/>
<circle cx="301.39" cy="483.41" r="1.7"/>
<circle cx="302.77" cy="482.39" r="1.7"/>
<circle cx="304.23" cy="481.37" r="1.7"/>
<circle cx="305.78" cy="480.37" r="1.7"/>
<circle cx="307.43" cy="479.37" r="1.7"/>
<circle cx="309.17" cy="478.38" r="1.7"/>
<circle cx="311.01" cy="477.38" r="1.7"/>
<circle cx="312.97" cy="476.37" r="1.7"/>
<circle cx="315.05" cy="475.36" r="1.7"/>
<circle cx="317.24" cy="474.38" r="1.7"/>
<circle cx="319.57" cy="473.42" r="1.7"/>
<circle cx="322.04" cy="472.45" r="1.7"/>
<circle cx="324.66" cy="471.52" r="1.7"/>
<circle cx="327.44" cy="470.7" r="1.7"/>
<circle cx="330.38" cy="469.95" r="1.7"/>
<circle cx="333.5" cy="469.23" r="1.7"/>
<circle cx="336.81" cy="468.54" r="1.7"/>
<circle cx="340.31" cy="467.91" r="1.7"/>
<circle cx="344.03" cy="467.41" r="1.7"/>
<circle cx="347.83" cy="467.04" r="1.7"/>
<circle cx="351.63" cy="466.81" r="1.7"/>
<circle cx="355.43" cy="466.72" r="1.7"/>
<circle cx="359.23" cy="466.77" r="1.7"/>
<circle cx="363.03" cy="466.96" r="1.7"/>
<circle cx="366.83" cy="467.28" r="1.7"/>
<circle cx="370.63" cy="467.81" r="1.7"/>
<circle cx="374.43" cy="468.69" r="1.7"/>
<circle cx="378.24" cy="469.92" r="1.7"/>
<circle cx="382.04" cy="471.4" r="1.7"/>
<circle cx="385.84" cy="473.18" r="1.7"/>
<circle cx="389.64" cy="475.27" r="1.7"/>
<circle cx="393.44" cy="477.69" r="1.7"/>
<circle cx="397.24" cy="480.2" r="1.7"/>
<circle cx="401.04" cy="482.81" r="1.7"/>
<circle cx="404.84" cy="485.69" r="1.7"/>
<circle cx="408.64" cy="488.75" r="1.7"/>
<circle cx="412.45" cy="491.73" r="1.7"/>
<circle cx="416.25" cy="494.39" r="1.7"/>
<circle cx="420.05" cy="496.42" r="1.7"/>
<circle cx="423.21" cy="497.41" r="1.7"/>
<circle cx="424.5" cy="497.45" r="1.7"/>
<circle cx="425.79" cy="497.5" r="1.7"/>
<circle cx="427.08" cy="497.54" r="1.7"/>
<circle cx="428.37" cy="497.59" r="1.7"/>
<circle cx="429.66" cy="497.63" r="1.7"/>
<circle cx="430.95" cy="497.67" r="1.7"/>
</g>
<g fill="#ec8e98">
<circle cx="287.82" cy="499.01" r="1.7"/>
<circle cx="288.32" cy="498.17" r="1.7"/>
<circle cx="288.86" cy="496.97" r="1.7"/>
<circle cx="289.42" cy="495.85" r="1.7"/>
<circle cx="290.02" cy="494.83" r="1.7"/>
<circle cx="290.66" cy="493.94" r="1.7"/>
<circle cx="291.33" cy="493.08" r="1.7"/>
<circle cx="292.04" cy="492.23" r="1.7"/>
<circle cx="292.8" cy="491.39" r="1.7"/>
<circle cx="293.6" cy="490.54" r="1.7"/>
<circle cx="294.45" cy="489.69" r="1.7"/>
<circle cx="295.35" cy="488.83" r="1.7"/>
<circle cx="296.31" cy="487.95" r="1.7"/>
<circle cx="297.32" cy="487.06" r="1.7"/>
<circle cx="298.39" cy="486.14" r="1.7"/>
<circle cx="299.53" cy="485.21" r="1.7"/>
<circle cx="300.74" cy="484.26" r="1.7"/>
<circle cx="302.02" cy="483.3" r="1.7"/>
<circle cx="303.37" cy="482.33" r="1.7"/>
<circle cx="304.81" cy="481.38" r="1.7"/>
<circle cx="306.33" cy="480.44" r="1.7"/>
<circle cx="307.94" cy="479.5" r="1.7"/>
<circle cx="309.65" cy="478.56" r="1.7"/>
<circle cx="311.47" cy="477.6" r="1.7"/>
<circle cx="313.39" cy="476.65" r="1.7"/>
<circle cx="315.43" cy="475.72" r="1.7"/>
<circle cx="317.59" cy="474.8" r="1.7"/>
<circle cx="319.88" cy="473.89" r="1.7"/>
<circle cx="322.3" cy="473.01" r="1.7"/>
<circle cx="324.87" cy="472.23" r="1.7"/>
<circle cx="327.6" cy="471.53" r="1.7"/>
<circle cx="330.49" cy="470.84" r="1.7"/>
<circle cx="333.55" cy="470.19" r="1.7"/>
<circle cx="336.8" cy="469.59" r="1.7"/>
<circle cx="340.24" cy="469.12" r="1.7"/>
<circle cx="343.77" cy="468.77" r="1.7"/>
<circle cx="347.29" cy="468.55" r="1.7"/>
<circle cx="350.81" cy="468.46" r="1.7"/>
<circle cx="354.33" cy="468.51" r="1.7"/>
<circle cx="357.85" cy="468.69" r="1.7"/>
<circle cx="361.38" cy="469" r="1.7"/>
<circle cx="364.9" cy="469.5" r="1.7"/>
<circle cx="368.42" cy="470.33" r="1.7"/>
<circle cx="371.94" cy="471.49" r="1.7"/>
<circle cx="375.47" cy="472.89" r="1.7"/>
<circle cx="378.99" cy="474.58" r="1.7"/>
<circle cx="382.51" cy="476.56" r="1.7"/>
<circle cx="386.03" cy="478.85" r="1.7"/>
<circle cx="389.55" cy="481.23" r="1.7"/>
<circle cx="393.08" cy="483.69" r="1.7"/>
<circle cx="396.6" cy="486.42" r="1.7"/>
<circle cx="400.12" cy="489.31" r="1.7"/>
<circle cx="403.64" cy="492.13" r="1.7"/>
<circle cx="407.17" cy="494.66" r="1.7"/>
<circle cx="410.69" cy="496.57" r="1.7"/>
<circle cx="413.62" cy="497.41" r="1.7"/>
<circle cx="414.91" cy="497.44" r="1.7"/>
<circle cx="416.2" cy="497.47" r="1.7"/>
<circle cx="417.49" cy="497.5" r="1.7"/>
<circle cx="418.78" cy="497.53" r="1.7"/>
<circle cx="420.07" cy="497.56" r="1.7"/>
<circle cx="421.36" cy="497.59" r="1.7"/>
<circle cx="422.65" cy="497.63" r="1.7"/>
<circle cx="423.94" cy="497.66" r="1.7"/>
<circle cx="425.24" cy="497.69" r="1.7"/>
</g>
<g fill="#ee9ca5">
<circle cx="287.82" cy="499.01" r="1.7"/>
<circle cx="288.31" cy="498.24" r="1.7"/>
<circle cx="288.82" cy="497.13" r="1.7"/>
<circle cx="289.37" cy="496.08" r="1.7"/>
<circle cx="289.94" cy="495.13" r="1.7"/>
<circle cx="290.56" cy="494.29" r="1.7"/>
<circle cx="291.21" cy="493.49" r="1.7"/>
<circle cx="291.9" cy="492.7" r="1.7"/>
<circle cx="292.63" cy="491.91" r="1.7"/>
<circle cx="293.4" cy="491.12" r="1.7"/>
<circle cx="294.22" cy="490.32" r="1.7"/>
<circle cx="295.09" cy="489.52" r="1.7"/>
<circle cx="296.01" cy="488.7" r="1.7"/>
<circle cx="296.99" cy="487.86" r="1.7"/>
<circle cx="298.02" cy="487.01" r="1.7"/>
<circle cx="299.12" cy="486.14" r="1.7"/>
<circle cx="300.28" cy="485.25" r="1.7"/>
<circle cx="301.52" cy="484.35" r="1.7"/>
<circle cx="302.82" cy="483.45" r="1.7"/>
<circle cx="304.21" cy="482.57" r="1.7"/>
<circle cx="305.68" cy="481.69" r="1.7"/>
<circle cx="307.24" cy="480.81" r="1.7"/>
<circle cx="308.89" cy="479.93" r="1.7"/>
<circle cx="310.64" cy="479.03" r="1.7"/>
<circle cx="312.49" cy="478.14" r="1.7"/>
<circle cx="314.46" cy="477.27" r="1.7"/>
<circle cx="316.54" cy="476.42" r="1.7"/>
<circle cx="318.75" cy="475.57" r="1.7"/>
<circle cx="321.09" cy="474.74" r="1.7"/>
<circle cx="323.57" cy="474.02" r="1.7"/>
<circle cx="326.2" cy="473.36" r="1.7"/>
<circle cx="328.99" cy="472.72" r="1.7"/>
<circle cx="331.94" cy="472.11" r="1.7"/>
<circle cx="335.08" cy="471.56" r="1.7"/>
<circle cx="338.4" cy="471.11" r="1.7"/>
<circle cx="341.8" cy="470.78" r="1.7"/>
<circle cx="345.2" cy="470.58" r="1.7"/>
<circle cx="348.59" cy="470.5" r="1.7"/>
<circle cx="351.99" cy="470.55" r="1.7"/>
<circle cx="355.39" cy="470.71" r="1.7"/>
<circle cx="358.79" cy="471" r="1.7"/>
<circle cx="362.19" cy="471.47" r="1.7"/>
<circle cx="365.58" cy="472.25" r="1.7"/>
<circle cx="368.98" cy="473.33" r="1.7"/>
<circle cx="372.38" cy="474.64" r="1.7"/>
<circle cx="375.78" cy="476.21" r="1.7"/>
<circle cx="379.18" cy="478.06" r="1.7"/>
<circle cx="382.58" cy="480.2" r="1.7"/>
<circle cx="385.97" cy="482.42" r="1.7"/>
<circle cx="389.37" cy="484.72" r="1.7"/>
<circle cx="392.77" cy="487.27" r="1.7"/>
<circle cx="396.17" cy="489.97" r="1.7"/>
<circle cx="399.57" cy="492.6" r="1.7"/>
<circle cx="402.97" cy="494.96" r="1.7"/>
<circle cx="406.36" cy="496.75" r="1.7"/>
<circle cx="409.19" cy="497.41" r="1.7"/>
<circle cx="410.48" cy="497.44" r="1.7"/>
<circle cx="411.77" cy="497.48" r="1.7"/>
<circle cx="413.06" cy="497.51" r="1.7"/>
<circle cx="414.35" cy="497.55" r="1.7"/>
<circle cx="415.64" cy="497.58" r="1.7"/>
<circle cx="416.94" cy="497.62" r="1.7"/>
<circle cx="418.23" cy="497.65" r="1.7"/>
<circle cx="419.52" cy="497.69" r="1.7"/>
</g>
<g fill="#f1b2b9">
<circle cx="288.19" cy="499.01" r="1.7"/>
<circle cx="288.58" cy="498.41" r="1.7"/>
<circle cx="288.99" cy="497.48" r="1.7"/>
<circle cx="289.43" cy="496.6" r="1.7"/>
<circle cx="289.9" cy="495.8" r="1.7"/>
<circle cx="290.39" cy="495.1" r="1.7"/>
<circle cx="290.92" cy="494.43" r="1.7"/>
<circle cx="291.47" cy="493.77" r="1.7"/>
<circle cx="292.06" cy="493.11" r="1.7"/>
<circle cx="292.68" cy="492.44" r="1.7"/>
<circle cx="293.34" cy="491.77" r="1.7"/>
<circle cx="294.04" cy="491.1" r="1.7"/>
<circle cx="294.79" cy="490.41" r="1.7"/>
<circle cx="295.57" cy="489.71" r="1.7"/>
<circle cx="296.41" cy="489" r="1.7"/>
<circle cx="297.29" cy="488.27" r="1.7"/>
<circle cx="298.23" cy="487.52" r="1.7"/>
<circle cx="299.22" cy="486.77" r="1.7"/>
<circle cx="300.27" cy="486.02" r="1.7"/>
<circle cx="301.39" cy="485.27" r="1.7"/>
<circle cx="302.57" cy="484.53" r="1.7"/>
<circle cx="303.83" cy="483.8" r="1.7"/>
<circle cx="305.16" cy="483.06" r="1.7"/>
<circle cx="306.57" cy="482.31" r="1.7"/>
<circle cx="308.06" cy="481.56" r="1.7"/>
<circle cx="309.64" cy="480.83" r="1.7"/>
<circle cx="311.32" cy="480.12" r="1.7"/>
<circle cx="313.1" cy="479.4" r="1.7"/>
<circle cx="314.99" cy="478.71" r="1.7"/>
<circle cx="316.98" cy="478.1" r="1.7"/>
<circle cx="319.1" cy="477.55" r="1.7"/>
<circle cx="321.35" cy="477.02" r="1.7"/>
<circle cx="323.73" cy="476.51" r="1.7"/>
<circle cx="326.25" cy="476.04" r="1.7"/>
<circle cx="328.93" cy="475.67" r="1.7"/>
<circle cx="331.67" cy="475.39" r="1.7"/>
<circle cx="334.4" cy="475.22" r="1.7"/>
<circle cx="337.14" cy="475.16" r="1.7"/>
<circle cx="339.88" cy="475.19" r="1.7"/>
<circle cx="342.61" cy="475.33" r="1.7"/>
<circle cx="345.35" cy="475.57" r="1.7"/>
<circle cx="348.09" cy="475.97" r="1.7"/>
<circle cx="350.83" cy="476.62" r="1.7"/>
<circle cx="353.56" cy="477.53" r="1.7"/>
<circle cx="356.3" cy="478.62" r="1.7"/>
<circle cx="359.04" cy="479.95" r="1.7"/>
<circle cx="361.78" cy="481.49" r="1.7"/>
<circle cx="364.51" cy="483.29" r="1.7"/>
<circle cx="367.25" cy="485.15" r="1.7"/>
<circle cx="369.99" cy="487.08" r="1.7"/>
<circle cx="372.72" cy="489.21" r="1.7"/>
<circle cx="375.46" cy="491.48" r="1.7"/>
<circle cx="378.2" cy="493.69" r="1.7"/>
<circle cx="380.94" cy="495.66" r="1.7"/>
<circle cx="383.67" cy="497.17" r="1.7"/>
<circle cx="385.95" cy="497.41" r="1.7"/>
<circle cx="387.24" cy="497.47" r="1.7"/>
<circle cx="388.53" cy="497.52" r="1.7"/>
<circle cx="389.82" cy="497.58" r="1.7"/>
<circle cx="391.11" cy="497.64" r="1.7"/>
</g>
<g fill="#f3c0c6">
<circle cx="288.56" cy="499.01" r="1.7"/>
<circle cx="288.86" cy="498.61" r="1.7"/>
<circle cx="289.17" cy="497.87" r="1.7"/>
<circle cx="289.51" cy="497.18" r="1.7"/>
<circle cx="289.87" cy="496.56" r="1.7"/>
<circle cx="290.25" cy="496.01" r="1.7"/>
<circle cx="290.65" cy="495.49" r="1.7"/>
<circle cx="291.07" cy="494.97" r="1.7"/>
<circle cx="291.52" cy="494.45" r="1.7"/>
<circle cx="292" cy="493.93" r="1.7"/>
<circle cx="292.51" cy="493.41" r="1.7"/>
<circle cx="293.04" cy="492.88" r="1.7"/>
<circle cx="293.61" cy="492.34" r="1.7"/>
<circle cx="294.21" cy="491.79" r="1.7"/>
<circle cx="294.85" cy="491.23" r="1.7"/>
<circle cx="295.53" cy="490.66" r="1.7"/>
<circle cx="296.25" cy="490.08" r="1.7"/>
<circle cx="297.01" cy="489.49" r="1.7"/>
<circle cx="297.82" cy="488.9" r="1.7"/>
<circle cx="298.67" cy="488.31" r="1.7"/>
<circle cx="299.58" cy="487.74" r="1.7"/>
<circle cx="300.54" cy="487.16" r="1.7"/>
<circle cx="301.56" cy="486.58" r="1.7"/>
<circle cx="302.64" cy="485.99" r="1.7"/>
<circle cx="303.78" cy="485.41" r="1.7"/>
<circle cx="304.99" cy="484.84" r="1.7"/>
<circle cx="306.28" cy="484.28" r="1.7"/>
<circle cx="307.64" cy="483.72" r="1.7"/>
<circle cx="309.09" cy="483.18" r="1.7"/>
<circle cx="310.62" cy="482.7" r="1.7"/>
<circle cx="312.24" cy="482.27" r="1.7"/>
<circle cx="313.96" cy="481.85" r="1.7"/>
<circle cx="315.78" cy="481.45" r="1.7"/>
<circle cx="317.72" cy="481.08" r="1.7"/>
<circle cx="319.77" cy="480.79" r="1.7"/>
<circle cx="321.86" cy="480.58" r="1.7"/>
<circle cx="323.96" cy="480.44" r="1.7"/>
<circle cx="326.06" cy="480.39" r="1.7"/>
<circle cx="328.15" cy="480.42" r="1.7"/>
<circle cx="330.25" cy="480.53" r="1.7"/>
<circle cx="332.35" cy="480.72" r="1.7"/>
<circle cx="334.44" cy="481.03" r="1.7"/>
<circle cx="336.54" cy="481.54" r="1.7"/>
<circle cx="338.64" cy="482.25" r="1.7"/>
<circle cx="340.73" cy="483.11" r="1.7"/>
<circle cx="342.83" cy="484.14" r="1.7"/>
<circle cx="344.93" cy="485.36" r="1.7"/>
<circle cx="347.02" cy="486.76" r="1.7"/>
<circle cx="349.12" cy="488.22" r="1.7"/>
<circle cx="351.22" cy="489.73" r="1.7"/>
<circle cx="353.32" cy="491.4" r="1.7"/>
<circle cx="355.41" cy="493.17" r="1.7"/>
<circle cx="357.51" cy="494.9" r="1.7"/>
<circle cx="359.61" cy="496.45" r="1.7"/>
<circle cx="361.7" cy="497.41" r="1.7"/>
<circle cx="363.44" cy="497.41" r="1.7"/>
<circle cx="364.74" cy="497.44" r="1.7"/>
<circle cx="366.03" cy="497.47" r="1.7"/>
<circle cx="367.32" cy="497.5" r="1.7"/>
<circle cx="368.61" cy="497.53" r="1.7"/>
<circle cx="369.9" cy="497.56" r="1.7"/>
<circle cx="371.19" cy="497.59" r="1.7"/>
<circle cx="372.48" cy="497.62" r="1.7"/>
<circle cx="373.77" cy="497.65" r="1.7"/>
<circle cx="375.06" cy="497.68" r="1.7"/>
</g>
<g fill="#f4c6cb">
<circle cx="288.93" cy="499.01" r="1.7"/>
<circle cx="289.2" cy="498.65" r="1.7"/>
<circle cx="289.49" cy="497.96" r="1.7"/>
<circle cx="289.79" cy="497.31" r="1.7"/>
<circle cx="290.11" cy="496.73" r="1.7"/>
<circle cx="290.46" cy="496.21" r="1.7"/>
<circle cx="290.82" cy="495.72" r="1.7"/>
<circle cx="291.21" cy="495.23" r="1.7"/>
<circle cx="291.61" cy="494.75" r="1.7"/>
<circle cx="292.05" cy="494.26" r="1.7"/>
<circle cx="292.51" cy="493.77" r="1.7"/>
<circle cx="292.99" cy="493.27" r="1.7"/>
<circle cx="293.51" cy="492.77" r="1.7"/>
<circle cx="294.05" cy="492.25" r="1.7"/>
<circle cx="294.63" cy="491.73" r="1.7"/>
<circle cx="295.25" cy="491.19" r="1.7"/>
<circle cx="295.9" cy="490.65" r="1.7"/>
<circle cx="296.59" cy="490.09" r="1.7"/>
<circle cx="297.32" cy="489.54" r="1.7"/>
<circle cx="298.09" cy="488.99" r="1.7"/>
<circle cx="298.91" cy="488.45" r="1.7"/>
<circle cx="299.79" cy="487.91" r="1.7"/>
<circle cx="300.71" cy="487.36" r="1.7"/>
<circle cx="301.69" cy="486.81" r="1.7"/>
<circle cx="302.72" cy="486.26" r="1.7"/>
<circle cx="303.82" cy="485.73" r="1.7"/>
<circle cx="304.99" cy="485.2" r="1.7"/>
<circle cx="306.22" cy="484.68" r="1.7"/>
<circle cx="307.53" cy="484.17" r="1.7"/>
<circle cx="308.92" cy="483.72" r="1.7"/>
<circle cx="310.39" cy="483.32" r="1.7"/>
<circle cx="311.95" cy="482.92" r="1.7"/>
<circle cx="313.6" cy="482.55" r="1.7"/>
<circle cx="315.36" cy="482.21" r="1.7"/>
<circle cx="317.21" cy="481.93" r="1.7"/>
<circle cx="319.11" cy="481.73" r="1.7"/>
<circle cx="321.01" cy="481.6" r="1.7"/>
<circle cx="322.92" cy="481.56" r="1.7"/>
<circle cx="324.82" cy="481.58" r="1.7"/>
<circle cx="326.72" cy="481.68" r="1.7"/>
<circle cx="328.62" cy="481.86" r="1.7"/>
<circle cx="330.52" cy="482.15" r="1.7"/>
<circle cx="332.42" cy="482.63" r="1.7"/>
<circle cx="334.32" cy="483.3" r="1.7"/>
<circle cx="336.22" cy="484.1" r="1.7"/>
<circle cx="338.12" cy="485.08" r="1.7"/>
<circle cx="340.02" cy="486.21" r="1.7"/>
<circle cx="341.92" cy="487.53" r="1.7"/>
<circle cx="343.82" cy="488.9" r="1.7"/>
<circle cx="345.72" cy="490.32" r="1.7"/>
<circle cx="347.62" cy="491.89" r="1.7"/>
<circle cx="349.52" cy="493.55" r="1.7"/>
<circle cx="351.42" cy="495.17" r="1.7"/>
<circle cx="353.32" cy="496.63" r="1.7"/>
<circle cx="355.23" cy="497.41" r="1.7"/>
<circle cx="356.8" cy="497.41" r="1.7"/>
<circle cx="358.1" cy="497.46" r="1.7"/>
<circle cx="359.39" cy="497.51" r="1.7"/>
<circle cx="360.68" cy="497.55" r="1.7"/>
<circle cx="361.97" cy="497.6" r="1.7"/>
<circle cx="363.26" cy="497.65" r="1.7"/>
</g>
<line x1="284.5" y1="368.4" x2="450.5" y2="368.4" stroke="#4c4c4c" stroke-width="1.0" />
<line x1="450.5" y1="368.4" x2="450.5" y2="499.3" stroke="#4c4c4c" stroke-width="1.0" />
<line x1="284.5" y1="368.4" x2="284.5" y2="499.3" stroke="#4c4c4c" stroke-width="1.0" />
<line x1="284.5" y1="499.3" x2="450.5" y2="499.3" stroke="#4c4c4c" stroke-width="1.0" />
<line x1="281.3" y1="499.3" x2="284.5" y2="499.3" stroke="#555" stroke-width="0.8" />
<text x="279.5" y="502.8" font-size="10.0" text-anchor="end" fill="#000" >0</text>
<line x1="284.5" y1="499.3" x2="284.5" y2="502.5" stroke="#555" stroke-width="0.8" />
<text x="284.5" y="511.8" font-size="10.0" text-anchor="middle" fill="#000" >0</text>
<line x1="281.3" y1="470.21" x2="284.5" y2="470.21" stroke="#555" stroke-width="0.8" />
<text x="279.5" y="473.71" font-size="10.0" text-anchor="end" fill="#000" >100</text>
<line x1="321.39" y1="499.3" x2="321.39" y2="502.5" stroke="#555" stroke-width="0.8" />
<text x="321.39" y="511.8" font-size="10.0" text-anchor="middle" fill="#000" >100</text>
<line x1="281.3" y1="441.12" x2="284.5" y2="441.12" stroke="#555" stroke-width="0.8" />
<text x="279.5" y="444.62" font-size="10.0" text-anchor="end" fill="#000" >200</text>
<line x1="358.28" y1="499.3" x2="358.28" y2="502.5" stroke="#555" stroke-width="0.8" />
<text x="358.28" y="511.8" font-size="10.0" text-anchor="middle" fill="#000" >200</text>
<line x1="281.3" y1="412.03" x2="284.5" y2="412.03" stroke="#555" stroke-width="0.8" />
<text x="279.5" y="415.53" font-size="10.0" text-anchor="end" fill="#000" >300</text>
<line x1="395.17" y1="499.3" x2="395.17" y2="502.5" stroke="#555" stroke-width="0.8" />
<text x="395.17" y="511.8" font-size="10.0" text-anchor="middle" fill="#000" >300</text>
<line x1="281.3" y1="382.94" x2="284.5" y2="382.94" stroke="#555" stroke-width="0.8" />
<text x="279.5" y="386.44" font-size="10.0" text-anchor="end" fill="#000" >400</text>
<line x1="432.06" y1="499.3" x2="432.06" y2="502.5" stroke="#555" stroke-width="0.8" />
<text x="432.06" y="511.8" font-size="10.0" text-anchor="middle" fill="#000" >400</text>
<line x1="282.7" y1="484.75" x2="284.5" y2="484.75" stroke="#555" stroke-width="0.8" />
<line x1="302.94" y1="499.3" x2="302.94" y2="501.1" stroke="#555" stroke-width="0.8" />
<line x1="282.7" y1="455.67" x2="284.5" y2="455.67" stroke="#555" stroke-width="0.8" />
<line x1="339.83" y1="499.3" x2="339.83" y2="501.1" stroke="#555" stroke-width="0.8" />
<line x1="282.7" y1="426.58" x2="284.5" y2="426.58" stroke="#555" stroke-width="0.8" />
<line x1="376.73" y1="499.3" x2="376.73" y2="501.1" stroke="#555" stroke-width="0.8" />
<line x1="282.7" y1="397.49" x2="284.5" y2="397.49" stroke="#555" stroke-width="0.8" />
<line x1="413.62" y1="499.3" x2="413.62" y2="501.1" stroke="#555" stroke-width="0.8" />
<line x1="450.5" y1="499.3" x2="450.5" y2="501.1" stroke="#555" stroke-width="0.8" />
<text x="367.6" y="528.6" font-size="12.0" text-anchor="middle" fill="#000" >Z' (ohm)</text>
<text x="259.6" y="434" font-size="12.2" text-anchor="middle" fill="#000" transform="rotate(-90 259.6 434)" >-Z'' (ohm)</text>
<text x="416.2" y="395" font-size="11.8" text-anchor="middle" fill="#000" >Initial</text>
<text x="416.6" y="466.6" font-size="11.8" text-anchor="middle" fill="#000" >100cycles</text>
<text x="252.2" y="374.6" font-size="17.5" text-anchor="start" fill="#000" >f</text>
<clipPath id="cg"><rect x="517.7" y="372.4" width="159.69999999999993" height="130.0"/></clipPath>
<polyline points="516.1,406.78 517.16,406.93 518.57,407.14 520.25,407.38 522.12,407.65 524.08,407.93 526.05,408.23 527.95,408.52 529.68,408.8 531.29,409.07 532.87,409.34 534.44,409.61 535.99,409.88 537.52,410.17 539.04,410.47 540.55,410.78 542.05,411.11 543.54,411.46 545,411.83 546.44,412.2 547.87,412.59 549.3,413 550.73,413.41 552.17,413.85 553.63,414.29 555.14,414.76 556.69,415.25 558.27,415.77 559.85,416.29 561.39,416.82 562.89,417.34 564.3,417.85 565.61,418.34 566.81,418.8 567.93,419.24 568.98,419.68 569.98,420.1 570.92,420.53 571.83,420.95 572.72,421.37 573.59,421.8 574.44,422.23 575.25,422.66 576.02,423.08 576.76,423.5 577.48,423.93 578.19,424.36 578.89,424.81 579.58,425.27 580.28,425.74 580.96,426.23 581.64,426.72 582.3,427.22 582.94,427.73 583.57,428.25 584.18,428.78 584.77,429.31 585.35,429.86 585.91,430.43 586.46,431 586.99,431.59 587.5,432.18 587.98,432.77 588.45,433.35 588.89,433.94 589.29,434.51 589.67,435.07 590.02,435.63 590.36,436.19 590.67,436.76 590.97,437.34 591.27,437.94 591.56,438.56 591.85,439.2 592.12,439.86 592.39,440.54 592.64,441.23 592.88,441.93 593.12,442.63 593.34,443.34 593.56,444.05 593.76,444.75 593.96,445.44 594.14,446.13 594.32,446.83 594.49,447.54 594.65,448.27 594.8,449.03 594.95,449.83 595.1,450.65 595.24,451.48 595.37,452.34 595.49,453.22 595.61,454.13 595.73,455.07 595.84,456.04 595.95,457.05 596.06,458.08 596.17,459.13 596.28,460.2 596.38,461.31 596.48,462.46 596.58,463.67 596.67,464.94 596.75,466.29 596.83,467.7 596.9,469.14 596.97,470.64 597.03,472.2 597.08,473.83 597.14,475.55 597.18,477.37 597.23,479.29 597.27,481.49 597.31,484.02 597.34,486.74 597.37,489.49 597.4,492.15 597.42,494.56 597.45,496.58 597.47,498.07 597.49,499.1 597.51,499.83 597.53,500.27 597.55,500.42 597.57,500.27 597.59,499.83 597.61,499.1 597.63,498.07 597.65,496.59 597.68,494.6 597.7,492.21 597.73,489.59 597.76,486.84 597.79,484.12 597.83,481.56 597.87,479.29 597.92,477.23 597.97,475.22 598.04,473.27 598.1,471.38 598.16,469.59 598.23,467.89 598.29,466.31 598.35,464.85 598.4,463.55 598.44,462.42 598.48,461.41 598.52,460.5 598.56,459.64 598.61,458.8 598.67,457.95 598.75,457.05 598.84,456.11 598.95,455.17 599.06,454.23 599.18,453.31 599.32,452.4 599.45,451.52 599.6,450.65 599.75,449.83 599.9,449.03 600.05,448.27 600.21,447.54 600.38,446.83 600.56,446.13 600.74,445.44 600.94,444.75 601.14,444.05 601.36,443.34 601.59,442.63 601.82,441.93 602.07,441.23 602.32,440.54 602.58,439.86 602.86,439.2 603.14,438.56 603.42,437.94 603.71,437.34 604,436.76 604.3,436.19 604.62,435.63 604.96,435.07 605.33,434.51 605.73,433.94 606.18,433.35 606.65,432.77 607.15,432.18 607.67,431.59 608.21,431 608.77,430.43 609.34,429.86 609.93,429.31 610.52,428.78 611.13,428.25 611.75,427.74 612.38,427.24 613.04,426.74 613.71,426.25 614.4,425.76 615.12,425.27 615.85,424.78 616.61,424.3 617.39,423.81 618.19,423.34 619,422.87 619.82,422.4 620.66,421.95 621.5,421.51 622.34,421.09 623.16,420.68 623.98,420.29 624.82,419.91 625.7,419.52 626.62,419.14 627.62,418.74 628.69,418.34 629.85,417.91 631.09,417.48 632.38,417.03 633.73,416.58 635.12,416.14 636.55,415.7 638,415.28 639.47,414.87 640.97,414.47 642.52,414.09 644.1,413.7 645.71,413.33 647.34,412.97 648.98,412.63 650.62,412.3 652.25,411.98 653.87,411.68 655.5,411.41 657.14,411.14 658.78,410.9 660.43,410.66 662.09,410.42 663.75,410.19 665.42,409.96 667.19,409.71 669.11,409.46 671.08,409.21 673.03,408.96 674.88,408.73 676.55,408.53 677.95,408.36 679,408.22" fill="none" stroke="#5e9bee" stroke-width="0.8" stroke-linejoin="round" clip-path="url(#cg)"/>
<polyline points="516.1,396.52 517.16,396.57 518.57,396.64 520.25,396.71 522.12,396.79 524.08,396.89 526.05,397 527.95,397.12 529.68,397.25 531.29,397.38 532.87,397.53 534.44,397.68 535.99,397.85 537.52,398.03 539.04,398.23 540.55,398.45 542.05,398.69 543.54,398.95 545,399.22 546.44,399.52 547.87,399.83 549.3,400.16 550.73,400.51 552.17,400.89 553.63,401.29 555.14,401.73 556.69,402.21 558.27,402.71 559.85,403.24 561.39,403.78 562.89,404.31 564.3,404.83 565.61,405.33 566.81,405.81 567.93,406.28 568.98,406.74 569.98,407.19 570.92,407.65 571.83,408.12 572.72,408.6 573.59,409.09 574.44,409.6 575.25,410.12 576.02,410.65 576.76,411.18 577.48,411.73 578.19,412.29 578.89,412.85 579.58,413.42 580.28,414 580.96,414.59 581.64,415.19 582.3,415.79 582.94,416.4 583.57,417.03 584.18,417.68 584.77,418.34 585.35,419.02 585.91,419.73 586.46,420.46 586.99,421.21 587.5,421.95 587.98,422.69 588.45,423.41 588.89,424.11 589.29,424.78 589.67,425.42 590.02,426.04 590.36,426.66 590.67,427.28 590.97,427.93 591.27,428.6 591.56,429.31 591.85,430.08 592.12,430.88 592.39,431.71 592.64,432.56 592.88,433.42 593.12,434.28 593.34,435.13 593.56,435.96 593.76,436.76 593.96,437.53 594.14,438.3 594.32,439.06 594.49,439.84 594.65,440.63 594.8,441.45 594.95,442.31 595.1,443.21 595.24,444.14 595.37,445.08 595.49,446.05 595.61,447.04 595.73,448.05 595.84,449.07 595.95,450.11 596.06,451.14 596.17,452.14 596.27,453.15 596.37,454.18 596.47,455.26 596.57,456.42 596.66,457.68 596.75,459.07 596.84,460.71 596.93,462.63 597.02,464.72 597.1,466.85 597.18,468.91 597.26,470.79 597.33,472.36 597.39,473.51 597.44,474.3 597.49,474.87 597.52,475.21 597.55,475.32 597.58,475.21 597.61,474.87 597.66,474.3 597.71,473.51 597.77,472.36 597.84,470.79 597.91,468.91 597.98,466.85 598.06,464.72 598.15,462.63 598.25,460.71 598.35,459.07 598.46,457.67 598.59,456.4 598.73,455.22 598.87,454.12 599.01,453.08 599.16,452.08 599.3,451.1 599.43,450.11 599.55,449.15 599.66,448.25 599.76,447.38 599.87,446.54 599.97,445.71 600.09,444.89 600.21,444.05 600.34,443.18 600.49,442.29 600.65,441.37 600.82,440.46 600.99,439.53 601.17,438.62 601.35,437.71 601.55,436.82 601.74,435.96 601.94,435.12 602.15,434.29 602.37,433.47 602.59,432.67 602.82,431.88 603.05,431.11 603.29,430.35 603.54,429.6 603.78,428.88 604.01,428.18 604.25,427.49 604.49,426.82 604.75,426.15 605.04,425.49 605.36,424.81 605.73,424.11 606.16,423.4 606.63,422.67 607.13,421.93 607.67,421.19 608.22,420.45 608.79,419.73 609.36,419.02 609.93,418.34 610.49,417.67 611.05,417.03 611.63,416.39 612.21,415.77 612.81,415.16 613.42,414.57 614.06,413.99 614.72,413.42 615.4,412.88 616.08,412.35 616.79,411.84 617.51,411.35 618.26,410.86 619.04,410.37 619.85,409.88 620.71,409.38 621.59,408.87 622.5,408.37 623.43,407.86 624.4,407.36 625.4,406.85 626.45,406.35 627.55,405.84 628.69,405.33 629.89,404.82 631.14,404.3 632.44,403.77 633.78,403.24 635.16,402.72 636.57,402.22 638.01,401.74 639.47,401.29 640.97,400.88 642.52,400.49 644.1,400.13 645.71,399.79 647.34,399.45 648.98,399.12 650.62,398.77 652.25,398.4 653.87,398.02 655.5,397.62 657.14,397.22 658.78,396.81 660.43,396.41 662.09,396 663.75,395.61 665.42,395.22 667.19,394.83 669.11,394.41 671.08,393.99 673.03,393.58 674.88,393.19 676.55,392.85 677.95,392.56 679,392.33" fill="none" stroke="#e4636f" stroke-width="0.8" stroke-linejoin="round" clip-path="url(#cg)"/>
<polyline points="542.05,398.4 597.55,412.85 654.24,396.67" fill="none" stroke="#8a7be8" stroke-width="0.7" stroke-linejoin="round" stroke-dasharray="1.2 1.2"/>
<polyline points="546.85,411.98 597.55,427.58 649.45,412.27" fill="none" stroke="#f0b27a" stroke-width="0.7" stroke-linejoin="round" stroke-dasharray="1.2 1.2"/>
<line x1="597.55" y1="372.4" x2="597.55" y2="502.4" stroke="#333" stroke-width="0.6" stroke-dasharray="1.2 1"/>
<line x1="517.7" y1="372.4" x2="677.4" y2="372.4" stroke="#4c4c4c" stroke-width="1.0" />
<line x1="677.4" y1="372.4" x2="677.4" y2="502.4" stroke="#4c4c4c" stroke-width="1.0" />
<line x1="517.7" y1="372.4" x2="517.7" y2="502.4" stroke="#4c4c4c" stroke-width="1.0" />
<line x1="517.7" y1="502.4" x2="677.4" y2="502.4" stroke="#4c4c4c" stroke-width="1.0" />
<line x1="514.5" y1="372.4" x2="517.7" y2="372.4" stroke="#555" stroke-width="0.8" />
<text x="512.7" y="376" font-size="10.2" text-anchor="end" fill="#000" >−2</text>
<line x1="514.5" y1="401.29" x2="517.7" y2="401.29" stroke="#555" stroke-width="0.8" />
<text x="512.7" y="404.89" font-size="10.2" text-anchor="end" fill="#000" >−3</text>
<line x1="514.5" y1="430.18" x2="517.7" y2="430.18" stroke="#555" stroke-width="0.8" />
<text x="512.7" y="433.78" font-size="10.2" text-anchor="end" fill="#000" >−4</text>
<line x1="514.5" y1="459.07" x2="517.7" y2="459.07" stroke="#555" stroke-width="0.8" />
<text x="512.7" y="462.67" font-size="10.2" text-anchor="end" fill="#000" >−5</text>
<line x1="514.5" y1="487.96" x2="517.7" y2="487.96" stroke="#555" stroke-width="0.8" />
<text x="512.7" y="491.56" font-size="10.2" text-anchor="end" fill="#000" >−6</text>
<line x1="515.9" y1="386.84" x2="517.7" y2="386.84" stroke="#555" stroke-width="0.8" />
<line x1="515.9" y1="415.73" x2="517.7" y2="415.73" stroke="#555" stroke-width="0.8" />
<line x1="515.9" y1="444.62" x2="517.7" y2="444.62" stroke="#555" stroke-width="0.8" />
<line x1="515.9" y1="473.51" x2="517.7" y2="473.51" stroke="#555" stroke-width="0.8" />
<line x1="515.9" y1="502.4" x2="517.7" y2="502.4" stroke="#555" stroke-width="0.8" />
<line x1="517.7" y1="502.4" x2="517.7" y2="505.6" stroke="#555" stroke-width="0.8" />
<text x="516.1" y="515.2" font-size="10.2" text-anchor="middle" fill="#000" >−0.2</text>
<line x1="557.62" y1="502.4" x2="557.62" y2="505.6" stroke="#555" stroke-width="0.8" />
<text x="556.02" y="515.2" font-size="10.2" text-anchor="middle" fill="#000" >−0.1</text>
<line x1="597.55" y1="502.4" x2="597.55" y2="505.6" stroke="#555" stroke-width="0.8" />
<text x="597.55" y="515.2" font-size="10.2" text-anchor="middle" fill="#000" >0.0</text>
<line x1="637.47" y1="502.4" x2="637.47" y2="505.6" stroke="#555" stroke-width="0.8" />
<text x="637.47" y="515.2" font-size="10.2" text-anchor="middle" fill="#000" >0.1</text>
<line x1="677.4" y1="502.4" x2="677.4" y2="505.6" stroke="#555" stroke-width="0.8" />
<text x="677.4" y="515.2" font-size="10.2" text-anchor="middle" fill="#000" >0.2</text>
<line x1="537.66" y1="502.4" x2="537.66" y2="504.2" stroke="#555" stroke-width="0.8" />
<line x1="577.59" y1="502.4" x2="577.59" y2="504.2" stroke="#555" stroke-width="0.8" />
<line x1="617.51" y1="502.4" x2="617.51" y2="504.2" stroke="#555" stroke-width="0.8" />
<line x1="657.44" y1="502.4" x2="657.44" y2="504.2" stroke="#555" stroke-width="0.8" />
<text x="597.8" y="525.6" font-size="10.7" text-anchor="middle" fill="#000" >Voltage (V)</text>
<text x="497.4" y="437.5" font-size="10.7" text-anchor="middle" fill="#000" transform="rotate(-90 497.4 437.5)" >Log current (A cm<tspan dy="-3.85" font-size="6.63">-2</tspan><tspan dy="3.85" font-size="10.7">​</tspan>)</text>
<line x1="520.6" y1="485.2" x2="540.6" y2="485.2" stroke="#5e9bee" stroke-width="0.9" />
<line x1="520.6" y1="496" x2="540.6" y2="496" stroke="#e4636f" stroke-width="0.9" />
<text x="543.4" y="488.6" font-size="9.2" text-anchor="start" fill="#000" >PDE</text>
<text x="543.4" y="499.4" font-size="9.2" text-anchor="start" fill="#000" >PVM-GPE</text>
<text x="623" y="483.2" font-size="9.2" text-anchor="start" fill="#e4636f" >0.41 mA cm<tspan dy="-3.31" font-size="5.7">-2</tspan><tspan dy="3.31" font-size="9.2">​</tspan></text>
<text x="623" y="498.3" font-size="9.2" text-anchor="start" fill="#5e9bee" >0.12 mA cm<tspan dy="-3.31" font-size="5.7">-2</tspan><tspan dy="3.31" font-size="9.2">​</tspan></text>
<text x="472.6" y="374.3" font-size="17.5" text-anchor="start" fill="#000" >g</text>
<rect x="21.0" y="537.0" width="25.4" height="112.8" fill="#ee9599"/>
<rect x="21.0" y="655.9" width="25.4" height="111.2" fill="#92bcee"/>
<text transform="translate(38.2 593.5) rotate(-90) scale(1 1.13)" font-size="15.3" text-anchor="middle" fill="#111">PVM-GPE</text>
<text transform="translate(41.2 709.2) rotate(-90) scale(1 1.1)" font-size="14.5" text-anchor="middle" fill="#111">PDE</text>
<clipPath id="s00"><rect x="51.7" y="537" width="148.2" height="110.9"/></clipPath>
<g clip-path="url(#s00)">
<rect x="51.7" y="537" width="148.2" height="110.9" fill="#414141"/>
<filter id="s00d" x="0" y="0" width="100%" height="100%" color-interpolation-filters="sRGB"><feTurbulence type="fractalNoise" baseFrequency="0.04" numOctaves="2" seed="11"/><feColorMatrix type="matrix" values="0 0 0 0 0.078  0 0 0 0 0.078  0 0 0 0 0.078  3.0 0 0 0 -1.42"/></filter>
<filter id="s00r" x="0" y="0" width="100%" height="100%" color-interpolation-filters="sRGB"><feTurbulence type="turbulence" baseFrequency="0.058" numOctaves="1" seed="12"/><feColorMatrix type="matrix" values="0 0 0 0 0.843  0 0 0 0 0.843  0 0 0 0 0.843  -20 0 0 0 0.8"/><feGaussianBlur stdDeviation="0.55"/></filter>
<filter id="s00q" x="0" y="0" width="100%" height="100%" color-interpolation-filters="sRGB"><feTurbulence type="turbulence" baseFrequency="0.09280000000000001" numOctaves="2" seed="16"/><feColorMatrix type="matrix" values="0 0 0 0 0.745  0 0 0 0 0.745  0 0 0 0 0.745  -14 0 0 0 0.5"/><feGaussianBlur stdDeviation="0.5"/></filter>
<filter id="s00g" x="0" y="0" width="100%" height="100%" color-interpolation-filters="sRGB"><feTurbulence type="fractalNoise" baseFrequency="0.4" numOctaves="2" seed="13"/><feColorMatrix type="matrix" values="0 0 0 0 0.588  0 0 0 0 0.588  0 0 0 0 0.588  1.6 0 0 0 -0.64"/><feGaussianBlur stdDeviation="0.4"/></filter>
<filter id="s00w" x="0" y="0" width="100%" height="100%" color-interpolation-filters="sRGB"><feTurbulence type="turbulence" baseFrequency="0.058" numOctaves="1" seed="12"/><feColorMatrix type="matrix" values="0 0 0 0 0.784  0 0 0 0 0.784  0 0 0 0 0.784  -9 0 0 0 0.8"/><feGaussianBlur stdDeviation="1.3"/></filter>
<rect x="51.7" y="537" width="148.2" height="110.9" filter="url(#s00d)" opacity="0.7"/>
<rect x="51.7" y="537" width="148.2" height="110.9" filter="url(#s00w)" opacity="0.2"/>
<rect x="51.7" y="537" width="148.2" height="110.9" filter="url(#s00r)" opacity="0.42"/>
<rect x="51.7" y="537" width="148.2" height="110.9" filter="url(#s00q)" opacity="0.19"/>
<rect x="51.7" y="537" width="148.2" height="110.9" filter="url(#s00g)" opacity="0.28"/>
</g>
<text x="57" y="548.7" font-size="12.1" text-anchor="start" fill="#f2f2f2" >Li-Cu-0.5mA cm<tspan dy="-4.36" font-size="7.5">-2</tspan><tspan dy="4.36" font-size="12.1">​</tspan></text>
<rect x="184" y="642.8" width="13.7" height="2.7" fill="#fff"/>
<text x="198.9" y="638.5" font-size="10.1" text-anchor="end" fill="#f2f2f2" >10μm</text>
<clipPath id="s01"><rect x="210.6" y="537" width="148.3" height="110.9"/></clipPath>
<g clip-path="url(#s01)">
<rect x="210.6" y="537" width="148.3" height="110.9" fill="#414141"/>
<filter id="s01d" x="0" y="0" width="100%" height="100%" color-interpolation-filters="sRGB"><feTurbulence type="fractalNoise" baseFrequency="0.055" numOctaves="2" seed="23"/><feColorMatrix type="matrix" values="0 0 0 0 0.078  0 0 0 0 0.078  0 0 0 0 0.078  3.0 0 0 0 -1.42"/></filter>
<filter id="s01r" x="0" y="0" width="100%" height="100%" color-interpolation-filters="sRGB"><feTurbulence type="turbulence" baseFrequency="0.08" numOctaves="1" seed="24"/><feColorMatrix type="matrix" values="0 0 0 0 0.843  0 0 0 0 0.843  0 0 0 0 0.843  -20 0 0 0 0.8"/><feGaussianBlur stdDeviation="0.55"/></filter>
<filter id="s01q" x="0" y="0" width="100%" height="100%" color-interpolation-filters="sRGB"><feTurbulence type="turbulence" baseFrequency="0.128" numOctaves="2" seed="28"/><feColorMatrix type="matrix" values="0 0 0 0 0.745  0 0 0 0 0.745  0 0 0 0 0.745  -14 0 0 0 0.5"/><feGaussianBlur stdDeviation="0.5"/></filter>
<filter id="s01g" x="0" y="0" width="100%" height="100%" color-interpolation-filters="sRGB"><feTurbulence type="fractalNoise" baseFrequency="0.4" numOctaves="2" seed="25"/><feColorMatrix type="matrix" values="0 0 0 0 0.588  0 0 0 0 0.588  0 0 0 0 0.588  1.6 0 0 0 -0.64"/><feGaussianBlur stdDeviation="0.4"/></filter>
<filter id="s01w" x="0" y="0" width="100%" height="100%" color-interpolation-filters="sRGB"><feTurbulence type="turbulence" baseFrequency="0.08" numOctaves="1" seed="24"/><feColorMatrix type="matrix" values="0 0 0 0 0.784  0 0 0 0 0.784  0 0 0 0 0.784  -9 0 0 0 0.8"/><feGaussianBlur stdDeviation="1.3"/></filter>
<rect x="210.6" y="537" width="148.3" height="110.9" filter="url(#s01d)" opacity="0.7"/>
<rect x="210.6" y="537" width="148.3" height="110.9" filter="url(#s01w)" opacity="0.2"/>
<rect x="210.6" y="537" width="148.3" height="110.9" filter="url(#s01r)" opacity="0.45"/>
<rect x="210.6" y="537" width="148.3" height="110.9" filter="url(#s01q)" opacity="0.20"/>
<rect x="210.6" y="537" width="148.3" height="110.9" filter="url(#s01g)" opacity="0.28"/>
</g>
<text x="215.1" y="551.2" font-size="12.1" text-anchor="start" fill="#f2f2f2" >Li-Cu-1mA cm<tspan dy="-4.36" font-size="7.5">-2</tspan><tspan dy="4.36" font-size="12.1">​</tspan></text>
<rect x="341.3" y="641.1" width="12.2" height="2.7" fill="#fff"/>
<text x="356.2" y="636.3" font-size="10.1" text-anchor="end" fill="#f2f2f2" >10μm</text>
<clipPath id="s02"><rect x="371.7" y="537" width="147.3" height="110.9"/></clipPath>
<g clip-path="url(#s02)">
<rect x="371.7" y="537" width="147.3" height="110.9" fill="#3d3d3d"/>
<filter id="s02g" x="0" y="0" width="100%" height="100%" color-interpolation-filters="sRGB"><feTurbulence type="fractalNoise" baseFrequency="0.5" numOctaves="2" seed="33"/><feColorMatrix type="matrix" values="0 0 0 0 0.588  0 0 0 0 0.588  0 0 0 0 0.588  1.6 0 0 0 -0.64"/></filter>
<filter id="s02d" x="0" y="0" width="100%" height="100%" color-interpolation-filters="sRGB"><feTurbulence type="fractalNoise" baseFrequency="0.04" numOctaves="2" seed="36"/><feColorMatrix type="matrix" values="0 0 0 0 0.078  0 0 0 0 0.078  0 0 0 0 0.078  2.0 0 0 0 -0.98"/></filter>
<rect x="371.7" y="537" width="147.3" height="110.9" filter="url(#s02d)" opacity="0.3"/>
<rect x="371.7" y="537" width="147.3" height="110.9" filter="url(#s02g)" opacity="0.3"/>
<g fill="none" stroke="#5c5c5c" stroke-width="0.5" opacity="0.8"><path d="M380 590 Q420 584 470 588"/><path d="M400 566 Q440 571 500 563"/><path d="M430 600 Q460 597 492 604"/><path d="M478 545 Q480 570 476 600"/></g>
</g>
<text x="375.1" y="549.7" font-size="12.1" text-anchor="start" fill="#f2f2f2" >Li-Li-1mA cm<tspan dy="-4.36" font-size="7.5">-2</tspan><tspan dy="4.36" font-size="12.1">​</tspan></text>
<rect x="501.1" y="639.1" width="15.3" height="2.7" fill="#fff"/>
<text x="517.3" y="633.6" font-size="10.1" text-anchor="end" fill="#f2f2f2" >100μm</text>
<clipPath id="s03"><rect x="531.6" y="537" width="148" height="110.9"/></clipPath>
<g clip-path="url(#s03)">
<rect x="531.6" y="537" width="148" height="110.9" fill="#444444"/>
<linearGradient id="g03" x1="0" y1="0" x2="0" y2="1"><stop offset="0" stop-color="#484848"/><stop offset="0.6" stop-color="#3b3b3b"/><stop offset="1" stop-color="#323232"/></linearGradient>
<rect x="531.6" y="557" width="148" height="65" fill="url(#g03)"/>
<rect x="531.6" y="537" width="148" height="14.5" fill="#4d4d4d"/>
<polygon points="531.6,551 591.6,549.5 679.6,546.5 679.6,556 659.6,557.5 581.6,560 531.6,562.5" fill="#707070" />
<polygon points="531.6,551 591.6,549.5 679.6,546.5 679.6,549 591.6,552.5 531.6,554" fill="#7e7e7e" />
<polygon points="595.1,561 598.6,559 597.1,579 593.6,581" fill="#626262" />
<polygon points="531.6,621.5 679.6,619.5 679.6,647.9 531.6,647.9" fill="#272727" />
<polygon points="531.6,636 576.6,634 601.6,647.9 531.6,647.9" fill="#393939" />
<polygon points="553.6,647.9 581.6,633.9 584.6,635.9 565.6,647.9" fill="#585858" />
<polygon points="623.6,629.9 635.6,641.9 647.6,647.9 631.6,647.9" fill="#454545" />
<polygon points="631.6,647.9 647.6,638.9 679.6,635.9 679.6,647.9" fill="#3f3f3f" />
<filter id="s03g" x="0" y="0" width="100%" height="100%" color-interpolation-filters="sRGB"><feTurbulence type="fractalNoise" baseFrequency="0.5" numOctaves="2" seed="34"/><feColorMatrix type="matrix" values="0 0 0 0 0.588  0 0 0 0 0.588  0 0 0 0 0.588  1.6 0 0 0 -0.64"/></filter>
<filter id="s03d" x="0" y="0" width="100%" height="100%" color-interpolation-filters="sRGB"><feTurbulence type="fractalNoise" baseFrequency="0.04" numOctaves="2" seed="37"/><feColorMatrix type="matrix" values="0 0 0 0 0.078  0 0 0 0 0.078  0 0 0 0 0.078  2.0 0 0 0 -0.98"/></filter>
<rect x="531.6" y="537" width="148" height="110.9" filter="url(#s03d)" opacity="0.3"/>
<rect x="531.6" y="537" width="148" height="110.9" filter="url(#s03g)" opacity="0.3"/>
</g>
<text x="533.9" y="550.9" font-size="12.1" text-anchor="start" fill="#f2f2f2" >Li-Li-1mA cm<tspan dy="-4.36" font-size="7.5">-2</tspan><tspan dy="4.36" font-size="12.1">​</tspan></text>
<rect x="660.2" y="639.2" width="15.8" height="2.7" fill="#fff"/>
<text x="677.1" y="634" font-size="10.1" text-anchor="end" fill="#f2f2f2" >100μm</text>
<clipPath id="s10"><rect x="51.7" y="655" width="148.2" height="110.4"/></clipPath>
<g clip-path="url(#s10)">
<rect x="51.7" y="655" width="148.2" height="110.4" fill="#3d3d3d"/>
<filter id="s10d" x="0" y="0" width="100%" height="100%" color-interpolation-filters="sRGB"><feTurbulence type="fractalNoise" baseFrequency="0.03" numOctaves="2" seed="5"/><feColorMatrix type="matrix" values="0 0 0 0 0.078  0 0 0 0 0.078  0 0 0 0 0.078  3.0 0 0 0 -1.42"/></filter>
<filter id="s10r" x="0" y="0" width="100%" height="100%" color-interpolation-filters="sRGB"><feTurbulence type="turbulence" baseFrequency="0.042" numOctaves="1" seed="6"/><feColorMatrix type="matrix" values="0 0 0 0 0.843  0 0 0 0 0.843  0 0 0 0 0.843  -20 0 0 0 0.8"/><feGaussianBlur stdDeviation="0.55"/></filter>
<filter id="s10q" x="0" y="0" width="100%" height="100%" color-interpolation-filters="sRGB"><feTurbulence type="turbulence" baseFrequency="0.06720000000000001" numOctaves="2" seed="10"/><feColorMatrix type="matrix" values="0 0 0 0 0.745  0 0 0 0 0.745  0 0 0 0 0.745  -14 0 0 0 0.5"/><feGaussianBlur stdDeviation="0.5"/></filter>
<filter id="s10g" x="0" y="0" width="100%" height="100%" color-interpolation-filters="sRGB"><feTurbulence type="fractalNoise" baseFrequency="0.4" numOctaves="2" seed="7"/><feColorMatrix type="matrix" values="0 0 0 0 0.588  0 0 0 0 0.588  0 0 0 0 0.588  1.6 0 0 0 -0.64"/><feGaussianBlur stdDeviation="0.4"/></filter>
<filter id="s10w" x="0" y="0" width="100%" height="100%" color-interpolation-filters="sRGB"><feTurbulence type="turbulence" baseFrequency="0.042" numOctaves="1" seed="6"/><feColorMatrix type="matrix" values="0 0 0 0 0.784  0 0 0 0 0.784  0 0 0 0 0.784  -9 0 0 0 0.8"/><feGaussianBlur stdDeviation="1.3"/></filter>
<rect x="51.7" y="655" width="148.2" height="110.4" filter="url(#s10d)" opacity="0.7"/>
<rect x="51.7" y="655" width="148.2" height="110.4" filter="url(#s10w)" opacity="0.2"/>
<rect x="51.7" y="655" width="148.2" height="110.4" filter="url(#s10r)" opacity="0.7"/>
<rect x="51.7" y="655" width="148.2" height="110.4" filter="url(#s10q)" opacity="0.32"/>
<rect x="51.7" y="655" width="148.2" height="110.4" filter="url(#s10g)" opacity="0.28"/>
<circle cx="105.64" cy="705.55" r="0.68" fill="#e8e8e8" opacity="0.85"/>
<circle cx="107.84" cy="705.55" r="0.76" fill="#e8e8e8" opacity="0.85"/>
<circle cx="105.82" cy="699.93" r="0.75" fill="#e8e8e8" opacity="0.85"/>
<circle cx="103.2" cy="697.31" r="0.90" fill="#e8e8e8" opacity="0.85"/>
<circle cx="106.59" cy="703.65" r="0.47" fill="#e8e8e8" opacity="0.85"/>
<circle cx="92.82" cy="699.05" r="0.40" fill="#e8e8e8" opacity="0.85"/>
<circle cx="108.74" cy="703.56" r="0.53" fill="#e8e8e8" opacity="0.85"/>
<circle cx="102.69" cy="700.05" r="0.83" fill="#e8e8e8" opacity="0.85"/>
<circle cx="106.89" cy="697.4" r="0.61" fill="#e8e8e8" opacity="0.85"/>
<circle cx="100.74" cy="703.59" r="0.83" fill="#e8e8e8" opacity="0.85"/>
<circle cx="104.48" cy="703.02" r="0.53" fill="#e8e8e8" opacity="0.85"/>
<circle cx="92.73" cy="701.31" r="0.67" fill="#e8e8e8" opacity="0.85"/>
<circle cx="104.72" cy="698.49" r="0.64" fill="#e8e8e8" opacity="0.85"/>
<circle cx="107.38" cy="698.36" r="0.80" fill="#e8e8e8" opacity="0.85"/>
<circle cx="100.36" cy="703.21" r="0.68" fill="#e8e8e8" opacity="0.85"/>
<circle cx="114.74" cy="703.64" r="0.67" fill="#e8e8e8" opacity="0.85"/>
<circle cx="104.51" cy="697.53" r="0.56" fill="#e8e8e8" opacity="0.85"/>
<circle cx="106.84" cy="700.16" r="0.55" fill="#e8e8e8" opacity="0.85"/>
<circle cx="112.7" cy="699.59" r="0.70" fill="#e8e8e8" opacity="0.85"/>
<circle cx="93.4" cy="693.82" r="0.62" fill="#e8e8e8" opacity="0.85"/>
<circle cx="106.62" cy="701.8" r="0.62" fill="#e8e8e8" opacity="0.85"/>
<circle cx="101.69" cy="700.35" r="0.83" fill="#e8e8e8" opacity="0.85"/>
<circle cx="101.66" cy="704.88" r="0.49" fill="#e8e8e8" opacity="0.85"/>
<circle cx="106.24" cy="704.63" r="0.80" fill="#e8e8e8" opacity="0.85"/>
<circle cx="99.69" cy="696.21" r="0.74" fill="#e8e8e8" opacity="0.85"/>
<circle cx="103.09" cy="700.39" r="0.82" fill="#e8e8e8" opacity="0.85"/>
<circle cx="106.64" cy="705.36" r="0.50" fill="#e8e8e8" opacity="0.85"/>
<circle cx="112.75" cy="702.15" r="0.79" fill="#e8e8e8" opacity="0.85"/>
<circle cx="104.46" cy="704.16" r="0.73" fill="#e8e8e8" opacity="0.85"/>
<circle cx="101.27" cy="700.67" r="0.74" fill="#e8e8e8" opacity="0.85"/>
<circle cx="114.94" cy="701.62" r="0.75" fill="#e8e8e8" opacity="0.85"/>
<circle cx="104.55" cy="706.88" r="0.55" fill="#e8e8e8" opacity="0.85"/>
<circle cx="105.71" cy="701.46" r="0.56" fill="#e8e8e8" opacity="0.85"/>
<circle cx="110.22" cy="699.28" r="0.86" fill="#e8e8e8" opacity="0.85"/>
</g>
<text x="55.1" y="668.6" font-size="12.1" text-anchor="start" fill="#f2f2f2" >Li-Cu-0.5mA cm<tspan dy="-4.36" font-size="7.5">-2</tspan><tspan dy="4.36" font-size="12.1">​</tspan></text>
<rect x="182.6" y="759.2" width="12.2" height="2.7" fill="#fff"/>
<text x="197.7" y="754.6" font-size="10.1" text-anchor="end" fill="#f2f2f2" >10μm</text>
<clipPath id="s11"><rect x="210.6" y="655" width="148.3" height="110.4"/></clipPath>
<g clip-path="url(#s11)">
<rect x="210.6" y="655" width="148.3" height="110.4" fill="#494949"/>
<filter id="s11d" x="0" y="0" width="100%" height="100%" color-interpolation-filters="sRGB"><feTurbulence type="fractalNoise" baseFrequency="0.06" numOctaves="2" seed="17"/><feColorMatrix type="matrix" values="0 0 0 0 0.078  0 0 0 0 0.078  0 0 0 0 0.078  3.0 0 0 0 -1.42"/></filter>
<filter id="s11r" x="0" y="0" width="100%" height="100%" color-interpolation-filters="sRGB"><feTurbulence type="turbulence" baseFrequency="0.085" numOctaves="1" seed="18"/><feColorMatrix type="matrix" values="0 0 0 0 0.843  0 0 0 0 0.843  0 0 0 0 0.843  -20 0 0 0 0.8"/><feGaussianBlur stdDeviation="0.55"/></filter>
<filter id="s11q" x="0" y="0" width="100%" height="100%" color-interpolation-filters="sRGB"><feTurbulence type="turbulence" baseFrequency="0.136" numOctaves="2" seed="22"/><feColorMatrix type="matrix" values="0 0 0 0 0.745  0 0 0 0 0.745  0 0 0 0 0.745  -14 0 0 0 0.5"/><feGaussianBlur stdDeviation="0.5"/></filter>
<filter id="s11g" x="0" y="0" width="100%" height="100%" color-interpolation-filters="sRGB"><feTurbulence type="fractalNoise" baseFrequency="0.4" numOctaves="2" seed="19"/><feColorMatrix type="matrix" values="0 0 0 0 0.588  0 0 0 0 0.588  0 0 0 0 0.588  1.6 0 0 0 -0.64"/><feGaussianBlur stdDeviation="0.4"/></filter>
<filter id="s11w" x="0" y="0" width="100%" height="100%" color-interpolation-filters="sRGB"><feTurbulence type="turbulence" baseFrequency="0.085" numOctaves="1" seed="18"/><feColorMatrix type="matrix" values="0 0 0 0 0.784  0 0 0 0 0.784  0 0 0 0 0.784  -9 0 0 0 0.8"/><feGaussianBlur stdDeviation="1.3"/></filter>
<rect x="210.6" y="655" width="148.3" height="110.4" filter="url(#s11d)" opacity="0.7"/>
<rect x="210.6" y="655" width="148.3" height="110.4" filter="url(#s11w)" opacity="0.2"/>
<rect x="210.6" y="655" width="148.3" height="110.4" filter="url(#s11r)" opacity="0.42"/>
<rect x="210.6" y="655" width="148.3" height="110.4" filter="url(#s11q)" opacity="0.19"/>
<rect x="210.6" y="655" width="148.3" height="110.4" filter="url(#s11g)" opacity="0.28"/>
<polyline points="258.7,697.8 264.1,705.8 268.3,709 273.1,717.1 279.5,725.1 282.1,733.1 298.8,742.8 314.9,746 326.1,742.8 330.3,733.1 334.1,726.7" fill="none" stroke="#161616" stroke-width="1.6" stroke-linejoin="round" stroke-linecap="round" opacity="0.9"/>
<polyline points="326.1,668.9 330.9,675.3 337.4,688.2 335.7,701" fill="none" stroke="#161616" stroke-width="1.6" stroke-linejoin="round" stroke-linecap="round" opacity="0.9"/>
<polyline points="322,748 331,752 337,750" fill="none" stroke="#161616" stroke-width="1.6" stroke-linejoin="round" stroke-linecap="round" opacity="0.9"/>
<polyline points="247,735 262,744 268,752" fill="none" stroke="#161616" stroke-width="1.6" stroke-linejoin="round" stroke-linecap="round" opacity="0.9"/>
</g>
<text x="213.9" y="668.6" font-size="12.1" text-anchor="start" fill="#f2f2f2" >Li-Cu-0.5mA cm<tspan dy="-4.36" font-size="7.5">-2</tspan><tspan dy="4.36" font-size="12.1">​</tspan></text>
<rect x="342.8" y="759.8" width="12" height="2.7" fill="#fff"/>
<text x="357.7" y="755" font-size="10.1" text-anchor="end" fill="#f2f2f2" >10μm</text>
<clipPath id="s12"><rect x="371.7" y="655" width="147.3" height="110.4"/></clipPath>
<g clip-path="url(#s12)">
<rect x="371.7" y="655" width="147.3" height="110.4" fill="#505050"/>
<filter id="s12g" x="0" y="0" width="100%" height="100%" color-interpolation-filters="sRGB"><feTurbulence type="fractalNoise" baseFrequency="0.5" numOctaves="2" seed="40"/><feColorMatrix type="matrix" values="0 0 0 0 0.588  0 0 0 0 0.588  0 0 0 0 0.588  1.6 0 0 0 -0.64"/></filter>
<filter id="s12d" x="0" y="0" width="100%" height="100%" color-interpolation-filters="sRGB"><feTurbulence type="fractalNoise" baseFrequency="0.04" numOctaves="2" seed="43"/><feColorMatrix type="matrix" values="0 0 0 0 0.078  0 0 0 0 0.078  0 0 0 0 0.078  2.0 0 0 0 -0.98"/></filter>
<rect x="371.7" y="655" width="147.3" height="110.4" filter="url(#s12d)" opacity="0.3"/>
<rect x="371.7" y="655" width="147.3" height="110.4" filter="url(#s12g)" opacity="0.3"/>
<g fill="none" stroke="#8a8a8a" stroke-width="0.5" opacity="0.7"><ellipse cx="423.9" cy="698.2" rx="7" ry="11" transform="rotate(18 423.9 698.2)"/><path d="M442.3 668 Q452 700 466 741.4"/><path d="M392.6 711 Q402 724 409.9 719.8 T422.8 709"/><path d="M395 690 Q400 672 412 668"/><path d="M436 735 Q452 720 470 728"/><path d="M478 690 Q490 700 508 694"/></g>
<circle cx="379.6" cy="696" r="2.6" fill="#8c8c8c" opacity="0.7"/><circle cx="465.5" cy="738" r="2.2" fill="#6c6c6c" opacity="0.7"/>
</g>
<text x="373.9" y="668.6" font-size="12.1" text-anchor="start" fill="#f2f2f2" >Li-Li-1mA cm<tspan dy="-4.36" font-size="7.5">-2</tspan><tspan dy="4.36" font-size="12.1">​</tspan></text>
<rect x="501.1" y="758.3" width="14.9" height="2.7" fill="#fff"/>
<text x="519.3" y="754.6" font-size="10.1" text-anchor="end" fill="#f2f2f2" >100μm</text>
<clipPath id="s13"><rect x="531.6" y="655" width="148" height="110.4"/></clipPath>
<g clip-path="url(#s13)">
<rect x="531.6" y="655" width="148" height="110.4" fill="#363636"/>
<linearGradient id="g13" x1="0" y1="0" x2="1" y2="0"><stop offset="0" stop-color="#636363"/><stop offset="1" stop-color="#4e4e4e"/></linearGradient>
<rect x="531.6" y="655" width="148" height="28" fill="url(#g13)"/>
<polygon points="607.6,681 613.6,672 621.6,670 626.6,681" fill="#2c2c2c" />
<polygon points="531.6,684 581.6,681.5 679.6,680.5 679.6,695 531.6,695" fill="#5c5c5c" />
<polygon points="531.6,683.5 581.6,681 679.6,680 679.6,682.5 581.6,683.5 531.6,686" fill="#787878" />
<polygon points="531.6,688 591.6,686 679.6,689 679.6,695.5 531.6,695.5" fill="#4b4b4b" />
<rect x="531.6" y="695" width="148" height="52" fill="#393939"/>
<rect x="531.6" y="746" width="148" height="3.4" fill="#1f1f1f"/>
<rect x="531.6" y="749.4" width="148" height="16" fill="#303030"/>
<filter id="s13g" x="0" y="0" width="100%" height="100%" color-interpolation-filters="sRGB"><feTurbulence type="fractalNoise" baseFrequency="0.5" numOctaves="2" seed="41"/><feColorMatrix type="matrix" values="0 0 0 0 0.588  0 0 0 0 0.588  0 0 0 0 0.588  1.6 0 0 0 -0.64"/></filter>
<filter id="s13d" x="0" y="0" width="100%" height="100%" color-interpolation-filters="sRGB"><feTurbulence type="fractalNoise" baseFrequency="0.04" numOctaves="2" seed="44"/><feColorMatrix type="matrix" values="0 0 0 0 0.078  0 0 0 0 0.078  0 0 0 0 0.078  2.0 0 0 0 -0.98"/></filter>
<rect x="531.6" y="655" width="148" height="110.4" filter="url(#s13d)" opacity="0.3"/>
<rect x="531.6" y="655" width="148" height="110.4" filter="url(#s13g)" opacity="0.3"/>
<g fill="none" stroke="#4a4a4a" stroke-width="0.5" opacity="0.8"><path d="M543.6 696 L544.1 726"/><path d="M558.6 696 L559.1 718"/><path d="M567.6 696 L568.1 740"/><path d="M583.6 696 L584.1 714"/><path d="M595.6 696 L596.1 732"/><path d="M608.6 696 L609.1 721"/><path d="M621.6 696 L622.1 736"/><path d="M635.6 696 L636.1 716"/><path d="M649.6 696 L650.1 729"/><path d="M652.6 696 L653.1 744"/><path d="M664.6 696 L665.1 722"/><path d="M672.6 696 L673.1 734"/></g>
</g>
<text x="535.2" y="669.5" font-size="12.1" text-anchor="start" fill="#f2f2f2" >Li-Li-1mA cm<tspan dy="-4.36" font-size="7.5">-2</tspan><tspan dy="4.36" font-size="12.1">​</tspan></text>
<rect x="662.7" y="758.2" width="15.3" height="2.7" fill="#fff"/>
<text x="678.9" y="752.9" font-size="10.1" text-anchor="end" fill="#f2f2f2" >100μm</text>
<text x="-0.3" y="540.4" font-size="17.5" text-anchor="start" fill="#000" >h</text>
<text x="2" y="660.6" font-size="17.5" text-anchor="start" fill="#000" >i</text>
</svg>
</body></html>
